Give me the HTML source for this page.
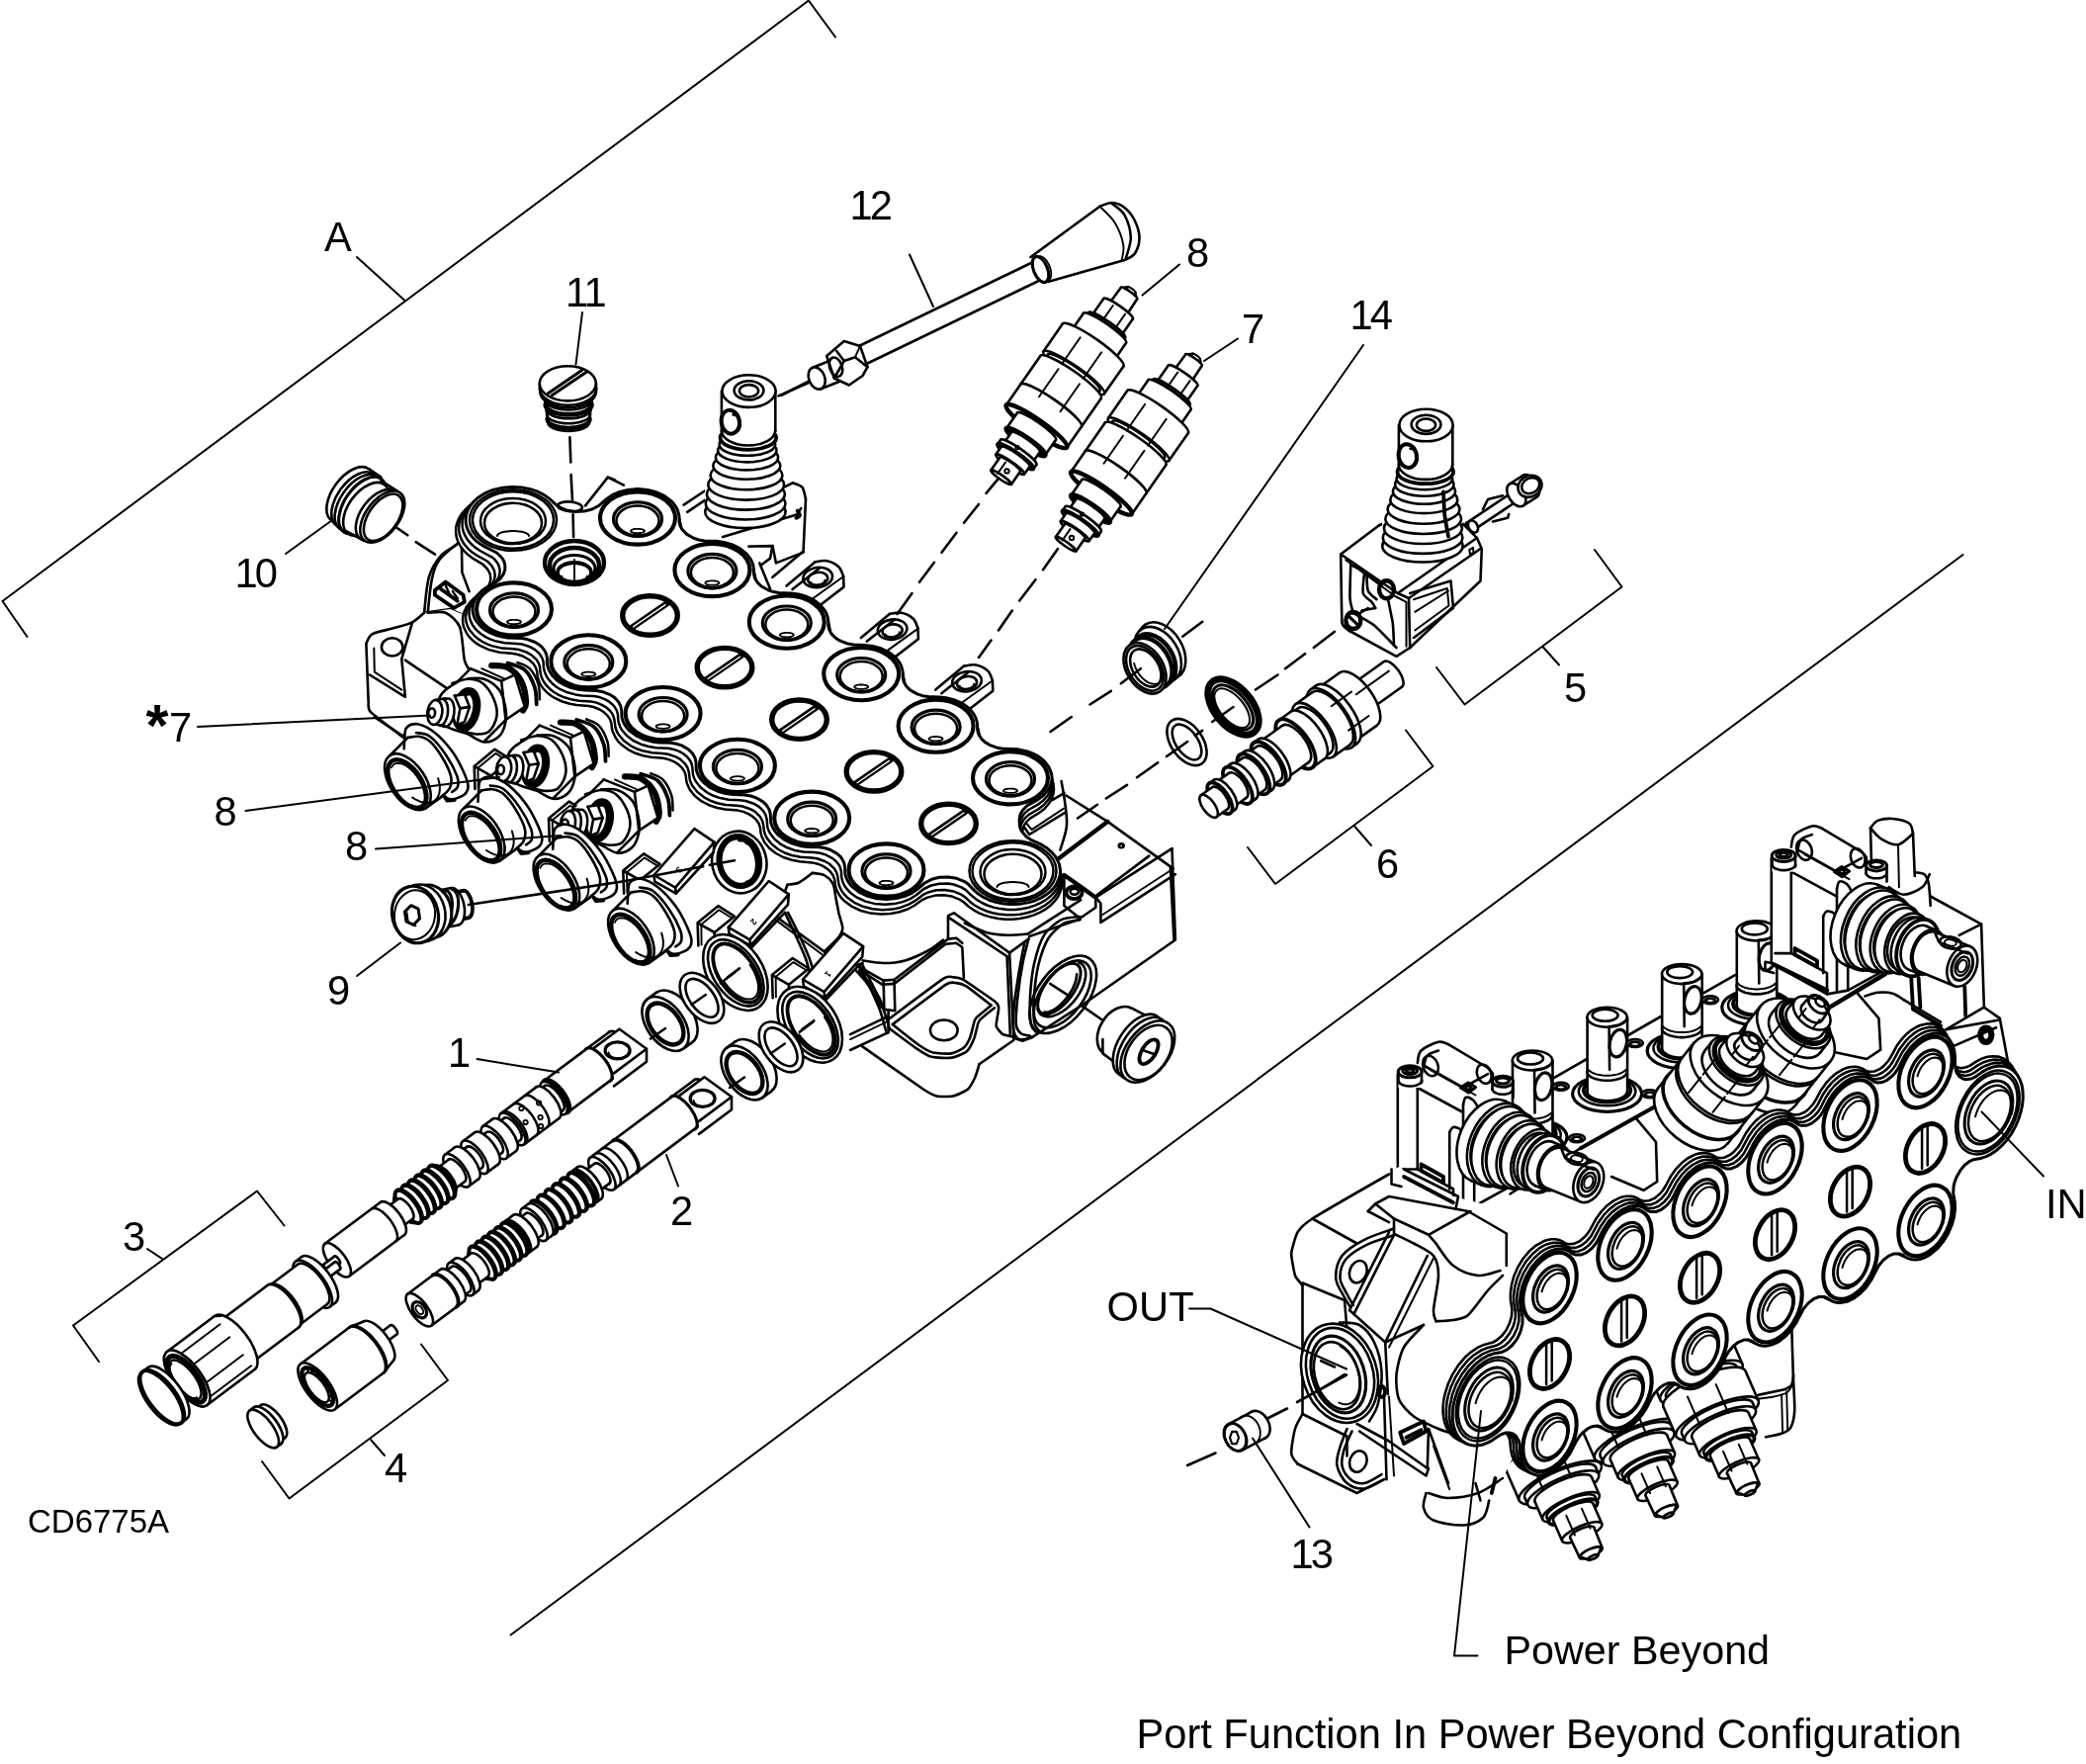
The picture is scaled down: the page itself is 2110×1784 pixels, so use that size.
<!DOCTYPE html><html><head><meta charset="utf-8"><title>CD6775A</title><style>html,body{margin:0;padding:0;background:#fff}svg{display:block}text{font-family:"Liberation Sans",sans-serif;fill:#000;stroke:none}svg{will-change:transform}</style></head><body><svg width="2110" height="1784" viewBox="0 0 2110 1784" fill="none" stroke="#000" stroke-width="2" stroke-linecap="round" stroke-linejoin="round"><rect x="0" y="0" width="2110" height="1784" fill="#fff" stroke="none"/><g stroke-width="2.6">
<path d="M691.6 510.6 L714.3 497.4 L793.4 492.7 L805.4 487.9 L815 499.8 L812.6 557.4 L781.4 583.7 L757.5 547.8Z" fill="#fff" stroke="none"/>
<path d="M691.6 510.6 L714.3 495.5"/>
<path d="M695.2 517.8 L716.7 503.4"/>
<path d="M793.4 492.7 L801.8 488.3"/>
<path d="M801.8 488.3C803.1 488.9 809.7 490.5 811.4 492.7C813.2 494.8 814.5 503 815 504.6"/>
<path d="M815 504.6 L812.6 557.4 L781.4 583.7"/>
<path d="M731.1 543 L806.6 520.2 L810.2 514.2"/>
<path d="M757.5 552.6 L781.4 552.1 L785 569.4 L812.6 558.6"/>
<path d="M781.4 552.1 L779.1 564.6 L769.5 571.8"/>
<path d="M768.3 569.4 L779.1 595.7"/>
<path d="M805.4 523.8C806 523.4 808.8 522.6 809 521.4C809.2 520.2 807 517.4 806.6 516.6" stroke-width="3.8"/>
<path d="M467.4 533.4 L465.1 547.8 L445.9 562.2 L433.9 583.7 L429.1 619.7 L455.5 616.1 L469.8 622.1 L474.6 595.7 L493.8 571.8Z" fill="#fff" stroke="none"/>
<path d="M467.4 533.4C467.1 535.8 468.6 543 465.1 547.8C461.5 552.6 451.1 556.2 445.9 562.2C440.7 568.2 436.7 574.2 433.9 583.7C431.1 593.3 429.9 613.7 429.1 619.7"/>
<path d="M465.1 547.8C461.7 550.8 449.4 559.4 444.7 565.8C440 572.2 438.8 577.1 436.8 586.1C434.8 595.1 433.4 614.1 432.7 619.7"/>
<path d="M429.1 619.7 L455.5 616.1 L468.6 622.1"/>
<path d="M466.7 533.4 L467.4 578.9 L474.6 598.1"/>
<path d="M439.9 596.9 L450.7 588.5 L468.6 601.7 L469.8 608.9 L459.1 614.9 L439.9 601.7 L439.9 596.9" stroke-width="3.8"/>
<path d="M445.9 595.7 L462.7 607.7" stroke-width="3.8"/>
<path d="M450.7 592.1 L455.5 602.9" stroke-width="2.5"/>
<path d="M457.9 598.1 L462.7 605.3" stroke-width="2.5"/>
<path d="M429.1 619.7 L417.1 629.3 L376.4 641.3 L370.4 650.9 L372.8 713.2 L407.5 744.3 L469.8 691.6 L469.8 622.1 L455.5 616.1Z" fill="#fff" stroke="none"/>
<path d="M429.1 619.7C427.5 621 421.3 627.2 417.1 629.3C413 631.4 403.4 633.7 397.9 635.3C392.5 636.9 380 639.2 376.4 641.3C372.7 643.3 371.2 649.6 370.4 650.9"/>
<path d="M370.4 650.9 L372.8 713.2"/>
<path d="M372.8 713.2C373 713.9 371.7 717.1 375.2 720.4C378.6 723.6 404.3 743 407.5 745.5"/>
<path d="M417.1 629.3 L406.3 666.4 L409.9 704.8 L374 682.5"/>
<path d="M378.3 655.6 L378.8 679.6 L406.3 697.6" stroke-width="2"/>
<ellipse cx="396.7" cy="654.4" rx="10.8" ry="9.1"/>
<path d="M409.9 667.6 L453.1 696.9"/>
<path d="M432.7 619.7C435.1 619.7 446.4 617.8 450.7 619.7C455 621.6 462.5 627.7 465.1 634.1C467.6 640.5 468.6 661.9 469.8 667.6C471.1 673.4 474 675.9 474.6 677.2"/>
<path d="M378.8 725.2 L407.5 744.3 L421.9 732.3"/>
<g transform="translate(0 0)"><path d="M795.5 592.4 L824.3 568.4 L844.7 570.8 L853.1 582.8 L853.5 593.6 L830.3 611.5 L809.9 607.9Z" fill="#fff" stroke="none"/>
<path d="M795.5 592.4 L824.3 568.4"/>
<path d="M824.3 568.4C826.3 568.2 832.3 566.4 836.3 567.2C840.3 568 845.5 570.6 848.3 573.2C851.1 575.8 852.3 581.2 853.1 582.8"/>
<path d="M853.1 582.8 L853.5 593.6 L830.3 611.5"/>
<path d="M801.5 596 L829.1 574.4"/>
<path d="M821.9 605.5 L851.9 584" stroke-width="2"/>
<ellipse cx="827.2" cy="584" rx="14.9" ry="10.1" transform="rotate(-8 827.2 584)"/>
<ellipse cx="827.2" cy="585.4" rx="10.1" ry="6.5" transform="rotate(-8 827.2 585.4)"/>
<path d="M834.3 586.6 L834.3 587.2 L834.1 587.9 L833.7 588.5 L833.1 589.1 L832.4 589.7 L831.5 590.2 L830.5 590.6 L829.4 591 L828.3 591.3 L827.1 591.4 L826 591.5 L824.8 591.4 L823.7 591.3 L822.8 591 L821.9 590.7 L821.2 590.3 L820.6 589.7 L820.2 589.2 L820.1 588.6" stroke-width="1.9"/></g>
<g transform="translate(75.4 52.6)"><path d="M795.5 592.4 L824.3 568.4 L844.7 570.8 L853.1 582.8 L853.5 593.6 L830.3 611.5 L809.9 607.9Z" fill="#fff" stroke="none"/>
<path d="M795.5 592.4 L824.3 568.4"/>
<path d="M824.3 568.4C826.3 568.2 832.3 566.4 836.3 567.2C840.3 568 845.5 570.6 848.3 573.2C851.1 575.8 852.3 581.2 853.1 582.8"/>
<path d="M853.1 582.8 L853.5 593.6 L830.3 611.5"/>
<path d="M801.5 596 L829.1 574.4"/>
<path d="M821.9 605.5 L851.9 584" stroke-width="2"/>
<ellipse cx="827.2" cy="584" rx="14.9" ry="10.1" transform="rotate(-8 827.2 584)"/>
<ellipse cx="827.2" cy="585.4" rx="10.1" ry="6.5" transform="rotate(-8 827.2 585.4)"/>
<path d="M834.3 586.6 L834.3 587.2 L834.1 587.9 L833.7 588.5 L833.1 589.1 L832.4 589.7 L831.5 590.2 L830.5 590.6 L829.4 591 L828.3 591.3 L827.1 591.4 L826 591.5 L824.8 591.4 L823.7 591.3 L822.8 591 L821.9 590.7 L821.2 590.3 L820.6 589.7 L820.2 589.2 L820.1 588.6" stroke-width="1.9"/></g>
<g transform="translate(150.8 105.2)"><path d="M795.5 592.4 L824.3 568.4 L844.7 570.8 L853.1 582.8 L853.5 593.6 L830.3 611.5 L809.9 607.9Z" fill="#fff" stroke="none"/>
<path d="M795.5 592.4 L824.3 568.4"/>
<path d="M824.3 568.4C826.3 568.2 832.3 566.4 836.3 567.2C840.3 568 845.5 570.6 848.3 573.2C851.1 575.8 852.3 581.2 853.1 582.8"/>
<path d="M853.1 582.8 L853.5 593.6 L830.3 611.5"/>
<path d="M801.5 596 L829.1 574.4"/>
<path d="M821.9 605.5 L851.9 584" stroke-width="2"/>
<ellipse cx="827.2" cy="584" rx="14.9" ry="10.1" transform="rotate(-8 827.2 584)"/>
<ellipse cx="827.2" cy="585.4" rx="10.1" ry="6.5" transform="rotate(-8 827.2 585.4)"/>
<path d="M834.3 586.6 L834.3 587.2 L834.1 587.9 L833.7 588.5 L833.1 589.1 L832.4 589.7 L831.5 590.2 L830.5 590.6 L829.4 591 L828.3 591.3 L827.1 591.4 L826 591.5 L824.8 591.4 L823.7 591.3 L822.8 591 L821.9 590.7 L821.2 590.3 L820.6 589.7 L820.2 589.2 L820.1 588.6" stroke-width="1.9"/></g>
<path d="M1078.4 804.5 L1120.3 830.9 L1183.8 876.4 L1187.4 949.5 L1109.5 1010.6 L1068.8 919.5 L1061.6 847.6Z" fill="#fff" stroke="none"/>
<path d="M1078.4 804.5 L1120.3 830.9 L1183.8 876.4 L1187.4 949.5"/>
<path d="M1120.3 830.9 L1071.2 868" stroke-width="4.4"/>
<path d="M1162.3 865.6 L1109.5 905.2"/>
<ellipse cx="1134.2" cy="855.3" rx="2.4" ry="1.9"/>
<path d="M1073.6 790.1C1074.2 793.7 1076.3 804.1 1077.2 811.7C1078.1 819.3 1079.7 827.7 1078.9 835.6C1078.1 843.6 1073.5 855.6 1072.4 859.6"/>
<path d="M1076.5 802.1 L1030.4 828.5 L1041.2 844 L1077.9 821.3"/>
<path d="M1034 827.3 L1043.6 839.2 L1076 817.7" stroke-width="2"/>
<ellipse cx="747.8" cy="872" rx="27.5" ry="31.5" fill="#fff" transform="rotate(-12 747.8 872)"/>
<ellipse cx="747.8" cy="871" rx="20.1" ry="25" stroke-width="6.2" transform="rotate(-10 747.8 871)"/>
<path d="M748.1 849 L750.4 848.9 L752.8 849.4 L755.2 850.5 L757.4 852.2 L759.6 854.3 L761.5 856.9 L763.1 859.9 L764.5 863.2 L765.5 866.7 L766.1 870.4 L766.4 874 L766.2 877.6 L765.7 880.9 L764.8 884 L763.6 886.8 L762 889.1 L760.1 890.9 L758.1 892.2 L755.8 892.9" stroke-width="5"/>
<path d="M754.9 852.4 L756.7 852.9 L758.4 853.9 L760.1 855.4 L761.7 857.3 L763.2 859.6 L764.5 862.2 L765.5 865 L766.4 868.1 L766.9 871.2 L767.2 874.3 L767.1 877.4 L766.8 880.3 L766.2 882.9 L765.4 885.3 L764.3 887.2 L763 888.8 L761.5 889.8" stroke-width="3.1"/>
<path d="M760.7 856.2 L762 857.1 L763.2 858.3 L764.4 860 L765.5 861.9 L766.5 864.2 L767.3 866.6 L767.9 869.1 L768.4 871.7 L768.7 874.4 L768.7 876.9 L768.6 879.3 L768.2 881.5 L767.7 883.5 L766.9 885.1 L766 886.4" stroke-width="2.5"/>
<path d="M717.8 874.7 L743 870.2"/>
<path d="M796.5 894.8 L808.4 892.5 L821.8 882.9 L833.7 885.1 L842.6 894 L845.6 908.9 L848.5 923.7 L852.3 938.6 L848.5 947.5 L833.7 962.4 L784.7 926.7Z" fill="#fff" stroke="none"/>
<path d="M796.5 894.8C798.1 894.5 805.1 894.1 808.4 892.5C811.8 890.9 820 884.2 821.8 882.9"/>
<path d="M821.8 882.9C823.4 883.2 830.9 883.6 833.7 885.1C836.5 886.6 841 890.8 842.6 894C844.2 897.2 844.8 904.9 845.6 908.9C846.4 912.8 847.7 919.8 848.5 923.7C849.4 927.7 852.3 935.4 852.3 938.6C852.3 941.8 851 944.3 848.5 947.5C846.1 950.7 835.7 960.4 833.7 962.4"/>
<path d="M796.5 894.8 L784.7 926.7 L833.7 962.4"/>
<path d="M784.7 930.4 L831.5 965.3" stroke-width="2"/>
<path d="M478.6 564.9 L488.2 570.6 L493.1 575.5 L495.2 579.3 L495.9 581.3 L496.3 585.3 L496.1 587.3 L494.9 591.2 L492.7 595 L489.4 598.3 L480.6 604.3 L476 608.4 L471.7 614 L469.1 619.8 L468.3 623.6 L468 626.9 L468.3 630.4 L469.1 634.2 L472.2 640.7 L474.7 644.2 L477.6 647.1 L481.1 650.1 L485.4 652.9 L494.6 657.1 L505.3 659.8 L517.4 660.8 L523.2 661.7 L528.7 663.5 L535.6 667.5 L539.1 670.8 L541.7 674.6 L543.1 678.7 L543.6 683.8 L544.4 687 L545.8 690.5 L547.8 694 L550.2 697.2 L553.6 700.6 L557.2 703.5 L561.6 706.2 L568.8 709.5 L576.4 711.7 L583.3 712.9 L595.7 714 L601.3 715.3 L606.5 717.5 L610.9 720.3 L614.4 723.6 L617 727.4 L618.4 731.5 L618.9 736.6 L619.7 739.8 L622.8 746.3 L625.3 749.8 L628.2 752.7 L635.4 758.1 L642.8 761.8 L650.6 764.3 L658.6 765.7 L671 766.8 L676.6 768.1 L681.8 770.3 L686.2 773.1 L689.7 776.4 L692.3 780.2 L693.7 784.3 L694.2 789.4 L695 792.6 L697.9 798.9 L702.8 804.9 L709.8 810.4 L717.1 814.2 L725.6 817 L733.5 818.5 L746.3 819.6 L751.9 820.9 L757.1 823.1 L761.5 825.9 L765 829.2 L767.6 833 L769 837.1 L769.5 842.2 L770.3 845.4 L773.2 851.7 L778.1 857.7 L784.8 863 L792.4 867 L800.9 869.8 L808.8 871.3 L821.6 872.4 L827.2 873.7 L832.4 875.9 L836.8 878.7 L840.3 882 L842.9 885.8 L844.3 889.9 L844.8 895 L845.6 898.2 L847 901.7 L849 905.2 L851.4 908.4 L854.5 911.6 L861.9 916.9 L870.8 921 L880.7 923.6 L891.1 924.6 L900.9 924.1 L909.9 922.3 L918 919.5 L924.6 916 L933.3 909.8 L938.1 907.6 L946.1 905.6 L954.7 905.3 L963 906.6 L970.5 909.6 L974.7 912.3 L979.7 916.8 L984.4 920.1 L990.3 923.4 L996.4 925.8 L1002.5 927.6 L1009.8 929 L1016.7 929.7 L1024.3 929.7 L1031.2 929 L1038.9 927.5 L1045.8 925.4 L1051.7 922.8 L1057.9 919.3 L1063 915.4 L1067.4 910.7 L1070.5 906.3 L1073.5 899.2 L1074.5 892.1 L1073.7 885.4 L1072.5 881.8 L1070.8 878.3 L1066.2 871.9 L1060.6 866.7 L1054.6 862.7 L1043.8 857.2 L1039.9 854.1 L1038.3 852.4 L1035.8 848.7 L1035 846.7 L1034.2 842.7 L1034.5 838.6 L1035.1 836.6 L1035.9 834.6 L1038.5 830.9 L1042 827.6 L1051.2 822 L1056.7 817.7 L1061.5 812 L1064.5 806 L1065.5 802.6 L1066 798.7 L1065.3 791.9 L1064.2 788.7 L1062.4 785 L1060.2 781.8 L1057.3 778.5 L1053.7 775.3 L1049.5 772.4 L1044.8 769.9 L1039.7 767.8 L1034.3 766.2 L1028.7 765 L1016.5 764 L1010.6 763 L1005.2 761.2 L998.3 757.3 L994.7 753.9 L992.2 750.1 L990.8 746 L990.3 741.2 L989.4 737.7 L987.9 734 L985.9 730.7 L983.1 727.1 L979.8 724 L972.3 718.8 L965.1 715.5 L957.5 713.3 L950.6 712.1 L938.1 711 L932.5 709.7 L927.3 707.5 L922.9 704.7 L919.3 701.4 L916.8 697.6 L915.4 693.5 L914.1 685.4 L911 678.9 L908.5 675.5 L905.6 672.5 L898.4 667.1 L892 663.9 L884.6 661.3 L876.4 659.7 L865.7 658.9 L859.8 657.9 L854.4 656.1 L849.6 653.7 L847.5 652.2 L843.9 648.8 L841.4 645 L840 640.9 L839.5 636.1 L838.6 632.6 L837.1 628.9 L835.3 625.9 L830.5 620.2 L823.9 615.1 L817.3 611.6 L810 609 L801.3 607.2 L790.3 606.3 L784.4 605.4 L779 603.6 L774.2 601.1 L772.1 599.6 L768.5 596.3 L766 592.5 L764.6 588.4 L764.1 583.6 L763.2 580.1 L761.7 576.4 L759.9 573.3 L755.1 567.6 L748.8 562.7 L741.9 559.1 L734.6 556.5 L725.9 554.6 L714.9 553.8 L709 552.8 L703.6 551 L698.8 548.6 L694.8 545.4 L693.1 543.7 L690.6 539.9 L689.2 535.8 L688.7 531 L687.8 527.5 L686.3 523.8 L684.3 520.5 L681.6 517.1 L678.7 514.2 L671.6 509.1 L662.7 505 L652.8 502.4 L642.4 501.4 L631.8 502 L622.8 503.9 L614.5 507 L608 510.6 L599.7 516.6 L594.8 518.9 L589.3 520.5 L580.5 521.4 L574.6 520.9 L566.3 518.8 L561.4 516.5 L552.4 509.7 L546.2 506.2 L539.1 503.2 L530.9 500.9 L521.8 499.5 L512.2 499.3 L502.1 500.3 L492.9 502.5 L486.3 505 L480.6 507.9 L475.1 511.5 L471 515.1 L467.3 519.3 L464.2 524.1 L462.4 528.6 L461.2 533.4 L461.1 538.7 L461.8 543.6 L463.4 548.1 L466.1 553 L469.3 557.1 L473.4 561.1Z" stroke-width="2.5" fill="#fff"/>
<path d="M482.2 561.6 L492 567 L494 568.6 L497.3 572.1 L499.5 576 L500.2 578.1 L500.7 582.2 L499.9 586.4 L498.1 590.4 L496.7 592.3 L493.2 595.7 L484.3 601.3 L479.3 605.6 L474.9 611.1 L472.2 616.8 L471 623.3 L471.2 627 L471.9 630.4 L473.3 634 L475 637.2 L480.2 643.3 L483.6 646.1 L487.7 648.8 L492.2 651.1 L497.2 653.1 L507.8 655.6 L519.6 656.3 L525.2 657.1 L533 659.8 L537.5 662.3 L542.7 667.2 L544.9 670.9 L546.1 674.9 L546.5 679.8 L547.2 683.2 L548.6 686.8 L550.6 690.5 L553.3 693.9 L556.2 696.7 L559.9 699.7 L564.1 702.3 L570.8 705.3 L578.8 707.6 L585.7 708.7 L597.7 709.4 L603.3 710.6 L608.3 712.6 L612.8 715.1 L616.5 718.3 L619.3 721.8 L620.2 723.7 L621.4 727.7 L622.5 735.8 L623.9 739.6 L625.6 742.8 L630.8 748.9 L637.7 754.1 L644.1 757.3 L650.9 759.6 L659.6 761.3 L670.2 761.9 L675.8 762.7 L683.6 765.4 L688.1 767.9 L693.3 772.8 L695.5 776.5 L696.7 780.5 L697.8 788.6 L698.9 791.9 L700.8 795.3 L705.4 801 L712.1 806.3 L718.4 809.7 L725.5 812.2 L734.1 814 L745.5 814.7 L751.1 815.5 L758.9 818.2 L763.4 820.7 L768.6 825.6 L770.8 829.3 L772 833.3 L773.1 841.4 L774.2 844.7 L776.1 848.1 L780.7 853.8 L787.2 859 L793.7 862.5 L800.8 865 L809.4 866.8 L820.8 867.5 L826.4 868.3 L834.2 871 L838.7 873.5 L843.9 878.4 L846.1 882.1 L847.3 886.1 L848.4 894.2 L849.8 898 L851.5 901.2 L854.1 904.7 L857.1 907.7 L864.2 912.8 L873 916.8 L882.5 919.3 L892.6 920.2 L902.7 919.6 L911.3 917.7 L919.2 914.7 L925.4 911.2 L933.7 904.9 L938.6 902.5 L947 900.3 L955.9 899.9 L964.5 901.4 L972.2 904.6 L976.4 907.5 L981.4 912.2 L985.8 915.5 L991.4 918.7 L997.2 921.2 L1003.8 923.2 L1010.3 924.5 L1017.9 925.3 L1025.1 925.3 L1031.8 924.7 L1038.8 923.3 L1045 921.5 L1051.6 918.7 L1057.2 915.5 L1062.4 911.5 L1066.2 907.6 L1069.6 902.8 L1072.5 896 L1073.5 888.9 L1072.5 881.8 L1069.5 875 L1064.8 868.9 L1059.3 864 L1053.3 860.2 L1042.8 855.2 L1038.8 852.3 L1034.5 847.3 L1033.5 845.4 L1032.4 841.5 L1032.2 838.9 L1032.6 834.8 L1033.3 832.8 L1035.5 828.9 L1037 827.1 L1040.7 823.9 L1050 818.5 L1055.8 814 L1060.5 808.6 L1063.6 802.7 L1065 796.2 L1064.9 792.5 L1064.3 789.1 L1063.1 785.5 L1061.4 782.3 L1059.1 779 L1056.5 776.1 L1053 773 L1048.3 769.9 L1043.8 767.6 L1038.8 765.7 L1028.2 763.2 L1016.3 762.4 L1010.7 761.6 L1002.8 759 L998.4 756.4 L993.2 751.5 L991 747.8 L989.8 743.8 L989.4 739.2 L988.7 735.8 L987.3 732.2 L985.3 728.5 L983 725.5 L979.7 722.3 L976 719.3 L971.8 716.7 L964.4 713.5 L957.1 711.4 L950.2 710.3 L938.1 709.6 L932.5 708.4 L927.4 706.4 L923 703.9 L919.3 700.7 L916.5 697.2 L915.6 695.3 L914.4 691.3 L914 686.6 L913.3 683.2 L911.9 679.7 L910.2 676.5 L905 670.4 L898.1 665.2 L891.7 662 L884.9 659.7 L876.2 657.9 L865.5 657.3 L859.9 656.5 L854.5 654.9 L847.6 651.3 L843.9 648.2 L841.1 644.6 L840.2 642.7 L839 638.7 L837.9 630.9 L836.8 627.6 L834.9 624.2 L830.3 618.5 L823.6 613.2 L817.3 609.8 L810.2 607.3 L800.8 605.4 L790.1 604.8 L784.5 604 L779.1 602.4 L772.2 598.8 L767 593.9 L764.8 590.2 L763.6 586.2 L762.5 578.4 L761.4 575.1 L759.5 571.6 L754.9 565.9 L748.4 560.8 L741.9 557.3 L734.8 554.8 L725.4 552.8 L714.7 552.2 L709.1 551.4 L701.2 548.8 L696.8 546.2 L693.1 543.1 L691.6 541.3 L689.4 537.6 L688.2 533.6 L687.8 529 L687.1 525.6 L685.7 522 L684 518.8 L681.4 515.3 L678.4 512.3 L671.3 507.2 L662.8 503.3 L653.4 500.8 L642.9 499.8 L632.8 500.4 L624.2 502.3 L615.7 505.6 L609.6 509.1 L601.6 515.3 L596.9 517.7 L588.9 520 L580.2 520.6 L571.7 519.4 L566.4 517.7 L561.7 515.3 L553.5 508.8 L547.8 505.2 L540.7 502 L532.5 499.5 L523.4 498 L513.6 497.6 L503.5 498.7 L494.8 500.8 L488.3 503.2 L483.2 505.8 L478.2 509 L473.6 512.9 L470.1 517 L467.1 521.6 L465.2 526.2 L464.2 531.2 L464.1 535.9 L465 541 L466.7 545.5 L469.5 550.3 L472.9 554.3 L477.3 558.3Z" stroke-width="2.5" fill="#fff"/>
<path d="M485.6 557 L498.2 563.9 L500.1 565.5 L503 569.1 L504.1 571 L505.4 575 L505.6 579.2 L504.6 583.3 L503.7 585.2 L501.1 588.9 L497.5 592.2 L488.3 597.6 L483.7 601.2 L479.1 606.3 L476 611.9 L475 615.4 L474.5 618.6 L474.6 622.1 L475.3 625.9 L476.5 629.1 L478.2 632.4 L480.3 635.3 L483.3 638.5 L486.8 641.3 L490.7 643.9 L495.1 646.1 L500.5 648.1 L510.8 650.3 L522.4 650.9 L528.3 651.6 L536.4 654.3 L541 656.9 L544.8 660.2 L546.3 662 L548.6 665.8 L549.7 670 L549.9 674.9 L550.5 678.2 L551.8 681.9 L553.7 685.4 L556.2 688.7 L559.2 691.8 L562.8 694.7 L566.9 697.2 L573.9 700.3 L581.9 702.4 L588.6 703.4 L600.7 704 L606.4 705.1 L611.7 707.1 L616.3 709.7 L620.1 713 L621.6 714.8 L623.9 718.6 L625 722.8 L625.2 727.7 L625.8 731 L627.1 734.7 L628.8 738 L633.7 743.8 L640.5 749 L648.2 752.7 L656.2 755 L663.5 756.2 L676 756.8 L681.7 757.9 L687 759.9 L691.6 762.5 L695.4 765.8 L698.2 769.5 L699.2 771.4 L700.3 775.6 L701 783.5 L702 786.7 L703.8 790.3 L708.5 796.2 L715 801.3 L721.6 804.8 L728.4 807.1 L737.1 808.8 L748.3 809.3 L754.2 810 L762.3 812.7 L766.9 815.3 L768.9 816.9 L772.2 820.4 L774.5 824.2 L775.6 828.4 L776.3 836.3 L777.3 839.5 L779.1 843.1 L783.6 848.8 L790 853.9 L796.3 857.3 L803.7 859.9 L812.4 861.6 L823.6 862.1 L829.5 862.8 L835 864.4 L842.2 868.1 L846 871.4 L848.8 875.1 L849.8 877 L850.9 881.2 L851.1 886.1 L851.7 889.4 L852.8 892.8 L854.7 896.4 L857.2 899.7 L859.8 902.5 L863.3 905.3 L866.9 907.7 L875.4 911.6 L884.5 913.9 L894.8 914.8 L904.5 914.1 L913 912.1 L920.5 909.1 L926.7 905.3 L934.5 899 L941.8 895.5 L950.1 893.7 L959 893.6 L964.7 894.5 L972.5 897.4 L976.9 900.1 L983.7 906.6 L987.8 909.8 L993.1 913 L998.5 915.5 L1004.8 917.6 L1011.9 919.1 L1019.1 919.9 L1026.5 919.9 L1032.9 919.3 L1039.7 918 L1046.4 915.9 L1051.9 913.5 L1057.3 910.4 L1062.3 906.6 L1066 902.9 L1069.3 898.3 L1072.1 891.7 L1073 884.9 L1072.7 881.4 L1071.8 877.5 L1068.8 870.9 L1064.5 865.4 L1058.5 860.3 L1052.6 856.8 L1042.5 852.1 L1038.5 849.3 L1034.1 844.2 L1033.1 842.3 L1031.9 838.4 L1031.7 834.2 L1032.1 830 L1032.8 828 L1035.1 824.1 L1036.6 822.3 L1040.4 819 L1049.9 813.7 L1055.3 809.6 L1060.2 804 L1063.1 798.4 L1064 795.1 L1064.5 791.6 L1064.4 788.4 L1063.7 784.9 L1062.5 781.7 L1060.8 778.4 L1056.4 772.9 L1052.5 769.6 L1048.6 767 L1043.9 764.7 L1039.1 762.9 L1028.9 760.5 L1016.5 759.9 L1010.6 759.1 L1005.1 757.5 L997.9 753.8 L994.1 750.6 L992.6 748.8 L990.3 744.9 L989.2 740.8 L989 736.1 L988.4 732.8 L987.1 729.1 L985.2 725.6 L982.7 722.3 L979.7 719.2 L976.1 716.3 L972 713.8 L965 710.7 L957 708.6 L950.3 707.6 L938.1 707 L932.4 705.9 L927.1 703.9 L922.5 701.3 L918.7 698 L915.9 694.3 L914.9 692.4 L913.8 688.2 L913.6 683.5 L913 680.3 L911.9 676.8 L910 673.3 L905.1 667.4 L898.3 662.2 L891.2 658.8 L882.6 656.2 L874.9 655.1 L862.7 654.5 L857 653.3 L851.7 651.4 L847.1 648.7 L843.3 645.5 L840.5 641.8 L839.5 639.8 L838.4 635.7 L838.2 631 L837.6 627.7 L836.5 624.3 L834.9 621.2 L830.2 615.3 L823.7 610.2 L817.1 606.7 L810 604.3 L800.9 602.7 L790.3 602.2 L784.4 601.5 L776.3 598.8 L771.7 596.2 L767.9 592.9 L765.1 589.2 L764.1 587.3 L763 583.1 L762.8 578.4 L762.2 575.2 L761.1 571.7 L759.5 568.6 L754.8 562.7 L748.6 557.8 L742.3 554.5 L734.9 551.9 L726.2 550.2 L714.9 549.7 L709 548.9 L700.9 546.3 L696.3 543.6 L692.5 540.4 L691 538.6 L688.7 534.7 L687.6 530.6 L687.4 525.9 L686.8 522.6 L685.7 519.2 L683.8 515.6 L681.7 512.7 L678.7 509.5 L675.2 506.7 L671.6 504.3 L663.1 500.4 L653.3 498 L643.7 497.2 L633.7 498 L624.9 500.1 L617.4 503.2 L611.5 506.9 L604 513.2 L597 516.7 L588.9 518.6 L580.3 518.9 L571.9 517.5 L566.8 515.6 L562.3 513.1 L554.7 506.6 L549.1 502.9 L542.3 499.6 L534.5 497.1 L525 495.4 L516.1 495 L506.7 495.8 L497.4 498 L491.6 500 L485.9 502.9 L481.2 506 L476.7 509.7 L473.3 513.6 L470.5 518.1 L468.7 522.5 L467.6 527.6 L467.6 532.4 L468.5 537 L470.4 541.7 L472.9 545.9 L476.5 550 L480.6 553.6Z" stroke-width="2.5" fill="#fff"/>
<path d="M490.3 552.9 L502.4 559 L507.6 564 L509.8 567.8 L510.4 569.8 L510.8 571.9 L510.8 576 L509.5 580 L508.5 581.9 L505.7 585.5 L501.9 588.7 L492.7 593.7 L487.7 597.3 L482.9 602.3 L479.8 607.6 L478.6 611.1 L478.1 614.4 L478.1 618 L478.7 621.2 L479.9 624.7 L481.5 627.8 L486.4 633.6 L489.7 636.4 L494 639.1 L502.8 642.8 L512.6 644.9 L527.8 645.6 L533.5 646.6 L541.3 649.5 L545.6 652.2 L547.5 653.8 L550.5 657.4 L552.5 661.2 L553.4 665.3 L553.3 670.1 L553.8 673.2 L554.9 676.8 L556.6 680.2 L559.2 683.8 L562.3 687 L566.2 690 L570.1 692.3 L577.2 695.3 L584.9 697.3 L592 698.1 L603.1 698.4 L608.8 699.4 L616.6 702.3 L620.9 705 L622.8 706.6 L625.8 710.2 L627.8 714 L628.7 718.1 L629 725.8 L630.1 729.3 L631.7 732.7 L634 736 L636.8 739 L643.3 743.9 L650.6 747.5 L659.2 749.9 L666.7 750.9 L678.4 751.2 L684.1 752.2 L689.4 753.9 L696.2 757.8 L699.7 761.1 L701.1 763 L703.1 766.8 L704 770.9 L704.3 778.6 L705.2 781.7 L706.8 785.1 L708.8 788.1 L711.5 791.2 L717.8 796.3 L725.4 800 L733.9 802.6 L741.6 803.6 L753.7 804 L759.4 805 L764.7 806.7 L771.5 810.6 L775 813.9 L777.5 817.7 L778.4 819.6 L779.3 823.7 L779.6 831.4 L780.7 834.9 L782.1 837.9 L784.1 840.9 L786.8 844 L792.9 848.9 L800.7 852.8 L809.2 855.4 L816.9 856.4 L829 856.8 L834.7 857.8 L840 859.5 L846.8 863.4 L850.3 866.7 L851.7 868.6 L853.7 872.4 L854.6 876.5 L854.9 884.2 L856 887.7 L857.6 891.1 L859.9 894.4 L862.7 897.4 L869.2 902.3 L877.8 906.3 L887.1 908.7 L896.7 909.4 L906.5 908.5 L914.6 906.5 L922.2 903.3 L927.7 899.6 L935.3 893 L942.3 889.3 L950.4 887.2 L959.1 886.9 L967.6 888.3 L975.1 891.3 L979.3 894.1 L985.8 900.9 L989.6 904.1 L994.8 907.4 L1000.7 910.2 L1007.1 912.3 L1013.8 913.8 L1020.8 914.5 L1027.8 914.5 L1034 913.9 L1040.8 912.6 L1047 910.7 L1052.9 908.1 L1058.3 904.8 L1062.5 901.6 L1066.2 897.7 L1068.9 893.7 L1071.6 887.4 L1072.3 884.2 L1072.5 880.3 L1071.4 873.8 L1068.3 867.3 L1063.8 861.8 L1058.3 857.2 L1052.3 853.6 L1042.3 849.1 L1038.2 846.3 L1033.7 841.1 L1032.6 839.2 L1031.4 835.2 L1031.1 829.4 L1031.6 825.2 L1032.3 823.1 L1034.6 819.2 L1038 815.7 L1040 814.1 L1049.6 808.9 L1055 804.9 L1059.4 800.1 L1062.5 794.5 L1063.5 791.2 L1064 788.1 L1063.9 784.7 L1063.3 781.6 L1060.7 775.4 L1056.2 769.7 L1052.5 766.6 L1048.8 764.1 L1044.3 761.8 L1039.2 759.9 L1029 757.8 L1014.2 757.2 L1008.5 756.2 L1000.8 753.3 L996.4 750.6 L992.9 747.3 L990.4 743.7 L989.5 741.7 L988.6 737.7 L988.6 732.9 L988.1 729.8 L987 726.2 L985.1 722.4 L982.5 719 L979.6 716 L976.2 713.3 L971.8 710.7 L964.7 707.7 L957 705.7 L949.9 704.9 L938.8 704.6 L933.1 703.7 L927.8 701.9 L921 698.1 L917.5 694.8 L916.1 693 L914.1 689.2 L913.2 685.1 L913.2 680.3 L912.7 677.2 L911.6 673.7 L910.1 670.5 L907.8 667.3 L905 664.2 L898.5 659.3 L891.2 655.8 L882.6 653.4 L875.1 652.4 L863.4 652.1 L857.7 651.1 L850 648.2 L845.6 645.5 L842.1 642.2 L840.7 640.5 L838.7 636.6 L837.8 632.6 L837.8 627.8 L837.3 624.7 L836.2 621.1 L834.7 618 L830 612.1 L823.4 606.9 L816.3 603.5 L807.8 600.9 L800.1 599.9 L788 599.5 L782.3 598.6 L777 596.8 L770.2 593 L766.7 589.7 L764.2 586 L763.3 584.1 L762.4 580 L762 572.4 L761.1 569.3 L759.5 565.8 L755.2 560.1 L748.7 554.9 L740.9 550.9 L732.4 548.4 L724.7 547.3 L712.6 547 L706.9 546 L701.6 544.3 L694.8 540.4 L689.9 535.4 L687.9 531.5 L687 527.5 L687 522.7 L686.5 519.6 L685.4 516 L683.9 512.9 L681.6 509.6 L678.8 506.6 L672.3 501.7 L664 497.8 L655 495.5 L645.2 494.6 L635 495.5 L626.9 497.5 L619.3 500.7 L613.8 504.4 L606.1 511.2 L599 515 L590.6 517.1 L581.7 517.4 L573 515.9 L567.8 513.9 L563.2 511.2 L555.5 504.2 L550.5 500.6 L543.8 497.2 L536.4 494.7 L527.4 492.9 L518 492.4 L508.7 493.2 L499.7 495.2 L494.2 497.2 L488.7 499.9 L484.1 502.9 L479.7 506.8 L476.2 510.8 L473.5 515.3 L471.9 519.6 L471.1 524.5 L471.2 529.2 L472.2 533.5 L474.3 538.2 L477.1 542.4 L481 546.6 L485.2 549.8Z" stroke-width="3" fill="#fff"/>
<ellipse cx="645" cy="524" rx="38" ry="26.6" stroke-width="4.1" fill="#fff"/>
<ellipse cx="645" cy="525" rx="24.5" ry="17.1" stroke-width="3.2"/>
<ellipse cx="645" cy="526.5" rx="21.5" ry="15" stroke-width="2.5"/>
<path d="M664.3 534.4 L662.9 536.3 L661 538.1 L658.7 539.6 L656.1 540.9 L653.1 541.9 L650 542.5 L646.7 542.9 L643.3 542.9 L640 542.5 L636.9 541.9 L633.9 540.9 L631.3 539.6 L629 538.1 L627.1 536.3 L625.7 534.4" stroke-width="2"/>
<path d="M652 537 L651.9 537.4 L651.6 537.7 L651.1 538.1 L650.4 538.4 L649.6 538.7 L648.7 538.9 L647.6 539 L646.5 539.2 L645.3 539.2 L644.1 539.2 L643 539.1 L641.8 539 L640.8 538.8 L639.9 538.5 L639.2 538.2 L638.6 537.9 L638.2 537.6 L638 537.2 L638 536.8 L638.2 536.4 L638.6 536.1 L639.2 535.8 L639.9 535.5 L640.8 535.2 L641.8 535 L643 534.9 L644.1 534.8 L645.3 534.8 L646.5 534.8 L647.6 535 L648.7 535.1 L649.6 535.3 L650.4 535.6 L651.1 535.9 L651.6 536.3 L651.9 536.6 L652 537" stroke-width="1.8"/>
<ellipse cx="720.4" cy="576.5" rx="38" ry="26.6" stroke-width="4.1" fill="#fff"/>
<ellipse cx="720.4" cy="577.5" rx="24.5" ry="17.1" stroke-width="3.2"/>
<ellipse cx="720.4" cy="579" rx="21.5" ry="15" stroke-width="2.5"/>
<path d="M739.7 587 L738.3 588.9 L736.4 590.6 L734.1 592.1 L731.5 593.4 L728.5 594.4 L725.4 595.1 L722.1 595.4 L718.7 595.4 L715.4 595.1 L712.3 594.4 L709.3 593.4 L706.7 592.1 L704.4 590.6 L702.5 588.9 L701.1 587" stroke-width="2"/>
<path d="M727.4 589.5 L727.3 589.9 L727 590.3 L726.5 590.6 L725.8 590.9 L725 591.2 L724.1 591.4 L723 591.6 L721.9 591.7 L720.7 591.7 L719.5 591.7 L718.4 591.7 L717.2 591.5 L716.2 591.3 L715.3 591.1 L714.6 590.8 L714 590.5 L713.6 590.1 L713.4 589.7 L713.4 589.4 L713.6 589 L714 588.6 L714.6 588.3 L715.3 588 L716.2 587.8 L717.2 587.6 L718.4 587.4 L719.5 587.4 L720.7 587.4 L721.9 587.4 L723 587.5 L724.1 587.7 L725 587.9 L725.8 588.2 L726.5 588.5 L727 588.8 L727.3 589.2 L727.4 589.5" stroke-width="1.8"/>
<ellipse cx="795.8" cy="629.1" rx="38" ry="26.6" stroke-width="4.1" fill="#fff"/>
<ellipse cx="795.8" cy="630.1" rx="24.5" ry="17.1" stroke-width="3.2"/>
<ellipse cx="795.8" cy="631.6" rx="21.5" ry="15" stroke-width="2.5"/>
<path d="M815.1 639.5 L813.7 641.4 L811.8 643.2 L809.5 644.7 L806.9 646 L803.9 647 L800.8 647.6 L797.5 648 L794.1 648 L790.8 647.6 L787.7 647 L784.7 646 L782.1 644.7 L779.8 643.2 L777.9 641.4 L776.5 639.5" stroke-width="2"/>
<path d="M802.8 642.1 L802.7 642.5 L802.4 642.8 L801.9 643.2 L801.2 643.5 L800.4 643.8 L799.5 644 L798.4 644.1 L797.3 644.3 L796.1 644.3 L794.9 644.3 L793.8 644.2 L792.6 644.1 L791.6 643.9 L790.7 643.6 L790 643.3 L789.4 643 L789 642.7 L788.8 642.3 L788.8 641.9 L789 641.5 L789.4 641.2 L790 640.9 L790.7 640.6 L791.6 640.3 L792.6 640.1 L793.8 640 L794.9 639.9 L796.1 639.9 L797.3 639.9 L798.4 640.1 L799.5 640.2 L800.4 640.4 L801.2 640.7 L801.9 641 L802.4 641.4 L802.7 641.7 L802.8 642.1" stroke-width="1.8"/>
<ellipse cx="871.2" cy="681.6" rx="38" ry="26.6" stroke-width="4.1" fill="#fff"/>
<ellipse cx="871.2" cy="682.6" rx="24.5" ry="17.1" stroke-width="3.2"/>
<ellipse cx="871.2" cy="684.1" rx="21.5" ry="15" stroke-width="2.5"/>
<path d="M890.5 692.1 L889.1 694 L887.2 695.7 L884.9 697.2 L882.3 698.5 L879.3 699.5 L876.2 700.2 L872.9 700.5 L869.5 700.5 L866.2 700.2 L863.1 699.5 L860.1 698.5 L857.5 697.2 L855.2 695.7 L853.3 694 L851.9 692.1" stroke-width="2"/>
<path d="M878.2 694.6 L878.1 695 L877.8 695.4 L877.3 695.7 L876.6 696 L875.8 696.3 L874.9 696.5 L873.8 696.7 L872.7 696.8 L871.5 696.8 L870.3 696.8 L869.2 696.8 L868 696.6 L867 696.4 L866.1 696.2 L865.4 695.9 L864.8 695.6 L864.4 695.2 L864.2 694.8 L864.2 694.5 L864.4 694.1 L864.8 693.7 L865.4 693.4 L866.1 693.1 L867 692.9 L868 692.7 L869.2 692.5 L870.3 692.5 L871.5 692.5 L872.7 692.5 L873.8 692.6 L874.9 692.8 L875.8 693 L876.6 693.3 L877.3 693.6 L877.8 693.9 L878.1 694.3 L878.2 694.6" stroke-width="1.8"/>
<ellipse cx="946.6" cy="734.2" rx="38" ry="26.6" stroke-width="4.1" fill="#fff"/>
<ellipse cx="946.6" cy="735.2" rx="24.5" ry="17.1" stroke-width="3.2"/>
<ellipse cx="946.6" cy="736.7" rx="21.5" ry="15" stroke-width="2.5"/>
<path d="M965.9 744.6 L964.5 746.5 L962.6 748.3 L960.3 749.8 L957.7 751.1 L954.7 752.1 L951.6 752.7 L948.3 753.1 L944.9 753.1 L941.6 752.7 L938.5 752.1 L935.5 751.1 L932.9 749.8 L930.6 748.3 L928.7 746.5 L927.3 744.6" stroke-width="2"/>
<path d="M953.6 747.2 L953.5 747.6 L953.2 747.9 L952.7 748.3 L952 748.6 L951.2 748.9 L950.3 749.1 L949.2 749.2 L948.1 749.4 L946.9 749.4 L945.7 749.4 L944.6 749.3 L943.4 749.2 L942.4 749 L941.5 748.7 L940.8 748.4 L940.2 748.1 L939.8 747.8 L939.6 747.4 L939.6 747 L939.8 746.6 L940.2 746.3 L940.8 746 L941.5 745.7 L942.4 745.4 L943.4 745.2 L944.6 745.1 L945.7 745 L946.9 745 L948.1 745 L949.2 745.2 L950.3 745.3 L951.2 745.5 L952 745.8 L952.7 746.1 L953.2 746.5 L953.5 746.8 L953.6 747.2" stroke-width="1.8"/>
<ellipse cx="1022" cy="786.8" rx="38" ry="26.6" stroke-width="4.1" fill="#fff"/>
<ellipse cx="1022" cy="787.8" rx="24.5" ry="17.1" stroke-width="3.2"/>
<ellipse cx="1022" cy="789.2" rx="21.5" ry="15" stroke-width="2.5"/>
<path d="M1041.3 797.2 L1039.9 799.1 L1038 800.8 L1035.7 802.3 L1033.1 803.6 L1030.1 804.6 L1027 805.3 L1023.7 805.6 L1020.3 805.6 L1017 805.3 L1013.9 804.6 L1010.9 803.6 L1008.3 802.3 L1006 800.8 L1004.1 799.1 L1002.7 797.2" stroke-width="2"/>
<path d="M1029 799.8 L1028.9 800.1 L1028.6 800.5 L1028.1 800.8 L1027.4 801.1 L1026.6 801.4 L1025.7 801.6 L1024.6 801.8 L1023.5 801.9 L1022.3 801.9 L1021.1 801.9 L1020 801.9 L1018.8 801.7 L1017.8 801.5 L1016.9 801.3 L1016.2 801 L1015.6 800.7 L1015.2 800.3 L1015 799.9 L1015 799.6 L1015.2 799.2 L1015.6 798.8 L1016.2 798.5 L1016.9 798.2 L1017.8 798 L1018.8 797.8 L1020 797.6 L1021.1 797.6 L1022.3 797.6 L1023.5 797.6 L1024.6 797.7 L1025.7 797.9 L1026.6 798.1 L1027.4 798.4 L1028.1 798.7 L1028.6 799 L1028.9 799.4 L1029 799.8" stroke-width="1.8"/>
<ellipse cx="520" cy="616" rx="38" ry="26.6" stroke-width="4.1" fill="#fff"/>
<ellipse cx="520" cy="617" rx="24.5" ry="17.1" stroke-width="3.2"/>
<ellipse cx="520" cy="618.5" rx="21.5" ry="15" stroke-width="2.5"/>
<path d="M539.3 626.4 L537.9 628.3 L536 630.1 L533.7 631.6 L531.1 632.9 L528.1 633.9 L525 634.5 L521.7 634.9 L518.3 634.9 L515 634.5 L511.9 633.9 L508.9 632.9 L506.3 631.6 L504 630.1 L502.1 628.3 L500.7 626.4" stroke-width="2"/>
<path d="M527 629 L526.9 629.4 L526.6 629.7 L526.1 630.1 L525.4 630.4 L524.6 630.7 L523.7 630.9 L522.6 631 L521.5 631.2 L520.3 631.2 L519.1 631.2 L518 631.1 L516.8 631 L515.8 630.8 L514.9 630.5 L514.2 630.2 L513.6 629.9 L513.2 629.6 L513 629.2 L513 628.8 L513.2 628.4 L513.6 628.1 L514.2 627.8 L514.9 627.5 L515.8 627.2 L516.8 627 L518 626.9 L519.1 626.8 L520.3 626.8 L521.5 626.8 L522.6 627 L523.7 627.1 L524.6 627.3 L525.4 627.6 L526.1 627.9 L526.6 628.3 L526.9 628.6 L527 629" stroke-width="1.8"/>
<ellipse cx="595.3" cy="668.8" rx="38" ry="26.6" stroke-width="4.1" fill="#fff"/>
<ellipse cx="595.3" cy="669.8" rx="24.5" ry="17.1" stroke-width="3.2"/>
<ellipse cx="595.3" cy="671.3" rx="21.5" ry="15" stroke-width="2.5"/>
<path d="M614.6 679.2 L613.2 681.1 L611.3 682.9 L609 684.4 L606.4 685.7 L603.4 686.7 L600.3 687.3 L597 687.7 L593.6 687.7 L590.3 687.3 L587.2 686.7 L584.2 685.7 L581.6 684.4 L579.3 682.9 L577.4 681.1 L576 679.2" stroke-width="2"/>
<path d="M602.3 681.8 L602.2 682.2 L601.9 682.5 L601.4 682.9 L600.7 683.2 L599.9 683.5 L599 683.7 L597.9 683.8 L596.8 684 L595.6 684 L594.4 684 L593.3 683.9 L592.1 683.8 L591.1 683.6 L590.2 683.3 L589.5 683 L588.9 682.7 L588.5 682.4 L588.3 682 L588.3 681.6 L588.5 681.2 L588.9 680.9 L589.5 680.6 L590.2 680.3 L591.1 680 L592.1 679.8 L593.3 679.7 L594.4 679.6 L595.6 679.6 L596.8 679.6 L597.9 679.8 L599 679.9 L599.9 680.1 L600.7 680.4 L601.4 680.7 L601.9 681.1 L602.2 681.4 L602.3 681.8" stroke-width="1.8"/>
<ellipse cx="670.6" cy="721.6" rx="38" ry="26.6" stroke-width="4.1" fill="#fff"/>
<ellipse cx="670.6" cy="722.6" rx="24.5" ry="17.1" stroke-width="3.2"/>
<ellipse cx="670.6" cy="724.1" rx="21.5" ry="15" stroke-width="2.5"/>
<path d="M689.9 732 L688.5 733.9 L686.6 735.7 L684.3 737.2 L681.7 738.5 L678.7 739.5 L675.6 740.1 L672.3 740.5 L668.9 740.5 L665.6 740.1 L662.5 739.5 L659.5 738.5 L656.9 737.2 L654.6 735.7 L652.7 733.9 L651.3 732" stroke-width="2"/>
<path d="M677.6 734.6 L677.5 735 L677.2 735.3 L676.7 735.7 L676 736 L675.2 736.3 L674.3 736.5 L673.2 736.6 L672.1 736.8 L670.9 736.8 L669.7 736.8 L668.6 736.7 L667.4 736.6 L666.4 736.4 L665.5 736.1 L664.8 735.8 L664.2 735.5 L663.8 735.2 L663.6 734.8 L663.6 734.4 L663.8 734 L664.2 733.7 L664.8 733.4 L665.5 733.1 L666.4 732.8 L667.4 732.6 L668.6 732.5 L669.7 732.4 L670.9 732.4 L672.1 732.4 L673.2 732.6 L674.3 732.7 L675.2 732.9 L676 733.2 L676.7 733.5 L677.2 733.9 L677.5 734.2 L677.6 734.6" stroke-width="1.8"/>
<ellipse cx="745.9" cy="774.4" rx="38" ry="26.6" stroke-width="4.1" fill="#fff"/>
<ellipse cx="745.9" cy="775.4" rx="24.5" ry="17.1" stroke-width="3.2"/>
<ellipse cx="745.9" cy="776.9" rx="21.5" ry="15" stroke-width="2.5"/>
<path d="M765.2 784.8 L763.8 786.7 L761.9 788.5 L759.6 790 L757 791.3 L754 792.3 L750.9 792.9 L747.6 793.3 L744.2 793.3 L740.9 792.9 L737.8 792.3 L734.8 791.3 L732.2 790 L729.9 788.5 L728 786.7 L726.6 784.8" stroke-width="2"/>
<path d="M752.9 787.4 L752.8 787.8 L752.5 788.1 L752 788.5 L751.3 788.8 L750.5 789.1 L749.6 789.3 L748.5 789.4 L747.4 789.6 L746.2 789.6 L745 789.6 L743.9 789.5 L742.7 789.4 L741.7 789.2 L740.8 788.9 L740.1 788.6 L739.5 788.3 L739.1 788 L738.9 787.6 L738.9 787.2 L739.1 786.8 L739.5 786.5 L740.1 786.2 L740.8 785.9 L741.7 785.6 L742.7 785.4 L743.9 785.3 L745 785.2 L746.2 785.2 L747.4 785.2 L748.5 785.4 L749.6 785.5 L750.5 785.7 L751.3 786 L752 786.3 L752.5 786.7 L752.8 787 L752.9 787.4" stroke-width="1.8"/>
<ellipse cx="821.2" cy="827.2" rx="38" ry="26.6" stroke-width="4.1" fill="#fff"/>
<ellipse cx="821.2" cy="828.2" rx="24.5" ry="17.1" stroke-width="3.2"/>
<ellipse cx="821.2" cy="829.7" rx="21.5" ry="15" stroke-width="2.5"/>
<path d="M840.5 837.6 L839.1 839.5 L837.2 841.3 L834.9 842.8 L832.3 844.1 L829.3 845.1 L826.2 845.7 L822.9 846.1 L819.5 846.1 L816.2 845.7 L813.1 845.1 L810.1 844.1 L807.5 842.8 L805.2 841.3 L803.3 839.5 L801.9 837.6" stroke-width="2"/>
<path d="M828.2 840.2 L828.1 840.6 L827.8 840.9 L827.3 841.3 L826.6 841.6 L825.8 841.9 L824.9 842.1 L823.8 842.2 L822.7 842.4 L821.5 842.4 L820.3 842.4 L819.2 842.3 L818 842.2 L817 842 L816.1 841.7 L815.4 841.4 L814.8 841.1 L814.4 840.8 L814.2 840.4 L814.2 840 L814.4 839.6 L814.8 839.3 L815.4 839 L816.1 838.7 L817 838.4 L818 838.2 L819.2 838.1 L820.3 838 L821.5 838 L822.7 838 L823.8 838.2 L824.9 838.3 L825.8 838.5 L826.6 838.8 L827.3 839.1 L827.8 839.5 L828.1 839.8 L828.2 840.2" stroke-width="1.8"/>
<ellipse cx="896.5" cy="880" rx="38" ry="26.6" stroke-width="4.1" fill="#fff"/>
<ellipse cx="896.5" cy="881" rx="24.5" ry="17.1" stroke-width="3.2"/>
<ellipse cx="896.5" cy="882.5" rx="21.5" ry="15" stroke-width="2.5"/>
<path d="M915.8 890.4 L914.4 892.3 L912.5 894.1 L910.2 895.6 L907.6 896.9 L904.6 897.9 L901.5 898.5 L898.2 898.9 L894.8 898.9 L891.5 898.5 L888.4 897.9 L885.4 896.9 L882.8 895.6 L880.5 894.1 L878.6 892.3 L877.2 890.4" stroke-width="2"/>
<path d="M903.5 893 L903.4 893.4 L903.1 893.7 L902.6 894.1 L901.9 894.4 L901.1 894.7 L900.2 894.9 L899.1 895 L898 895.2 L896.8 895.2 L895.6 895.2 L894.5 895.1 L893.3 895 L892.3 894.8 L891.4 894.5 L890.7 894.2 L890.1 893.9 L889.7 893.6 L889.5 893.2 L889.5 892.8 L889.7 892.4 L890.1 892.1 L890.7 891.8 L891.4 891.5 L892.3 891.2 L893.3 891 L894.5 890.9 L895.6 890.8 L896.8 890.8 L898 890.8 L899.1 891 L900.2 891.1 L901.1 891.3 L901.9 891.6 L902.6 891.9 L903.1 892.3 L903.4 892.6 L903.5 893" stroke-width="1.8"/>
<ellipse cx="657.5" cy="622.5" rx="27.8" ry="19.7" stroke-width="5.4" fill="#fff"/>
<path d="M639 634.7 L674 610.7" stroke-width="6.2"/>
<path d="M640.5 633.9 L673 611.6" stroke="#fff" stroke-width="1.3"/>
<ellipse cx="733" cy="675.1" rx="27.8" ry="19.7" stroke-width="5.4" fill="#fff"/>
<path d="M714.5 687.3 L749.5 663.3" stroke-width="6.2"/>
<path d="M716 686.5 L748.5 664.2" stroke="#fff" stroke-width="1.3"/>
<ellipse cx="808.5" cy="727.7" rx="27.8" ry="19.7" stroke-width="5.4" fill="#fff"/>
<path d="M790 739.9 L825 715.9" stroke-width="6.2"/>
<path d="M791.5 739.1 L824 716.8" stroke="#fff" stroke-width="1.3"/>
<ellipse cx="884" cy="780.3" rx="27.8" ry="19.7" stroke-width="5.4" fill="#fff"/>
<path d="M865.5 792.5 L900.5 768.5" stroke-width="6.2"/>
<path d="M867 791.7 L899.5 769.4" stroke="#fff" stroke-width="1.3"/>
<ellipse cx="959.5" cy="832.9" rx="27.8" ry="19.7" stroke-width="5.4" fill="#fff"/>
<path d="M941 845.1 L976 821.1" stroke-width="6.2"/>
<path d="M942.5 844.3 L975 822" stroke="#fff" stroke-width="1.3"/>
<ellipse cx="519" cy="526" rx="44" ry="30.8" stroke-width="2.5" fill="#fff"/>
<ellipse cx="519" cy="526" rx="41" ry="28.7" stroke-width="2.5"/>
<ellipse cx="519" cy="527" rx="33" ry="23.1" stroke-width="2.5"/>
<ellipse cx="519" cy="529" rx="29" ry="20.3" stroke-width="2.5"/>
<path d="M545.1 538.2 L543.6 540.6 L541.4 542.9 L538.7 545 L535.4 546.7 L531.7 548.2 L527.7 549.2 L523.4 549.9 L519 550.1 L514.6 549.9 L510.3 549.2 L506.3 548.2 L502.6 546.7 L499.3 545 L496.6 542.9 L494.4 540.6 L492.9 538.2" stroke-width="2"/>
<path d="M503 542 L503.2 541.2 L503.9 540.4 L504.9 539.6 L506.4 538.9 L508.2 538.3 L510.2 537.8 L512.6 537.4 L515.1 537.2 L517.7 537 L520.3 537 L522.9 537.2 L525.4 537.4 L527.8 537.8 L529.8 538.3 L531.6 538.9 L533.1 539.6 L534.1 540.4 L534.8 541.2 L535 542" stroke-width="2"/>
<ellipse cx="1024.5" cy="881" rx="44" ry="30.8" stroke-width="2.5" fill="#fff"/>
<ellipse cx="1024.5" cy="881" rx="41" ry="28.7" stroke-width="2.5"/>
<ellipse cx="1024.5" cy="882" rx="33" ry="23.1" stroke-width="2.5"/>
<ellipse cx="1024.5" cy="884" rx="29" ry="20.3" stroke-width="2.5"/>
<path d="M1050.6 893.2 L1049.1 895.6 L1046.9 897.9 L1044.2 900 L1040.9 901.7 L1037.2 903.2 L1033.2 904.2 L1028.9 904.9 L1024.5 905.1 L1020.1 904.9 L1015.8 904.2 L1011.8 903.2 L1008.1 901.7 L1004.8 900 L1002.1 897.9 L999.9 895.6 L998.4 893.2" stroke-width="2"/>
<path d="M1008.5 897 L1008.7 896.2 L1009.4 895.4 L1010.4 894.6 L1011.9 893.9 L1013.7 893.3 L1015.7 892.8 L1018.1 892.4 L1020.6 892.2 L1023.2 892 L1025.8 892 L1028.4 892.2 L1030.9 892.4 L1033.3 892.8 L1035.3 893.3 L1037.1 893.9 L1038.6 894.6 L1039.6 895.4 L1040.3 896.2 L1040.5 897" stroke-width="2"/>
<ellipse cx="581" cy="569" rx="30" ry="22" stroke-width="4.4" fill="#fff"/>
<ellipse cx="581" cy="571.5" rx="25" ry="17.5" stroke-width="4.5"/>
<ellipse cx="581" cy="575" rx="21" ry="13.5" stroke-width="3.2"/>
<ellipse cx="581" cy="579" rx="17" ry="10" stroke-width="3.8"/>
<path d="M594 583 L593.8 584.1 L593.3 585.1 L592.4 586.1 L591.3 587 L589.8 587.8 L588.1 588.4 L586.2 589 L584.2 589.3 L582.1 589.5 L579.9 589.5 L577.8 589.3 L575.8 589 L573.9 588.4 L572.2 587.8 L570.7 587 L569.6 586.1 L568.7 585.1 L568.2 584.1 L568 583" stroke-width="2.5"/>
<path d="M581 566 L581 591" stroke-width="1.9"/>
<ellipse cx="576.5" cy="512.3" rx="12.5" ry="4.8" transform="rotate(5 576.5 512.3)"/>
<path d="M592.1 511.4 L614.9 482.6 L630.9 490.7"/>
<path d="M614.9 482.6 L622.1 485.5"/>
<path d="M787.4 400.4 L817.4 387.2"/>
<path d="M726.3 442.3 L784.3 442.3 L793.4 480.7 L794.6 516.6 L755.1 533.4 L713.1 516.6 L713.1 480.7Z" fill="#fff" stroke="none"/>
<ellipse cx="753.9" cy="517.8" rx="40.7" ry="16.3" fill="#fff"/>
<ellipse cx="754.1" cy="509.4" rx="40.3" ry="16.1" fill="#fff"/>
<ellipse cx="754.4" cy="499.8" rx="39.5" ry="15.8" fill="#fff"/>
<ellipse cx="754.7" cy="490.3" rx="38.4" ry="15.3" fill="#fff"/>
<ellipse cx="755" cy="480.7" rx="36.4" ry="14.6" fill="#fff"/>
<ellipse cx="755.3" cy="471.1" rx="34" ry="13.6" fill="#fff"/>
<ellipse cx="755.5" cy="462.7" rx="31.6" ry="12.7" fill="#fff"/>
<ellipse cx="755.8" cy="455.5" rx="29.7" ry="11.9" fill="#fff"/>
<ellipse cx="755.9" cy="449.5" rx="28.3" ry="11.3" fill="#fff"/>
<ellipse cx="756.8" cy="442.8" rx="28.3" ry="12" stroke-width="3.8" fill="#fff"/>
<path d="M729.9 395.6 L784.3 395.6 L784.3 436.3 L729.9 436.3Z" fill="#fff" stroke="none"/>
<ellipse cx="757" cy="435.6" rx="27.1" ry="14.9" fill="#fff"/>
<path d="M730.2 395.6 L784.1 395.6 L784.1 435.6 L730.2 435.6Z" fill="#fff" stroke="none"/>
<path d="M729.9 395.6 L729.9 436.3"/>
<path d="M784.3 395.6 L784.3 436.3"/>
<ellipse cx="757.5" cy="395.6" rx="27.1" ry="16.3" fill="#fff"/>
<ellipse cx="757.5" cy="394.9" rx="14.9" ry="9.6"/>
<ellipse cx="757.5" cy="395.3" rx="9.6" ry="6.2"/>
<ellipse cx="738.8" cy="426.7" rx="9.1" ry="12" stroke-width="4" transform="rotate(-10 738.8 426.7)"/>
<path d="M741.6 419.4 L742.5 419.4 L743.4 419.6 L744.3 420 L745.1 420.7 L745.9 421.5 L746.6 422.5 L747.3 423.7 L747.8 425 L748.1 426.3 L748.4 427.7 L748.5 429.1 L748.5 430.5 L748.3 431.8 L747.9 433 L747.5 434.1 L746.9 435 L746.2 435.7 L745.4 436.2 L744.6 436.4"/>
<g transform="translate(-301.2 -211.2)"><path d="M780.9 986.1 L801.7 969 L818.1 979.5 L798 995.8 L798 1005.5 L781.7 1009.2Z" fill="#fff" stroke="none"/>
<path d="M781.7 1009.2 L780.9 986.1 L801.7 969 L818.1 979.5 L798 995.8 L780.9 986.1"/>
<path d="M783.9 988.4 L802.5 973.1 L814.4 980.5" stroke-width="1.9"/>
<path d="M798 995.8 L798 1005.5"/>
<path d="M784.7 989.9 L784.9 1008.4" stroke-width="1.9"/></g>
<g transform="translate(-225.9 -158.4)"><path d="M780.9 986.1 L801.7 969 L818.1 979.5 L798 995.8 L798 1005.5 L781.7 1009.2Z" fill="#fff" stroke="none"/>
<path d="M781.7 1009.2 L780.9 986.1 L801.7 969 L818.1 979.5 L798 995.8 L780.9 986.1"/>
<path d="M783.9 988.4 L802.5 973.1 L814.4 980.5" stroke-width="1.9"/>
<path d="M798 995.8 L798 1005.5"/>
<path d="M784.7 989.9 L784.9 1008.4" stroke-width="1.9"/></g>
<g transform="translate(-150.6 -105.6)"><path d="M780.9 986.1 L801.7 969 L818.1 979.5 L798 995.8 L798 1005.5 L781.7 1009.2Z" fill="#fff" stroke="none"/>
<path d="M781.7 1009.2 L780.9 986.1 L801.7 969 L818.1 979.5 L798 995.8 L780.9 986.1"/>
<path d="M783.9 988.4 L802.5 973.1 L814.4 980.5" stroke-width="1.9"/>
<path d="M798 995.8 L798 1005.5"/>
<path d="M784.7 989.9 L784.9 1008.4" stroke-width="1.9"/>
<path d="M812.1 990.6 L853 943.8 L873.1 957.2 L872.3 967.6 L834.4 1009.2 L812.9 997.3Z" fill="#fff" stroke="none"/>
<path d="M812.1 990.6 L853 943.8 L873.1 957.2 L872.3 967.6 L834.4 1009.2 L812.9 997.3Z"/>
<path d="M812.1 990.6 L833.7 1003.2 L873.1 957.2"/>
<path d="M833.7 1003.2 L834.4 1009.2"/>
<text x="835.2" y="983.2" font-size="9" font-weight="bold" text-anchor="middle" transform="rotate(130 835.2 983.2)">3</text></g>
<g transform="translate(-75.3 -52.8)"><path d="M780.9 986.1 L801.7 969 L818.1 979.5 L798 995.8 L798 1005.5 L781.7 1009.2Z" fill="#fff" stroke="none"/>
<path d="M781.7 1009.2 L780.9 986.1 L801.7 969 L818.1 979.5 L798 995.8 L780.9 986.1"/>
<path d="M783.9 988.4 L802.5 973.1 L814.4 980.5" stroke-width="1.9"/>
<path d="M798 995.8 L798 1005.5"/>
<path d="M784.7 989.9 L784.9 1008.4" stroke-width="1.9"/>
<path d="M812.1 990.6 L853 943.8 L873.1 957.2 L872.3 967.6 L834.4 1009.2 L812.9 997.3Z" fill="#fff" stroke="none"/>
<path d="M812.1 990.6 L853 943.8 L873.1 957.2 L872.3 967.6 L834.4 1009.2 L812.9 997.3Z"/>
<path d="M812.1 990.6 L833.7 1003.2 L873.1 957.2"/>
<path d="M833.7 1003.2 L834.4 1009.2"/>
<text x="835.2" y="983.2" font-size="9" font-weight="bold" text-anchor="middle" transform="rotate(130 835.2 983.2)">2</text>
<path d="M821.8 1009.9 L835.2 1011.4 L869.3 975.7"/>
<path d="M869.3 975.7C870.7 978.7 877 991.9 879.7 998C882.5 1004.2 888 1015.9 890.1 1021.8C892.3 1027.7 895.3 1039.8 896.1 1042.6"/>
<path d="M872.3 975.7C873.8 978.7 880.6 991.9 883.5 998C886.3 1004.2 891.7 1016.1 893.9 1021.8C896.1 1027.5 899.1 1038.5 900 1041.1"/>
<ellipse cx="819.2" cy="1036.3" rx="42.3" ry="27.5" fill="#fff" transform="rotate(56.4 819.2 1036.3)"/>
<ellipse cx="819.6" cy="1036.7" rx="37.9" ry="22.3" transform="rotate(55.4 819.6 1036.7)"/>
<ellipse cx="820.7" cy="1037" rx="33.7" ry="18.1" stroke-width="3.8" transform="rotate(55.8 820.7 1037)"/>
<path d="M833.9 1028.5 L836.5 1032.6 L838.7 1036.9 L840.4 1041.2 L841.7 1045.4 L842.3 1049.4 L842.4 1053 L841.8 1056.3 L840.8 1059 L839.1 1061.1 L837 1062.6 L834.5 1063.4 L831.6 1063.4 L828.4 1062.8 L825 1061.5 L821.4 1059.5 L817.9 1056.9 L814.5 1053.8 L811.2 1050.2 L808.3 1046.3" stroke-width="2"/>
<path d="M811.4 1041.1 L823.3 1032.2"/></g>
<g transform="translate(-0 -0)"><path d="M780.9 986.1 L801.7 969 L818.1 979.5 L798 995.8 L798 1005.5 L781.7 1009.2Z" fill="#fff" stroke="none"/>
<path d="M781.7 1009.2 L780.9 986.1 L801.7 969 L818.1 979.5 L798 995.8 L780.9 986.1"/>
<path d="M783.9 988.4 L802.5 973.1 L814.4 980.5" stroke-width="1.9"/>
<path d="M798 995.8 L798 1005.5"/>
<path d="M784.7 989.9 L784.9 1008.4" stroke-width="1.9"/>
<path d="M812.1 990.6 L853 943.8 L873.1 957.2 L872.3 967.6 L834.4 1009.2 L812.9 997.3Z" fill="#fff" stroke="none"/>
<path d="M812.1 990.6 L853 943.8 L873.1 957.2 L872.3 967.6 L834.4 1009.2 L812.9 997.3Z"/>
<path d="M812.1 990.6 L833.7 1003.2 L873.1 957.2"/>
<path d="M833.7 1003.2 L834.4 1009.2"/>
<text x="835.2" y="983.2" font-size="9" font-weight="bold" text-anchor="middle" transform="rotate(130 835.2 983.2)">1</text>
<path d="M821.8 1009.9 L835.2 1011.4 L869.3 975.7"/>
<path d="M869.3 975.7C870.7 978.7 877 991.9 879.7 998C882.5 1004.2 888 1015.9 890.1 1021.8C892.3 1027.7 895.3 1039.8 896.1 1042.6"/>
<path d="M872.3 975.7C873.8 978.7 880.6 991.9 883.5 998C886.3 1004.2 891.7 1016.1 893.9 1021.8C896.1 1027.5 899.1 1038.5 900 1041.1"/>
<ellipse cx="819.2" cy="1036.3" rx="42.3" ry="27.5" fill="#fff" transform="rotate(56.4 819.2 1036.3)"/>
<ellipse cx="819.6" cy="1036.7" rx="37.9" ry="22.3" transform="rotate(55.4 819.6 1036.7)"/>
<ellipse cx="820.7" cy="1037" rx="33.7" ry="18.1" stroke-width="3.8" transform="rotate(55.8 820.7 1037)"/>
<path d="M833.9 1028.5 L836.5 1032.6 L838.7 1036.9 L840.4 1041.2 L841.7 1045.4 L842.3 1049.4 L842.4 1053 L841.8 1056.3 L840.8 1059 L839.1 1061.1 L837 1062.6 L834.5 1063.4 L831.6 1063.4 L828.4 1062.8 L825 1061.5 L821.4 1059.5 L817.9 1056.9 L814.5 1053.8 L811.2 1050.2 L808.3 1046.3" stroke-width="2"/>
<path d="M811.4 1041.1 L823.3 1032.2"/></g>
<path d="M898.6 1031C903.2 1027.6 948.5 993.5 954 989.9C959.4 986.3 962.3 988.2 964 988.2C965.7 988.3 970.6 988.7 974.1 990.7C977.6 992.8 1003 1010.2 1006 1012.6C1009 1014.9 1010 1017.2 1010.2 1019.3C1010.3 1021.4 1007.3 1035.5 1007.7 1037.7C1008 1040 1012.9 1045.2 1014.4 1046.1C1015.8 1047 1024.4 1048.4 1025.3 1048.6"/>
<path d="M902.8 1036C907.3 1032.7 951.1 999.3 956.5 995.8C961.9 992.3 965.6 994 967.4 994.1C969.1 994.2 974.5 995.6 977.4 997.4C980.4 999.3 1000.5 1015.1 1002.6 1016.7"/>
<path d="M1002.6 1016.7C1000.9 1018.2 989.6 1027.2 987.5 1029.3C985.5 1031.5 985.7 1032.9 985 1035.2C984.3 1037.6 982.3 1046.6 981.1 1049.5C980 1052.3 977.1 1057.7 974.9 1059.5C972.7 1061.4 966 1064.8 962.3 1065.4C958.7 1066 947.7 1065.5 943.9 1064.6C940.1 1063.6 934.4 1060.3 929.6 1057C924.8 1053.7 905.9 1038.5 902.8 1036"/>
<path d="M1006 1019.3C1004.2 1020.7 992.9 1029.6 990.9 1031.8C988.8 1034.1 989 1036.3 988.4 1038.6C987.7 1040.8 986.2 1048.3 985 1051.1C983.8 1054 980.8 1060.7 978.3 1062.9C975.7 1065 967.4 1068.9 963.2 1069.6C959 1070.3 946.4 1069.8 942.2 1068.8C938 1067.7 932.2 1063.8 927.1 1060.4C922 1056.9 901.9 1041.8 898.6 1039.4"/>
<ellipse cx="954.8" cy="1041.9" rx="13.8" ry="10.4"/>
<path d="M871.7 1057.9C878 1062.2 926.3 1096.4 933.8 1101.5C941.4 1106.5 944.2 1107.8 947.2 1108.5C950.3 1109.2 960.8 1109.2 964 1108.5C967.2 1107.8 976.9 1103.4 979.1 1101.5C981.3 1099.6 985 1092.2 986.2 1089.7C987.3 1087.2 990.1 1077.7 990.5 1076.3"/>
<path d="M990.5 1076.3 L1025.3 1052"/>
<path d="M898.6 1022.6 L898.6 1044.1"/>
<path d="M860 1062 L898.6 1044.1"/>
<path d="M860 1046.1 L898.6 1027.7"/>
<path d="M860 1051.1 L897.8 1033" stroke-width="1.9"/>
<path d="M866.7 976.5 L893.6 991.6 L904.5 990.7 L959 949.6"/>
<path d="M866.7 976.5 L872.6 974"/>
<path d="M869.2 980.7 L892.7 995.8 L904.5 994.9"/>
<path d="M893.6 991.6 L894.4 1020.9 L905.3 1022.3 L904.5 990.7"/>
<path d="M904.5 994.9 L956.5 954.7 L967.4 953.8 L973.3 958 L974.9 989.1"/>
<path d="M959 949.6 L967.4 948.8 L973.3 953.8"/>
<path d="M872.6 971.4C875.4 971.8 887.9 974 893.6 974C899.3 974 909.1 973.2 915.4 971.4C921.6 969.7 935.4 963.3 940.5 960.5C945.7 957.7 952.2 951.8 954 950.5"/>
<path d="M865 980.7C866.6 982.5 874.1 990.5 876.8 994.1C879.5 997.7 883.4 1004.2 885.2 1007.5C887 1010.9 889.5 1017.7 890.2 1019.3"/>
<path d="M869.2 982.3C870.8 984.1 878.3 992.2 881 995.8C883.7 999.4 887.7 1006.1 889.4 1009.2C891 1012.3 893 1017.9 893.6 1019.3"/>
<path d="M959 948.8 L959 926.1 L964.9 923.3 L1021.1 963.6 L1040.4 949.6"/>
<path d="M960.7 928.7 L1018.6 967.2 L1021.9 1047.8"/>
<path d="M1021.1 963.6 L1025.3 1049.8"/>
<path d="M975.8 933.7C978.7 934.9 991.8 941.3 997.6 942.9C1003.4 944.5 1013.8 945.5 1019.4 945.8C1025 946 1036.8 944.8 1039.5 944.6"/>
<path d="M1039.5 944.6 L1093.2 910.2"/>
<path d="M1041.2 947.1 L1092.4 929.5"/>
<path d="M1092.4 927C1089.8 927.4 1077.9 927.9 1073.1 930.3C1068.3 932.8 1059.9 939.6 1056.3 945.4C1052.7 951.3 1048.1 965.7 1046.2 974C1044.3 982.2 1042.5 999.2 1042 1007.5C1041.6 1015.8 1042.1 1031.2 1042.9 1036C1043.7 1040.9 1047.2 1042.6 1047.9 1043.6"/>
<path d="M1092.4 930.3C1090.3 930.8 1080.7 931.2 1076.4 933.7C1072.2 936.2 1064 943.2 1060.5 948.8C1057 954.4 1052.4 967.8 1050.4 975.6C1048.5 983.5 1046.5 999.7 1045.9 1007.5C1045.3 1015.3 1045.5 1029.7 1046.2 1034.4C1047 1039.1 1050.6 1041.6 1051.3 1042.8"/>
<path d="M1040.4 949.6C1039.6 952.9 1036 966.2 1034.5 974C1033 981.7 1030.4 999.2 1029.5 1007.5C1028.6 1015.8 1027.3 1031 1027.8 1036C1028.2 1041.1 1030.9 1043.7 1032.8 1045.3C1034.7 1046.8 1040.8 1047.4 1042 1047.8"/>
<path d="M1036.2 953.8C1035.5 957.4 1032.5 972.6 1031.1 980.7C1029.8 988.7 1026.9 1006.2 1026.1 1014.2C1025.3 1022.3 1024.6 1036.2 1025.3 1041.1C1025.9 1046 1028.7 1050 1031.1 1051.1C1033.6 1052.3 1042 1049.7 1043.7 1049.5"/>
<path d="M1025.3 1049.8 L1034.5 1052.8 L1044.6 1048.6"/>
<ellipse cx="1075.2" cy="1005.8" rx="45.2" ry="25.2" transform="rotate(-52.9 1075.2 1005.8)"/>
<ellipse cx="1074.8" cy="1005.4" rx="39.3" ry="21" transform="rotate(-53.3 1074.8 1005.4)"/>
<ellipse cx="1071.4" cy="1000" rx="30.5" ry="14.3" stroke-width="3" transform="rotate(-52.8 1071.4 1000)"/>
<path d="M1091.4 973.3 L1094 974.7 L1096 976.9 L1097.4 979.7 L1098.1 983 L1098.2 986.9 L1097.5 991.1 L1096.3 995.6 L1094.3 1000.2 L1091.8 1004.9 L1088.8 1009.4 L1085.4 1013.6 L1081.6 1017.5 L1077.7 1020.9 L1073.6 1023.7 L1069.5 1025.9 L1065.5 1027.4 L1061.7 1028.2 L1058.3 1028.1 L1055.2 1027.3 L1052.7 1025.8 L1050.8 1023.5 L1049.5 1020.7"/>
<path d="M1089.1 985.4 L1088.9 988.3 L1088.2 991.6 L1087.1 995.1 L1085.5 998.8 L1083.5 1002.5 L1081.1 1006.2 L1078.5 1009.7 L1075.7 1013 L1072.8 1016 L1069.7 1018.6 L1066.7 1020.7 L1063.8 1022.3 L1061.1 1023.3 L1058.7 1023.7 L1056.5 1023.5"/>
<path d="M1062.2 994.9 L1083.2 1008.4"/>
<path d="M1094.9 1017.6 L1114.2 1031"/>
<ellipse cx="1131" cy="1042.8" rx="26.8" ry="18.5" fill="#fff" transform="rotate(-57.8 1131 1042.8)"/>
<path d="M1116.7 1065.4 L1145.2 1020.1 L1170.4 1031.8 L1135.2 1079.7Z" fill="#fff" stroke="none"/>
<path d="M1115.4 1051.1 L1115.4 1065.4 L1130.1 1076.3"/>
<path d="M1145.2 1019.8 L1160.3 1027.7"/>
<ellipse cx="1151.1" cy="1057" rx="35.1" ry="19.8" fill="#fff" transform="rotate(-56.7 1151.1 1057)"/>
<ellipse cx="1155.7" cy="1060.4" rx="35.4" ry="20.5" fill="#fff" transform="rotate(-56.1 1155.7 1060.4)"/>
<ellipse cx="1160.8" cy="1063.5" rx="35.5" ry="21.5" fill="#fff" transform="rotate(-52.9 1160.8 1063.5)"/>
<ellipse cx="1161.6" cy="1064.6" rx="31" ry="19.8" transform="rotate(-54.4 1161.6 1064.6)"/>
<ellipse cx="1162" cy="1063.7" rx="14" ry="7" stroke-width="3.8" transform="rotate(-57.3 1162 1063.7)"/>
<path d="M1155.6 1062 L1168.7 1066.6"/>
<path d="M1076.4 885 L1108.3 907.7 L1185.5 858.2"/>
<path d="M1076.4 885 L1076.4 916.1 L1092.4 928.7 L1108.3 917.8 L1108.3 907.7"/>
<path d="M1108.3 907.7 L1113.4 913.6 L1113.4 932.9 L1188.9 884.2"/>
<path d="M1115 925.3 L1187.2 878.3" stroke-width="1.9"/>
<path d="M1185.5 858.2 L1188.9 950.5 L1094.9 1016.2"/>
<path d="M1044.6 1048.6 L1094.9 1016.2"/>
<ellipse cx="1086.5" cy="902.7" rx="8.1" ry="6.4" stroke-width="3.8"/>
<ellipse cx="1086.8" cy="901.8" rx="4.2" ry="3"/>
<path d="M1076.4 885 L1093.2 896.8 L1108.3 907.7" stroke-width="4.4"/>
<path d="M790 400 L821.2 383.8"/>
<ellipse cx="850" cy="373" rx="11.5" ry="8" fill="#fff" transform="rotate(-111.8 850 373)"/>
<path d="M845.7 362.3 L822 371.8 L830.5 393.2 L854.3 383.7Z" fill="#fff" stroke="none"/>
<path d="M845.7 362.3 L822 371.8"/>
<path d="M854.3 383.7 L830.5 393.2"/>
<ellipse cx="826.2" cy="382.5" rx="11.5" ry="8" fill="#fff" transform="rotate(-111.8 826.2 382.5)"/>
<path d="M868.8 350 L1045 265 L1053.8 282.5 L877.5 367.5Z" fill="#fff" stroke="none"/>
<path d="M868.8 350 L1045 265"/>
<path d="M877.5 367.5 L1053.8 282.5"/>
<path d="M836.2 360 L853.8 345 L870 350 L877.5 371.2 L872.5 380 L858.8 389.5 L843.8 382.5Z" fill="#fff" stroke="none"/>
<path d="M836.2 360 L853.8 345 L870 350 L877.5 371.2 L872.5 380 L858.8 389.5 L843.8 382.5 L836.2 360"/>
<path d="M843.8 382.5 L853.8 365 L846.2 355"/>
<path d="M853.8 365 L865 361.2 L877.5 371.2"/>
<path d="M865 361.2 L870 350" stroke-width="1.9"/>
<ellipse cx="845.5" cy="371.2" rx="6.2" ry="10" transform="rotate(-20 845.5 371.2)"/>
<path d="M1042.5 260 L1112.5 208.8 L1125 205 L1145 217.5 L1152.5 240 L1147.5 257.5 L1137.5 263 L1060 285Z" fill="#fff" stroke="none"/>
<path d="M1042.5 260 L1112.5 208.8"/>
<path d="M1060 285 L1137.5 263"/>
<path d="M1112.5 208.8C1114.6 208.1 1120.8 204.8 1125 205C1129.2 205.2 1133.8 207.1 1137.5 210C1141.2 212.9 1145 217.5 1147.5 222.5C1150 227.5 1152.4 234.4 1152.5 240C1152.6 245.6 1150.5 252.4 1148 256.2C1145.5 260.1 1139.2 261.9 1137.5 263"/>
<path d="M1125 206C1127.1 207.9 1134.4 211.8 1137.5 217.5C1140.6 223.2 1143.5 232.7 1143.8 240C1144 247.3 1139.6 257.7 1138.8 261.2"/>
<path d="M1112.5 208.8C1115 211.5 1123.5 218.5 1127.5 225C1131.5 231.5 1135.1 241 1136.2 247.5C1137.4 254 1134.8 261 1134.5 263.8" stroke-width="1.9"/>
<ellipse cx="1052.5" cy="272.5" rx="7" ry="13.8" stroke-width="3.1" fill="#fff" transform="rotate(-22 1052.5 272.5)"/>
<path d="M1049.7 260.1 L1050.6 259.5 L1051.6 259.2 L1052.8 259.3 L1054 259.7 L1055.3 260.5 L1056.6 261.5 L1057.9 262.8 L1059 264.4 L1060.1 266.2 L1061.1 268.1 L1061.9 270.1 L1062.5 272.1 L1063 274.1 L1063.2 276.1 L1063.2 277.9 L1063 279.6 L1062.6 281 L1062 282.2 L1061.3 283 L1060.3 283.6 L1059.2 283.8" stroke-width="1.9"/>
<ellipse cx="1144.5" cy="293" rx="4.5" ry="0.8" fill="#fff" transform="rotate(-145.2 1144.5 293)"/>
<path d="M1140.8 290.4 L1134 291.4 L1149.6 302.3 L1148.2 295.6Z" fill="#fff" stroke="none"/>
<path d="M1140.8 290.4 L1134 291.4"/>
<path d="M1148.2 295.6 L1149.6 302.3"/>
<ellipse cx="1141.8" cy="296.8" rx="9.5" ry="1.7" fill="#fff" transform="rotate(-145.2 1141.8 296.8)"/>
<ellipse cx="1142.1" cy="296.5" rx="10" ry="1.8" fill="#fff" transform="rotate(-145.2 1142.1 296.5)"/>
<path d="M1133.9 290.8 L1122.5 306.2 L1139.8 318.2 L1150.3 302.2Z" fill="#fff" stroke="none"/>
<path d="M1133.9 290.8 L1122.5 306.2"/>
<path d="M1150.3 302.2 L1139.8 318.2"/>
<ellipse cx="1131.1" cy="312.2" rx="10.5" ry="1.9" fill="#fff" transform="rotate(-145.2 1131.1 312.2)"/>
<ellipse cx="1131.1" cy="312.2" rx="18" ry="3.2" fill="#fff" transform="rotate(-145.2 1131.1 312.2)"/>
<path d="M1116.3 302 L1104.8 318.6 L1134.4 339.1 L1145.9 322.5Z" fill="#fff" stroke="none"/>
<path d="M1116.3 302 L1104.8 318.6"/>
<path d="M1145.9 322.5 L1134.4 339.1"/>
<ellipse cx="1119.6" cy="328.8" rx="18" ry="3.2" fill="#fff" transform="rotate(-145.2 1119.6 328.8)"/>
<ellipse cx="1119.6" cy="328.8" rx="22.5" ry="4" fill="#fff" transform="rotate(-145.2 1119.6 328.8)"/>
<path d="M1101.1 316 L1099 319 L1136 344.7 L1138.1 341.7Z" fill="#fff" stroke="none"/>
<path d="M1101.1 316 L1099 319"/>
<path d="M1138.1 341.7 L1136 344.7"/>
<ellipse cx="1117.5" cy="331.8" rx="22.5" ry="4" stroke-width="5" fill="#fff" transform="rotate(-145.2 1117.5 331.8)"/>
<ellipse cx="1117.5" cy="331.8" rx="26.2" ry="4.7" fill="#fff" transform="rotate(-145.2 1117.5 331.8)"/>
<path d="M1096 316.8 L1084 334 L1127.2 363.9 L1139.1 346.8Z" fill="#fff" stroke="none"/>
<path d="M1096 316.8 L1084 334"/>
<path d="M1139.1 346.8 L1127.2 363.9"/>
<ellipse cx="1105.6" cy="349" rx="26.2" ry="4.7" fill="#fff" transform="rotate(-145.2 1105.6 349)"/>
<ellipse cx="1105.6" cy="349" rx="37.5" ry="6.8" fill="#fff" transform="rotate(-145.2 1105.6 349)"/>
<path d="M1074.8 327.6 L1055.4 355.5 L1116.9 398.3 L1136.4 370.4Z" fill="#fff" stroke="none"/>
<path d="M1074.8 327.6 L1055.4 355.5"/>
<path d="M1136.4 370.4 L1116.9 398.3"/>
<ellipse cx="1086.2" cy="376.9" rx="37.5" ry="6.8" fill="#fff" transform="rotate(-145.2 1086.2 376.9)"/>
<ellipse cx="1086.2" cy="376.9" rx="32" ry="5.8" fill="#fff" transform="rotate(-145.2 1086.2 376.9)"/>
<path d="M1059.9 358.7 L1056.8 363 L1109.4 399.6 L1112.4 395.2Z" fill="#fff" stroke="none"/>
<path d="M1059.9 358.7 L1056.8 363"/>
<path d="M1112.4 395.2 L1109.4 399.6"/>
<ellipse cx="1083.1" cy="381.3" rx="32" ry="5.8" fill="#fff" transform="rotate(-145.2 1083.1 381.3)"/>
<ellipse cx="1083.1" cy="381.3" rx="37.5" ry="6.8" fill="#fff" transform="rotate(-145.2 1083.1 381.3)"/>
<path d="M1052.3 359.9 L1032.3 388.8 L1093.9 431.6 L1113.9 402.7Z" fill="#fff" stroke="none"/>
<path d="M1052.3 359.9 L1032.3 388.8"/>
<path d="M1113.9 402.7 L1093.9 431.6"/>
<ellipse cx="1063.1" cy="410.2" rx="37.5" ry="6.8" fill="#fff" transform="rotate(-145.2 1063.1 410.2)"/>
<ellipse cx="1063.1" cy="410.2" rx="37.5" ry="6.8" fill="#fff" transform="rotate(-145.2 1063.1 410.2)"/>
<path d="M1032.3 388.8 L1017.7 409.7 L1079.3 452.5 L1093.9 431.6Z" fill="#fff" stroke="none"/>
<path d="M1032.3 388.8 L1017.7 409.7"/>
<path d="M1093.9 431.6 L1079.3 452.5"/>
<ellipse cx="1048.5" cy="431.1" rx="37.5" ry="6.8" stroke-width="4.4" fill="#fff" transform="rotate(-145.2 1048.5 431.1)"/>
<ellipse cx="1048.5" cy="431.1" rx="23.8" ry="4.3" fill="#fff" transform="rotate(-145.2 1048.5 431.1)"/>
<path d="M1029 417.6 L1018 433.3 L1057 460.4 L1068 444.7Z" fill="#fff" stroke="none"/>
<path d="M1029 417.6 L1018 433.3"/>
<path d="M1068 444.7 L1057 460.4"/>
<ellipse cx="1037.5" cy="446.9" rx="23.8" ry="4.3" stroke-width="5" fill="#fff" transform="rotate(-145.2 1037.5 446.9)"/>
<ellipse cx="1037.5" cy="446.9" rx="17.5" ry="3.1" fill="#fff" transform="rotate(-145.2 1037.5 446.9)"/>
<path d="M1023.2 436.9 L1015.9 447.4 L1044.6 467.4 L1051.9 456.9Z" fill="#fff" stroke="none"/>
<path d="M1023.2 436.9 L1015.9 447.4"/>
<path d="M1051.9 456.9 L1044.6 467.4"/>
<ellipse cx="1030.2" cy="457.4" rx="17.5" ry="3.1" fill="#fff" transform="rotate(-145.2 1030.2 457.4)"/>
<ellipse cx="1030.2" cy="457.4" rx="22" ry="4" fill="#fff" transform="rotate(-145.2 1030.2 457.4)"/>
<path d="M1012.2 444.8 L1009.1 449.2 L1045.3 474.3 L1048.3 469.9Z" fill="#fff" stroke="none"/>
<path d="M1012.2 444.8 L1009.1 449.2"/>
<path d="M1048.3 469.9 L1045.3 474.3"/>
<ellipse cx="1027.2" cy="461.7" rx="22" ry="4" stroke-width="3.8" fill="#fff" transform="rotate(-145.2 1027.2 461.7)"/>
<ellipse cx="1027.2" cy="461.7" rx="17.5" ry="3.1" fill="#fff" transform="rotate(-145.2 1027.2 461.7)"/>
<path d="M1012.8 451.8 L1007.4 459.6 L1036.1 479.6 L1041.6 471.7Z" fill="#fff" stroke="none"/>
<path d="M1012.8 451.8 L1007.4 459.6"/>
<path d="M1041.6 471.7 L1036.1 479.6"/>
<ellipse cx="1021.7" cy="469.6" rx="17.5" ry="3.1" fill="#fff" transform="rotate(-145.2 1021.7 469.6)"/>
<ellipse cx="1021.7" cy="469.6" rx="12.5" ry="2.2" fill="#fff" transform="rotate(-145.2 1021.7 469.6)"/>
<path d="M1011.5 462.5 L1002.4 475.6 L1022.9 489.9 L1032 476.7Z" fill="#fff" stroke="none"/>
<path d="M1011.5 462.5 L1002.4 475.6"/>
<path d="M1032 476.7 L1022.9 489.9"/>
<ellipse cx="1012.6" cy="482.7" rx="12.5" ry="2.2" fill="#fff" transform="rotate(-145.2 1012.6 482.7)"/>
<path d="M1092.7 341.3 L1074.1 368" stroke-width="2"/>
<path d="M1114.2 356.2 L1095.6 383" stroke-width="2"/>
<path d="M1070.5 373.3 L1051 401.3" stroke-width="2"/>
<path d="M1092 388.2 L1072.5 416.2" stroke-width="2"/>
<path d="M1125.8 309 L1114.7 324.9" stroke-width="2"/>
<path d="M1138.1 317.6 L1127 333.5" stroke-width="2"/>
<path d="M1017 467.6 L1009.1 479" stroke-width="2"/>
<ellipse cx="1018.5" cy="476.4" rx="2.2" ry="2.2" stroke-width="2"/>
<ellipse cx="1029" cy="452.6" rx="1.8" ry="1.8" stroke-width="1.8"/>
<ellipse cx="1210" cy="360.5" rx="4.5" ry="0.8" fill="#fff" transform="rotate(-145.2 1210 360.5)"/>
<path d="M1206.3 357.9 L1199.5 358.9 L1215.1 369.8 L1213.7 363.1Z" fill="#fff" stroke="none"/>
<path d="M1206.3 357.9 L1199.5 358.9"/>
<path d="M1213.7 363.1 L1215.1 369.8"/>
<ellipse cx="1207.3" cy="364.3" rx="9.5" ry="1.7" fill="#fff" transform="rotate(-145.2 1207.3 364.3)"/>
<ellipse cx="1207.6" cy="364" rx="10" ry="1.8" fill="#fff" transform="rotate(-145.2 1207.6 364)"/>
<path d="M1199.4 358.3 L1188 373.7 L1205.3 385.7 L1215.8 369.7Z" fill="#fff" stroke="none"/>
<path d="M1199.4 358.3 L1188 373.7"/>
<path d="M1215.8 369.7 L1205.3 385.7"/>
<ellipse cx="1196.6" cy="379.7" rx="10.5" ry="1.9" fill="#fff" transform="rotate(-145.2 1196.6 379.7)"/>
<ellipse cx="1196.6" cy="379.7" rx="18" ry="3.2" fill="#fff" transform="rotate(-145.2 1196.6 379.7)"/>
<path d="M1181.8 369.5 L1170.3 386.1 L1199.9 406.6 L1211.4 390Z" fill="#fff" stroke="none"/>
<path d="M1181.8 369.5 L1170.3 386.1"/>
<path d="M1211.4 390 L1199.9 406.6"/>
<ellipse cx="1185.1" cy="396.3" rx="18" ry="3.2" fill="#fff" transform="rotate(-145.2 1185.1 396.3)"/>
<ellipse cx="1185.1" cy="396.3" rx="22.5" ry="4" fill="#fff" transform="rotate(-145.2 1185.1 396.3)"/>
<path d="M1166.6 383.5 L1164.5 386.5 L1201.5 412.2 L1203.6 409.2Z" fill="#fff" stroke="none"/>
<path d="M1166.6 383.5 L1164.5 386.5"/>
<path d="M1203.6 409.2 L1201.5 412.2"/>
<ellipse cx="1183" cy="399.3" rx="22.5" ry="4" stroke-width="5" fill="#fff" transform="rotate(-145.2 1183 399.3)"/>
<ellipse cx="1183" cy="399.3" rx="26.2" ry="4.7" fill="#fff" transform="rotate(-145.2 1183 399.3)"/>
<path d="M1161.5 384.3 L1149.5 401.5 L1192.7 431.4 L1204.6 414.3Z" fill="#fff" stroke="none"/>
<path d="M1161.5 384.3 L1149.5 401.5"/>
<path d="M1204.6 414.3 L1192.7 431.4"/>
<ellipse cx="1171.1" cy="416.5" rx="26.2" ry="4.7" fill="#fff" transform="rotate(-145.2 1171.1 416.5)"/>
<ellipse cx="1171.1" cy="416.5" rx="37.5" ry="6.8" fill="#fff" transform="rotate(-145.2 1171.1 416.5)"/>
<path d="M1140.3 395.1 L1120.9 423 L1182.4 465.8 L1201.9 437.9Z" fill="#fff" stroke="none"/>
<path d="M1140.3 395.1 L1120.9 423"/>
<path d="M1201.9 437.9 L1182.4 465.8"/>
<ellipse cx="1151.7" cy="444.4" rx="37.5" ry="6.8" fill="#fff" transform="rotate(-145.2 1151.7 444.4)"/>
<ellipse cx="1151.7" cy="444.4" rx="32" ry="5.8" fill="#fff" transform="rotate(-145.2 1151.7 444.4)"/>
<path d="M1125.4 426.2 L1122.3 430.5 L1174.9 467.1 L1177.9 462.7Z" fill="#fff" stroke="none"/>
<path d="M1125.4 426.2 L1122.3 430.5"/>
<path d="M1177.9 462.7 L1174.9 467.1"/>
<ellipse cx="1148.6" cy="448.8" rx="32" ry="5.8" fill="#fff" transform="rotate(-145.2 1148.6 448.8)"/>
<ellipse cx="1148.6" cy="448.8" rx="37.5" ry="6.8" fill="#fff" transform="rotate(-145.2 1148.6 448.8)"/>
<path d="M1117.8 427.4 L1097.8 456.3 L1159.4 499.1 L1179.4 470.2Z" fill="#fff" stroke="none"/>
<path d="M1117.8 427.4 L1097.8 456.3"/>
<path d="M1179.4 470.2 L1159.4 499.1"/>
<ellipse cx="1128.6" cy="477.7" rx="37.5" ry="6.8" fill="#fff" transform="rotate(-145.2 1128.6 477.7)"/>
<ellipse cx="1128.6" cy="477.7" rx="37.5" ry="6.8" fill="#fff" transform="rotate(-145.2 1128.6 477.7)"/>
<path d="M1097.8 456.3 L1083.2 477.2 L1144.8 520 L1159.4 499.1Z" fill="#fff" stroke="none"/>
<path d="M1097.8 456.3 L1083.2 477.2"/>
<path d="M1159.4 499.1 L1144.8 520"/>
<ellipse cx="1114" cy="498.6" rx="37.5" ry="6.8" stroke-width="4.4" fill="#fff" transform="rotate(-145.2 1114 498.6)"/>
<ellipse cx="1114" cy="498.6" rx="23.8" ry="4.3" fill="#fff" transform="rotate(-145.2 1114 498.6)"/>
<path d="M1094.5 485.1 L1083.5 500.8 L1122.5 527.9 L1133.5 512.2Z" fill="#fff" stroke="none"/>
<path d="M1094.5 485.1 L1083.5 500.8"/>
<path d="M1133.5 512.2 L1122.5 527.9"/>
<ellipse cx="1103" cy="514.4" rx="23.8" ry="4.3" stroke-width="5" fill="#fff" transform="rotate(-145.2 1103 514.4)"/>
<ellipse cx="1103" cy="514.4" rx="17.5" ry="3.1" fill="#fff" transform="rotate(-145.2 1103 514.4)"/>
<path d="M1088.7 504.4 L1081.4 514.9 L1110.1 534.9 L1117.4 524.4Z" fill="#fff" stroke="none"/>
<path d="M1088.7 504.4 L1081.4 514.9"/>
<path d="M1117.4 524.4 L1110.1 534.9"/>
<ellipse cx="1095.7" cy="524.9" rx="17.5" ry="3.1" fill="#fff" transform="rotate(-145.2 1095.7 524.9)"/>
<ellipse cx="1095.7" cy="524.9" rx="22" ry="4" fill="#fff" transform="rotate(-145.2 1095.7 524.9)"/>
<path d="M1077.7 512.3 L1074.6 516.7 L1110.8 541.8 L1113.8 537.4Z" fill="#fff" stroke="none"/>
<path d="M1077.7 512.3 L1074.6 516.7"/>
<path d="M1113.8 537.4 L1110.8 541.8"/>
<ellipse cx="1092.7" cy="529.2" rx="22" ry="4" stroke-width="3.8" fill="#fff" transform="rotate(-145.2 1092.7 529.2)"/>
<ellipse cx="1092.7" cy="529.2" rx="17.5" ry="3.1" fill="#fff" transform="rotate(-145.2 1092.7 529.2)"/>
<path d="M1078.3 519.3 L1072.9 527.1 L1101.6 547.1 L1107.1 539.2Z" fill="#fff" stroke="none"/>
<path d="M1078.3 519.3 L1072.9 527.1"/>
<path d="M1107.1 539.2 L1101.6 547.1"/>
<ellipse cx="1087.2" cy="537.1" rx="17.5" ry="3.1" fill="#fff" transform="rotate(-145.2 1087.2 537.1)"/>
<ellipse cx="1087.2" cy="537.1" rx="12.5" ry="2.2" fill="#fff" transform="rotate(-145.2 1087.2 537.1)"/>
<path d="M1077 530 L1067.9 543.1 L1088.4 557.4 L1097.5 544.2Z" fill="#fff" stroke="none"/>
<path d="M1077 530 L1067.9 543.1"/>
<path d="M1097.5 544.2 L1088.4 557.4"/>
<ellipse cx="1078.1" cy="550.2" rx="12.5" ry="2.2" fill="#fff" transform="rotate(-145.2 1078.1 550.2)"/>
<path d="M1158.2 408.8 L1139.6 435.5" stroke-width="2"/>
<path d="M1179.7 423.7 L1161.1 450.5" stroke-width="2"/>
<path d="M1136 440.8 L1116.5 468.8" stroke-width="2"/>
<path d="M1157.5 455.7 L1138 483.7" stroke-width="2"/>
<path d="M1191.3 376.5 L1180.2 392.4" stroke-width="2"/>
<path d="M1203.6 385.1 L1192.5 401" stroke-width="2"/>
<path d="M1082.5 535.1 L1074.6 546.5" stroke-width="2"/>
<ellipse cx="1084" cy="543.9" rx="2.2" ry="2.2" stroke-width="2"/>
<ellipse cx="1094.5" cy="520.1" rx="1.8" ry="1.8" stroke-width="1.8"/>
<path d="M1010 483.8 L997.5 498.8"/>
<path d="M990 510 L975 528.8"/>
<path d="M967.5 538.8 L952.5 558.8"/>
<path d="M945 568.8 L930 588.8"/>
<path d="M922.5 600 L907.5 621"/>
<path d="M1070 555 L1055 576.2"/>
<path d="M1047.5 586.2 L1031.2 607.5"/>
<path d="M1023.8 617.5 L1010 637.5"/>
<path d="M1002.5 647.5 L990 665"/>
<path d="M550.8 403.8 L597.8 403.8 L595.2 430.6 L555 430.6Z" fill="#fff" stroke="none"/>
<ellipse cx="575.1" cy="427.2" rx="21" ry="8.8" stroke-width="2.5" fill="#fff"/>
<ellipse cx="575.1" cy="423.9" rx="21.5" ry="9" stroke-width="4.4" fill="#fff"/>
<ellipse cx="575.1" cy="418.9" rx="22.1" ry="9.3" stroke-width="2.5" fill="#fff"/>
<ellipse cx="575.1" cy="413.8" rx="22.7" ry="9.5" stroke-width="2.5" fill="#fff"/>
<ellipse cx="575.1" cy="409.6" rx="23.2" ry="9.7" stroke-width="5" fill="#fff"/>
<ellipse cx="575.1" cy="404.6" rx="23.5" ry="9.9" stroke-width="2.5" fill="#fff"/>
<path d="M551.1 404.6 L554.6 427.2"/>
<path d="M598.3 404.6 L595.7 427.2"/>
<ellipse cx="574.6" cy="395.4" rx="28.5" ry="16.8" fill="#fff"/>
<ellipse cx="574.6" cy="392.9" rx="28.5" ry="16.8" fill="#fff"/>
<path d="M545.9 387.8 L603 387.8 L603 393.4 L545.9 393.4Z" fill="#fff" stroke="none"/>
<path d="M545.9 387.8 L545.9 393.7"/>
<path d="M603 387.8 L603 393.7"/>
<ellipse cx="574.3" cy="387.8" rx="28.5" ry="17.6" fill="#fff"/>
<path d="M554.1 397.9 L588.5 374.4" stroke-width="3"/>
<path d="M558 400.1 L593.6 376.1" stroke-width="3"/>
<path d="M576.4 442.3 L577.3 467.5"/>
<path d="M577.6 480.1 L579 506.1"/>
<path d="M579.6 520.4 L580.1 543"/>
<path d="M390.5 526.2 L412.3 541.3"/>
<path d="M420.7 548.1 L440 560.6"/>
<ellipse cx="354" cy="500.2" rx="32.1" ry="17.6" fill="#fff" transform="rotate(-54 354 500.2)"/>
<path d="M335.2 526.2 L372.9 474.2 L387.2 486 L346.1 537.1Z" fill="#fff" stroke="none"/>
<path d="M335.2 526.2 L346.1 536.6"/>
<path d="M372.9 474.2 L385.5 482.6"/>
<ellipse cx="358.7" cy="505.3" rx="31.9" ry="17.6" fill="#fff" transform="rotate(-54.6 358.7 505.3)"/>
<ellipse cx="362" cy="508.2" rx="32.2" ry="17.6" fill="#fff" transform="rotate(-55.1 362 508.2)"/>
<ellipse cx="366.6" cy="511.1" rx="32.8" ry="18.1" stroke-width="3.1" fill="#fff" transform="rotate(-54.9 366.6 511.1)"/>
<path d="M350.3 535.5 L384.7 487.7 L404 499.4 L368.7 546.4Z" fill="#fff" stroke="none"/>
<path d="M348.6 536.3 L367.9 546.7"/>
<path d="M385.2 486 L402.3 496.9"/>
<ellipse cx="370.4" cy="514.9" rx="30.9" ry="17.6" transform="rotate(-53.3 370.4 514.9)"/>
<ellipse cx="383" cy="521" rx="30.3" ry="17.6" fill="#fff" transform="rotate(-52.5 383 521)"/>
<ellipse cx="386.8" cy="522.6" rx="30.1" ry="16.8" fill="#fff" transform="rotate(-53.2 386.8 522.6)"/>
<ellipse cx="387.6" cy="523.3" rx="27.1" ry="14.8" transform="rotate(-55.1 387.6 523.3)"/>
<g transform="translate(0 0)"><path d="M497.2 673.1C499.9 673.4 508.4 672.4 513.4 675C518.4 677.6 524 682.9 527.1 688.7C530.2 694.5 531.8 704.9 532.1 709.9C532.4 714.9 529.5 717.1 529 718.6" stroke-width="6.2"/>
<path d="M513.4 670.6C516.3 671.7 526.3 673.4 530.8 677.5C535.4 681.5 538.8 689.1 540.8 694.9C542.8 700.7 542.4 709.5 542.7 712.4" stroke-width="3.8"/>
<path d="M523.4 670C525.4 671 532.3 672.5 535.8 676.2C539.4 680 542.9 687.2 544.6 692.4C546.2 697.6 545.6 704.9 545.8 707.4" stroke-width="2.5"/>
<path d="M451 697.4 L462.3 689.9 L476 676.2 L507.2 688.7 L520.9 682.4 L530.8 714.9 L511.5 728 L489.7 750 L473.5 742.3 L449.8 733.6 L443.6 716.1Z" fill="#fff" stroke="none"/>
<path d="M476 676.2 L507.2 688.7 L511.5 728 L489.7 750"/>
<path d="M507.2 688.7 L520.9 682.4"/>
<path d="M511.5 728 L530.8 714.9"/>
<path d="M520.9 682.4 L530.8 714.9"/>
<path d="M462.3 689.9 L476 676.2"/>
<path d="M487.2 676.2 L510.9 686.8" stroke-width="1.9"/>
<path d="M473.5 686.2C476.2 686.3 484.5 684.9 489.7 686.8C494.9 688.7 501.1 692.9 504.7 697.4C508.2 701.9 509.8 708.2 510.9 713.6C512 719 512.6 724.6 511.5 729.8C510.5 735 508.3 741.4 504.7 744.8C501 748.2 494.9 750.8 489.7 750.4C484.5 750 476.2 743.6 473.5 742.3"/>
<path d="M457.3 691.2C460 690.4 468.3 686.8 473.5 686.8C478.7 686.8 484.1 687.7 488.5 691.2C492.8 694.6 497.3 701.8 499.7 707.4C502 713 503.3 719.4 502.4 724.8C501.6 730.2 498.1 736.8 494.7 739.8C491.3 742.8 486.4 742.5 482.2 742.5C478.1 742.5 471.8 740.3 469.8 739.8"/>
<path d="M462.3 689.9C460.4 691.2 454 694.9 451 697.4C448.1 699.9 446.1 701.8 444.8 704.9C443.6 708 442.7 711.3 443.6 716.1C444.4 720.9 444.8 729.2 449.8 733.6C454.8 737.9 469.5 740.8 473.5 742.3"/>
<ellipse cx="471.6" cy="717.6" rx="10.2" ry="18.7" stroke-width="8.1" fill="#fff" transform="rotate(12 471.6 717.6)"/>
<path d="M459.8 703.6 L469.8 702.1 L475 714.9 L469.8 730.1 L462.3 732.9 L457.3 718.6Z" fill="#fff" stroke="none"/>
<path d="M459.8 703.6 L469.8 702.1 L475 714.9 L469.8 730.1 L462.3 732.9"/>
<path d="M475 714.9 L465.4 716.4"/>
<path d="M459.8 703.6 L465.4 716.4 L462.3 732.9"/>
<ellipse cx="451.7" cy="720.7" rx="7.7" ry="14.3" fill="#fff" transform="rotate(8 451.7 720.7)"/>
<path d="M439.8 708 L450.4 706.4 L451.7 734.8 L441.3 732.7Z" fill="#fff" stroke="none"/>
<path d="M439.8 708 L450.4 706.4"/>
<path d="M441.3 732.7 L451.7 734.8"/>
<path d="M449.1 707.8 L450.1 708.5 L451 709.5 L451.7 710.8 L452.3 712.4 L452.8 714.3 L453 716.3 L453.1 718.4 L453 720.6 L452.7 722.8 L452.2 724.9 L451.5 726.9 L450.7 728.8 L449.8 730.4 L448.8 731.8 L447.7 732.9 L446.5 733.6 L445.4 734"/>
<ellipse cx="439.8" cy="720.5" rx="7.5" ry="12.5" fill="#fff" transform="rotate(8 439.8 720.5)"/>
<ellipse cx="436.7" cy="721.1" rx="3.4" ry="4.7" transform="rotate(5 436.7 721.1)"/></g>
<g transform="translate(0 0)"><path d="M411.1 736.1 L422.4 732.3 L439.8 741 L457.3 759.8 L468.5 779.7 L473.5 794.7 L469.8 803.4 L457.3 808.4 L449.8 805.9 L430.5 817.4 L394.3 764.1 L408.7 757.3 L409.3 747.3Z" fill="#fff" stroke="none"/>
<path d="M408.7 757.3C408.8 755.6 408.9 750.8 409.3 747.3C409.7 743.7 409 738.6 411.1 736.1C413.3 733.6 417.6 731.5 422.4 732.3C427.1 733.2 434 736.5 439.8 741C445.6 745.6 452.5 753.3 457.3 759.8C462.1 766.2 465.8 773.9 468.5 779.7C471.2 785.5 473.3 790.7 473.5 794.7C473.7 798.6 472.5 801.1 469.8 803.4C467 805.7 460.6 808 457.3 808.4C454 808.8 451 806.3 449.8 805.9"/>
<path d="M421.1 741C423.4 741.7 429.9 741 434.8 744.8C439.8 748.5 446.5 756.8 451 763.5C455.6 770.1 460.3 779.3 462.3 784.7C464.2 790.1 463.7 793.2 462.9 795.9C462.1 798.6 458.2 800.1 457.3 800.9"/>
<path d="M412.4 746C414.3 745.8 419.9 744.2 423.6 744.8C427.4 745.4 430.9 746.2 434.8 749.8C438.8 753.3 443.8 760.2 447.3 766C450.8 771.8 454.8 779.5 456 784.7C457.3 789.9 456.5 793.6 454.8 797.2C453.1 800.7 447.5 804.4 446.1 805.9"/>
<path d="M394.3 764.1 L412.4 746"/>
<path d="M430.5 817.4 L446.7 805.9"/>
<path d="M449.8 805.9 L452.3 809.6 L459.8 809" stroke-width="3.8"/>
<ellipse cx="412.4" cy="790.7" rx="32.2" ry="17.8" fill="#fff" transform="rotate(55.8 412.4 790.7)"/>
<ellipse cx="411.8" cy="792.8" rx="27.7" ry="14.7" stroke-width="4.5" transform="rotate(56.4 411.8 792.8)"/>
<path d="M395.9 776.4 L397 774.4 L398.5 772.9 L400.4 772 L402.7 771.8 L405.2 772.1 L407.9 773 L410.7 774.5 L413.6 776.6 L416.5 779.1 L419.2 782 L421.7 785.3 L424 788.8 L426 792.4 L427.6 796.1 L428.7 799.7 L429.4 803.2 L429.6 806.4 L429.4 809.2 L428.6 811.6 L427.4 813.5 L425.8 814.8 L423.8 815.5 L421.5 815.7 L418.9 815.2 L416.2 814.1" stroke-width="1.8"/>
<path d="M443.1 787.1 L444.3 791.5 L444.9 795.7 L444.8 799.6 L444.1 803.2 L442.8 806.2 L441 808.6 L438.6 810.5 L435.7 811.6 L432.4 812 L428.9 811.7 L425.1 810.7 L421.2 809 L417.2 806.6" stroke-width="2"/></g>
<g transform="translate(69.8 57.4)"><path d="M497.2 673.1C499.9 673.4 508.4 672.4 513.4 675C518.4 677.6 524 682.9 527.1 688.7C530.2 694.5 531.8 704.9 532.1 709.9C532.4 714.9 529.5 717.1 529 718.6" stroke-width="6.2"/>
<path d="M513.4 670.6C516.3 671.7 526.3 673.4 530.8 677.5C535.4 681.5 538.8 689.1 540.8 694.9C542.8 700.7 542.4 709.5 542.7 712.4" stroke-width="3.8"/>
<path d="M523.4 670C525.4 671 532.3 672.5 535.8 676.2C539.4 680 542.9 687.2 544.6 692.4C546.2 697.6 545.6 704.9 545.8 707.4" stroke-width="2.5"/>
<path d="M451 697.4 L462.3 689.9 L476 676.2 L507.2 688.7 L520.9 682.4 L530.8 714.9 L511.5 728 L489.7 750 L473.5 742.3 L449.8 733.6 L443.6 716.1Z" fill="#fff" stroke="none"/>
<path d="M476 676.2 L507.2 688.7 L511.5 728 L489.7 750"/>
<path d="M507.2 688.7 L520.9 682.4"/>
<path d="M511.5 728 L530.8 714.9"/>
<path d="M520.9 682.4 L530.8 714.9"/>
<path d="M462.3 689.9 L476 676.2"/>
<path d="M487.2 676.2 L510.9 686.8" stroke-width="1.9"/>
<path d="M473.5 686.2C476.2 686.3 484.5 684.9 489.7 686.8C494.9 688.7 501.1 692.9 504.7 697.4C508.2 701.9 509.8 708.2 510.9 713.6C512 719 512.6 724.6 511.5 729.8C510.5 735 508.3 741.4 504.7 744.8C501 748.2 494.9 750.8 489.7 750.4C484.5 750 476.2 743.6 473.5 742.3"/>
<path d="M457.3 691.2C460 690.4 468.3 686.8 473.5 686.8C478.7 686.8 484.1 687.7 488.5 691.2C492.8 694.6 497.3 701.8 499.7 707.4C502 713 503.3 719.4 502.4 724.8C501.6 730.2 498.1 736.8 494.7 739.8C491.3 742.8 486.4 742.5 482.2 742.5C478.1 742.5 471.8 740.3 469.8 739.8"/>
<path d="M462.3 689.9C460.4 691.2 454 694.9 451 697.4C448.1 699.9 446.1 701.8 444.8 704.9C443.6 708 442.7 711.3 443.6 716.1C444.4 720.9 444.8 729.2 449.8 733.6C454.8 737.9 469.5 740.8 473.5 742.3"/>
<ellipse cx="471.6" cy="717.6" rx="10.2" ry="18.7" stroke-width="8.1" fill="#fff" transform="rotate(12 471.6 717.6)"/>
<path d="M459.8 703.6 L469.8 702.1 L475 714.9 L469.8 730.1 L462.3 732.9 L457.3 718.6Z" fill="#fff" stroke="none"/>
<path d="M459.8 703.6 L469.8 702.1 L475 714.9 L469.8 730.1 L462.3 732.9"/>
<path d="M475 714.9 L465.4 716.4"/>
<path d="M459.8 703.6 L465.4 716.4 L462.3 732.9"/>
<ellipse cx="451.7" cy="720.7" rx="7.7" ry="14.3" fill="#fff" transform="rotate(8 451.7 720.7)"/>
<path d="M439.8 708 L450.4 706.4 L451.7 734.8 L441.3 732.7Z" fill="#fff" stroke="none"/>
<path d="M439.8 708 L450.4 706.4"/>
<path d="M441.3 732.7 L451.7 734.8"/>
<path d="M449.1 707.8 L450.1 708.5 L451 709.5 L451.7 710.8 L452.3 712.4 L452.8 714.3 L453 716.3 L453.1 718.4 L453 720.6 L452.7 722.8 L452.2 724.9 L451.5 726.9 L450.7 728.8 L449.8 730.4 L448.8 731.8 L447.7 732.9 L446.5 733.6 L445.4 734"/>
<ellipse cx="439.8" cy="720.5" rx="7.5" ry="12.5" fill="#fff" transform="rotate(8 439.8 720.5)"/>
<ellipse cx="436.7" cy="721.1" rx="3.4" ry="4.7" transform="rotate(5 436.7 721.1)"/></g>
<g transform="translate(74.8 53.4)"><path d="M411.1 736.1 L422.4 732.3 L439.8 741 L457.3 759.8 L468.5 779.7 L473.5 794.7 L469.8 803.4 L457.3 808.4 L449.8 805.9 L430.5 817.4 L394.3 764.1 L408.7 757.3 L409.3 747.3Z" fill="#fff" stroke="none"/>
<path d="M408.7 757.3C408.8 755.6 408.9 750.8 409.3 747.3C409.7 743.7 409 738.6 411.1 736.1C413.3 733.6 417.6 731.5 422.4 732.3C427.1 733.2 434 736.5 439.8 741C445.6 745.6 452.5 753.3 457.3 759.8C462.1 766.2 465.8 773.9 468.5 779.7C471.2 785.5 473.3 790.7 473.5 794.7C473.7 798.6 472.5 801.1 469.8 803.4C467 805.7 460.6 808 457.3 808.4C454 808.8 451 806.3 449.8 805.9"/>
<path d="M421.1 741C423.4 741.7 429.9 741 434.8 744.8C439.8 748.5 446.5 756.8 451 763.5C455.6 770.1 460.3 779.3 462.3 784.7C464.2 790.1 463.7 793.2 462.9 795.9C462.1 798.6 458.2 800.1 457.3 800.9"/>
<path d="M412.4 746C414.3 745.8 419.9 744.2 423.6 744.8C427.4 745.4 430.9 746.2 434.8 749.8C438.8 753.3 443.8 760.2 447.3 766C450.8 771.8 454.8 779.5 456 784.7C457.3 789.9 456.5 793.6 454.8 797.2C453.1 800.7 447.5 804.4 446.1 805.9"/>
<path d="M394.3 764.1 L412.4 746"/>
<path d="M430.5 817.4 L446.7 805.9"/>
<path d="M449.8 805.9 L452.3 809.6 L459.8 809" stroke-width="3.8"/>
<ellipse cx="412.4" cy="790.7" rx="32.2" ry="17.8" fill="#fff" transform="rotate(55.8 412.4 790.7)"/>
<ellipse cx="411.8" cy="792.8" rx="27.7" ry="14.7" stroke-width="4.5" transform="rotate(56.4 411.8 792.8)"/>
<path d="M395.9 776.4 L397 774.4 L398.5 772.9 L400.4 772 L402.7 771.8 L405.2 772.1 L407.9 773 L410.7 774.5 L413.6 776.6 L416.5 779.1 L419.2 782 L421.7 785.3 L424 788.8 L426 792.4 L427.6 796.1 L428.7 799.7 L429.4 803.2 L429.6 806.4 L429.4 809.2 L428.6 811.6 L427.4 813.5 L425.8 814.8 L423.8 815.5 L421.5 815.7 L418.9 815.2 L416.2 814.1" stroke-width="1.8"/>
<path d="M443.1 787.1 L444.3 791.5 L444.9 795.7 L444.8 799.6 L444.1 803.2 L442.8 806.2 L441 808.6 L438.6 810.5 L435.7 811.6 L432.4 812 L428.9 811.7 L425.1 810.7 L421.2 809 L417.2 806.6" stroke-width="2"/></g>
<g transform="translate(134.7 112.2)"><path d="M497.2 673.1C499.9 673.4 508.4 672.4 513.4 675C518.4 677.6 524 682.9 527.1 688.7C530.2 694.5 531.8 704.9 532.1 709.9C532.4 714.9 529.5 717.1 529 718.6" stroke-width="6.2"/>
<path d="M513.4 670.6C516.3 671.7 526.3 673.4 530.8 677.5C535.4 681.5 538.8 689.1 540.8 694.9C542.8 700.7 542.4 709.5 542.7 712.4" stroke-width="3.8"/>
<path d="M523.4 670C525.4 671 532.3 672.5 535.8 676.2C539.4 680 542.9 687.2 544.6 692.4C546.2 697.6 545.6 704.9 545.8 707.4" stroke-width="2.5"/>
<path d="M451 697.4 L462.3 689.9 L476 676.2 L507.2 688.7 L520.9 682.4 L530.8 714.9 L511.5 728 L489.7 750 L473.5 742.3 L449.8 733.6 L443.6 716.1Z" fill="#fff" stroke="none"/>
<path d="M476 676.2 L507.2 688.7 L511.5 728 L489.7 750"/>
<path d="M507.2 688.7 L520.9 682.4"/>
<path d="M511.5 728 L530.8 714.9"/>
<path d="M520.9 682.4 L530.8 714.9"/>
<path d="M462.3 689.9 L476 676.2"/>
<path d="M487.2 676.2 L510.9 686.8" stroke-width="1.9"/>
<path d="M473.5 686.2C476.2 686.3 484.5 684.9 489.7 686.8C494.9 688.7 501.1 692.9 504.7 697.4C508.2 701.9 509.8 708.2 510.9 713.6C512 719 512.6 724.6 511.5 729.8C510.5 735 508.3 741.4 504.7 744.8C501 748.2 494.9 750.8 489.7 750.4C484.5 750 476.2 743.6 473.5 742.3"/>
<path d="M457.3 691.2C460 690.4 468.3 686.8 473.5 686.8C478.7 686.8 484.1 687.7 488.5 691.2C492.8 694.6 497.3 701.8 499.7 707.4C502 713 503.3 719.4 502.4 724.8C501.6 730.2 498.1 736.8 494.7 739.8C491.3 742.8 486.4 742.5 482.2 742.5C478.1 742.5 471.8 740.3 469.8 739.8"/>
<path d="M462.3 689.9C460.4 691.2 454 694.9 451 697.4C448.1 699.9 446.1 701.8 444.8 704.9C443.6 708 442.7 711.3 443.6 716.1C444.4 720.9 444.8 729.2 449.8 733.6C454.8 737.9 469.5 740.8 473.5 742.3"/>
<ellipse cx="471.6" cy="717.6" rx="10.2" ry="18.7" stroke-width="8.1" fill="#fff" transform="rotate(12 471.6 717.6)"/>
<path d="M459.8 703.6 L469.8 702.1 L475 714.9 L469.8 730.1 L462.3 732.9 L457.3 718.6Z" fill="#fff" stroke="none"/>
<path d="M459.8 703.6 L469.8 702.1 L475 714.9 L469.8 730.1 L462.3 732.9"/>
<path d="M475 714.9 L465.4 716.4"/>
<path d="M459.8 703.6 L465.4 716.4 L462.3 732.9"/>
<ellipse cx="451.7" cy="720.7" rx="7.7" ry="14.3" fill="#fff" transform="rotate(8 451.7 720.7)"/>
<path d="M439.8 708 L450.4 706.4 L451.7 734.8 L441.3 732.7Z" fill="#fff" stroke="none"/>
<path d="M439.8 708 L450.4 706.4"/>
<path d="M441.3 732.7 L451.7 734.8"/>
<path d="M449.1 707.8 L450.1 708.5 L451 709.5 L451.7 710.8 L452.3 712.4 L452.8 714.3 L453 716.3 L453.1 718.4 L453 720.6 L452.7 722.8 L452.2 724.9 L451.5 726.9 L450.7 728.8 L449.8 730.4 L448.8 731.8 L447.7 732.9 L446.5 733.6 L445.4 734"/>
<ellipse cx="439.8" cy="720.5" rx="7.5" ry="12.5" fill="#fff" transform="rotate(8 439.8 720.5)"/>
<ellipse cx="436.7" cy="721.1" rx="3.4" ry="4.7" transform="rotate(5 436.7 721.1)"/></g>
<g transform="translate(150.5 101.5)"><path d="M411.1 736.1 L422.4 732.3 L439.8 741 L457.3 759.8 L468.5 779.7 L473.5 794.7 L469.8 803.4 L457.3 808.4 L449.8 805.9 L430.5 817.4 L394.3 764.1 L408.7 757.3 L409.3 747.3Z" fill="#fff" stroke="none"/>
<path d="M408.7 757.3C408.8 755.6 408.9 750.8 409.3 747.3C409.7 743.7 409 738.6 411.1 736.1C413.3 733.6 417.6 731.5 422.4 732.3C427.1 733.2 434 736.5 439.8 741C445.6 745.6 452.5 753.3 457.3 759.8C462.1 766.2 465.8 773.9 468.5 779.7C471.2 785.5 473.3 790.7 473.5 794.7C473.7 798.6 472.5 801.1 469.8 803.4C467 805.7 460.6 808 457.3 808.4C454 808.8 451 806.3 449.8 805.9"/>
<path d="M421.1 741C423.4 741.7 429.9 741 434.8 744.8C439.8 748.5 446.5 756.8 451 763.5C455.6 770.1 460.3 779.3 462.3 784.7C464.2 790.1 463.7 793.2 462.9 795.9C462.1 798.6 458.2 800.1 457.3 800.9"/>
<path d="M412.4 746C414.3 745.8 419.9 744.2 423.6 744.8C427.4 745.4 430.9 746.2 434.8 749.8C438.8 753.3 443.8 760.2 447.3 766C450.8 771.8 454.8 779.5 456 784.7C457.3 789.9 456.5 793.6 454.8 797.2C453.1 800.7 447.5 804.4 446.1 805.9"/>
<path d="M394.3 764.1 L412.4 746"/>
<path d="M430.5 817.4 L446.7 805.9"/>
<path d="M449.8 805.9 L452.3 809.6 L459.8 809" stroke-width="3.8"/>
<ellipse cx="412.4" cy="790.7" rx="32.2" ry="17.8" fill="#fff" transform="rotate(55.8 412.4 790.7)"/>
<ellipse cx="411.8" cy="792.8" rx="27.7" ry="14.7" stroke-width="4.5" transform="rotate(56.4 411.8 792.8)"/>
<path d="M395.9 776.4 L397 774.4 L398.5 772.9 L400.4 772 L402.7 771.8 L405.2 772.1 L407.9 773 L410.7 774.5 L413.6 776.6 L416.5 779.1 L419.2 782 L421.7 785.3 L424 788.8 L426 792.4 L427.6 796.1 L428.7 799.7 L429.4 803.2 L429.6 806.4 L429.4 809.2 L428.6 811.6 L427.4 813.5 L425.8 814.8 L423.8 815.5 L421.5 815.7 L418.9 815.2 L416.2 814.1" stroke-width="1.8"/>
<path d="M443.1 787.1 L444.3 791.5 L444.9 795.7 L444.8 799.6 L444.1 803.2 L442.8 806.2 L441 808.6 L438.6 810.5 L435.7 811.6 L432.4 812 L428.9 811.7 L425.1 810.7 L421.2 809 L417.2 806.6" stroke-width="2"/></g>
<g transform="translate(226 156.5)"><path d="M411.1 736.1 L422.4 732.3 L439.8 741 L457.3 759.8 L468.5 779.7 L473.5 794.7 L469.8 803.4 L457.3 808.4 L449.8 805.9 L430.5 817.4 L394.3 764.1 L408.7 757.3 L409.3 747.3Z" fill="#fff" stroke="none"/>
<path d="M408.7 757.3C408.8 755.6 408.9 750.8 409.3 747.3C409.7 743.7 409 738.6 411.1 736.1C413.3 733.6 417.6 731.5 422.4 732.3C427.1 733.2 434 736.5 439.8 741C445.6 745.6 452.5 753.3 457.3 759.8C462.1 766.2 465.8 773.9 468.5 779.7C471.2 785.5 473.3 790.7 473.5 794.7C473.7 798.6 472.5 801.1 469.8 803.4C467 805.7 460.6 808 457.3 808.4C454 808.8 451 806.3 449.8 805.9"/>
<path d="M421.1 741C423.4 741.7 429.9 741 434.8 744.8C439.8 748.5 446.5 756.8 451 763.5C455.6 770.1 460.3 779.3 462.3 784.7C464.2 790.1 463.7 793.2 462.9 795.9C462.1 798.6 458.2 800.1 457.3 800.9"/>
<path d="M412.4 746C414.3 745.8 419.9 744.2 423.6 744.8C427.4 745.4 430.9 746.2 434.8 749.8C438.8 753.3 443.8 760.2 447.3 766C450.8 771.8 454.8 779.5 456 784.7C457.3 789.9 456.5 793.6 454.8 797.2C453.1 800.7 447.5 804.4 446.1 805.9"/>
<path d="M394.3 764.1 L412.4 746"/>
<path d="M430.5 817.4 L446.7 805.9"/>
<path d="M449.8 805.9 L452.3 809.6 L459.8 809" stroke-width="3.8"/>
<ellipse cx="412.4" cy="790.7" rx="32.2" ry="17.8" fill="#fff" transform="rotate(55.8 412.4 790.7)"/>
<ellipse cx="411.8" cy="792.8" rx="27.7" ry="14.7" stroke-width="4.5" transform="rotate(56.4 411.8 792.8)"/>
<path d="M395.9 776.4 L397 774.4 L398.5 772.9 L400.4 772 L402.7 771.8 L405.2 772.1 L407.9 773 L410.7 774.5 L413.6 776.6 L416.5 779.1 L419.2 782 L421.7 785.3 L424 788.8 L426 792.4 L427.6 796.1 L428.7 799.7 L429.4 803.2 L429.6 806.4 L429.4 809.2 L428.6 811.6 L427.4 813.5 L425.8 814.8 L423.8 815.5 L421.5 815.7 L418.9 815.2 L416.2 814.1" stroke-width="1.8"/>
<path d="M443.1 787.1 L444.3 791.5 L444.9 795.7 L444.8 799.6 L444.1 803.2 L442.8 806.2 L441 808.6 L438.6 810.5 L435.7 811.6 L432.4 812 L428.9 811.7 L425.1 810.7 L421.2 809 L417.2 806.6" stroke-width="2"/></g>
<ellipse cx="628.2" cy="1059.7" rx="20" ry="8.4" fill="#fff" transform="rotate(-126.7 628.2 1059.7)"/>
<path d="M616.3 1043.7 L593.2 1060.9 L617.2 1092.9 L640.2 1075.7Z" fill="#fff" stroke="none"/>
<path d="M616.3 1043.7 L593.2 1060.9"/>
<path d="M640.2 1075.7 L617.2 1092.9"/>
<ellipse cx="605.2" cy="1076.9" rx="20" ry="8.4" fill="#fff" transform="rotate(-126.7 605.2 1076.9)"/>
<path d="M593.4 1065.4 L626.5 1040.7 L654 1060.8 L654 1073.8 L621 1098.4 L621 1085.4Z" fill="#fff" stroke="none"/>
<path d="M593.4 1065.4 L626.5 1040.7 L654 1060.8 L654 1073.8 L621 1098.4"/>
<path d="M654 1060.8 L621 1085.4"/>
<ellipse cx="624.6" cy="1062.4" rx="12.5" ry="8.5" stroke-width="3.2" fill="#fff"/>
<path d="M635.6 1064.4 L635.5 1065.4 L635.1 1066.4 L634.4 1067.3 L633.5 1068.1 L632.4 1068.8 L631.1 1069.4 L629.6 1069.9 L628.1 1070.2 L626.5 1070.4 L624.8 1070.4 L623.2 1070.2 L621.6 1069.9 L620.2 1069.4 L618.9 1068.8 L617.7 1068.1 L616.8 1067.3 L616.2 1066.4 L615.8 1065.4 L615.6 1064.4" stroke-width="1.9"/>
<path d="M593 1061 L594.3 1060.4 L595.9 1060.3 L597.7 1060.6 L599.7 1061.3 L601.9 1062.5 L604.1 1064.1 L606.4 1066 L608.6 1068.3 L610.7 1070.7 L612.7 1073.4 L614.5 1076.1 L616 1078.9 L617.2 1081.6 L618.1 1084.2 L618.6 1086.6 L618.7 1088.8 L618.5 1090.6 L617.9 1092 L617 1093.1" stroke-width="3.8"/>
<ellipse cx="605.2" cy="1076.9" rx="20" ry="8.4" fill="#fff" transform="rotate(-126.7 605.2 1076.9)"/>
<path d="M593.2 1060.9 L548.2 1094.5 L572.1 1126.6 L617.2 1092.9Z" fill="#fff" stroke="none"/>
<path d="M593.2 1060.9 L548.2 1094.5"/>
<path d="M617.2 1092.9 L572.1 1126.6"/>
<ellipse cx="560.1" cy="1110.5" rx="20" ry="8.4" fill="#fff" transform="rotate(-126.7 560.1 1110.5)"/>
<path d="M550.4 1092.9 L551.7 1092.3 L553.2 1092.1 L555 1092.4 L557 1093.2 L559.2 1094.4 L561.4 1095.9 L563.7 1097.9 L565.9 1100.1 L568.1 1102.6 L570 1105.2 L571.8 1108 L573.3 1110.7 L574.5 1113.5 L575.4 1116.1 L575.9 1118.5 L576.1 1120.6 L575.9 1122.4 L575.3 1123.9 L574.3 1124.9" stroke-width="4.4"/>
<ellipse cx="560.1" cy="1110.5" rx="15.5" ry="6.5" fill="#fff" transform="rotate(-126.7 560.1 1110.5)"/>
<path d="M550.9 1098.1 L544.9 1102.6 L563.4 1127.5 L569.4 1123Z" fill="#fff" stroke="none"/>
<path d="M550.9 1098.1 L544.9 1102.6"/>
<path d="M569.4 1123 L563.4 1127.5"/>
<ellipse cx="554.1" cy="1115" rx="15.5" ry="6.5" fill="#fff" transform="rotate(-126.7 554.1 1115)"/>
<ellipse cx="554.1" cy="1115" rx="19.5" ry="8.2" fill="#fff" transform="rotate(-126.7 554.1 1115)"/>
<path d="M542.5 1099.4 L506.4 1126.3 L529.8 1157.6 L565.8 1130.7Z" fill="#fff" stroke="none"/>
<path d="M542.5 1099.4 L506.4 1126.3"/>
<path d="M565.8 1130.7 L529.8 1157.6"/>
<ellipse cx="518.1" cy="1141.9" rx="19.5" ry="8.2" fill="#fff" transform="rotate(-126.7 518.1 1141.9)"/>
<ellipse cx="545.1" cy="1115.5" rx="2.2" ry="2.2" stroke-width="1.8"/>
<ellipse cx="546.6" cy="1130" rx="2.2" ry="2.2" stroke-width="1.8"/>
<ellipse cx="527.4" cy="1121" rx="2.2" ry="2.2" stroke-width="1.8"/>
<ellipse cx="531.6" cy="1135" rx="2.2" ry="2.2" stroke-width="1.8"/>
<ellipse cx="529.1" cy="1146.2" rx="2.2" ry="2.2" stroke-width="1.8"/>
<ellipse cx="517.4" cy="1134.7" rx="2.2" ry="2.2" stroke-width="1.8"/>
<ellipse cx="547.1" cy="1139" rx="2.2" ry="2.2" stroke-width="1.8"/>
<path d="M530.5 1108.4 L531.7 1107.8 L533.2 1107.6 L535 1107.9 L537 1108.7 L539.1 1109.8 L541.2 1111.4 L543.5 1113.2 L545.6 1115.4 L547.7 1117.8 L549.6 1120.4 L551.4 1123.1 L552.8 1125.8 L554 1128.4 L554.9 1131 L555.4 1133.3 L555.5 1135.4 L555.3 1137.2 L554.7 1138.6 L553.8 1139.6" stroke-width="2.5"/>
<path d="M519.4 1116.6 L520.7 1116 L522.2 1115.9 L524 1116.2 L525.9 1116.9 L528 1118 L530.2 1119.6 L532.4 1121.5 L534.6 1123.6 L536.7 1126.1 L538.6 1128.6 L540.3 1131.3 L541.8 1134 L543 1136.7 L543.8 1139.2 L544.4 1141.5 L544.5 1143.6 L544.3 1145.4 L543.7 1146.8 L542.8 1147.9" stroke-width="2.5"/>
<path d="M508.4 1124.8 L509.7 1124.2 L511.2 1124.1 L513 1124.4 L514.9 1125.1 L517 1126.3 L519.2 1127.8 L521.4 1129.7 L523.6 1131.9 L525.7 1134.3 L527.6 1136.9 L529.3 1139.5 L530.8 1142.2 L532 1144.9 L532.8 1147.4 L533.3 1149.8 L533.5 1151.9 L533.3 1153.6 L532.7 1155.1 L531.8 1156.1" stroke-width="2.5"/>
<ellipse cx="518.1" cy="1141.9" rx="13.8" ry="5.8" fill="#fff" transform="rotate(-126.7 518.1 1141.9)"/>
<path d="M509.9 1130.9 L501.9 1136.9 L518.3 1158.9 L526.3 1153Z" fill="#fff" stroke="none"/>
<path d="M509.9 1130.9 L501.9 1136.9"/>
<path d="M526.3 1153 L518.3 1158.9"/>
<ellipse cx="510.1" cy="1147.9" rx="13.8" ry="5.8" fill="#fff" transform="rotate(-126.7 510.1 1147.9)"/>
<ellipse cx="510.1" cy="1147.9" rx="20" ry="8.4" fill="#fff" transform="rotate(-126.7 510.1 1147.9)"/>
<path d="M498.1 1131.9 L488.1 1139.4 L512 1171.4 L522.1 1164Z" fill="#fff" stroke="none"/>
<path d="M498.1 1131.9 L488.1 1139.4"/>
<path d="M522.1 1164 L512 1171.4"/>
<ellipse cx="500.1" cy="1155.4" rx="20" ry="8.4" fill="#fff" transform="rotate(-126.7 500.1 1155.4)"/>
<ellipse cx="500.1" cy="1155.4" rx="13" ry="5.5" fill="#fff" transform="rotate(-126.7 500.1 1155.4)"/>
<path d="M492.3 1145 L484.3 1151 L499.8 1171.8 L507.9 1165.8Z" fill="#fff" stroke="none"/>
<path d="M492.3 1145 L484.3 1151"/>
<path d="M507.9 1165.8 L499.8 1171.8"/>
<ellipse cx="492.1" cy="1161.4" rx="13" ry="5.5" fill="#fff" transform="rotate(-126.7 492.1 1161.4)"/>
<ellipse cx="492.1" cy="1161.4" rx="20" ry="8.4" fill="#fff" transform="rotate(-126.7 492.1 1161.4)"/>
<path d="M480.1 1145.4 L468.1 1154.3 L492 1186.4 L504 1177.4Z" fill="#fff" stroke="none"/>
<path d="M480.1 1145.4 L468.1 1154.3"/>
<path d="M504 1177.4 L492 1186.4"/>
<ellipse cx="480" cy="1170.3" rx="20" ry="8.4" fill="#fff" transform="rotate(-126.7 480 1170.3)"/>
<ellipse cx="480" cy="1170.3" rx="13" ry="5.5" fill="#fff" transform="rotate(-126.7 480 1170.3)"/>
<path d="M472.3 1159.9 L464.3 1165.9 L479.8 1186.7 L487.8 1180.8Z" fill="#fff" stroke="none"/>
<path d="M472.3 1159.9 L464.3 1165.9"/>
<path d="M487.8 1180.8 L479.8 1186.7"/>
<ellipse cx="472" cy="1176.3" rx="13" ry="5.5" fill="#fff" transform="rotate(-126.7 472 1176.3)"/>
<ellipse cx="472" cy="1176.3" rx="20" ry="8.4" fill="#fff" transform="rotate(-126.7 472 1176.3)"/>
<path d="M460.1 1160.3 L450.1 1167.8 L474 1199.8 L484 1192.4Z" fill="#fff" stroke="none"/>
<path d="M460.1 1160.3 L450.1 1167.8"/>
<path d="M484 1192.4 L474 1199.8"/>
<ellipse cx="462" cy="1183.8" rx="20" ry="8.4" fill="#fff" transform="rotate(-126.7 462 1183.8)"/>
<ellipse cx="462" cy="1183.8" rx="13.8" ry="5.8" fill="#fff" transform="rotate(-126.7 462 1183.8)"/>
<path d="M453.8 1172.8 L441.8 1181.8 L458.2 1203.8 L470.3 1194.8Z" fill="#fff" stroke="none"/>
<path d="M453.8 1172.8 L441.8 1181.8"/>
<path d="M470.3 1194.8 L458.2 1203.8"/>
<ellipse cx="450" cy="1192.8" rx="13.8" ry="5.8" fill="#fff" transform="rotate(-126.7 450 1192.8)"/>
<ellipse cx="450" cy="1192.8" rx="17" ry="7.1" fill="#fff" transform="rotate(-126.7 450 1192.8)"/>
<path d="M439.8 1179.2 L399.8 1209.1 L420.1 1236.3 L460.2 1206.4Z" fill="#fff" stroke="none"/>
<path d="M439.8 1179.2 L399.8 1209.1"/>
<path d="M460.2 1206.4 L420.1 1236.3"/>
<ellipse cx="410" cy="1222.7" rx="17" ry="7.1" fill="#fff" transform="rotate(-126.7 410 1222.7)"/>
<ellipse cx="446.7" cy="1195.3" rx="20" ry="8.4" stroke-width="4" fill="#fff" transform="rotate(53.3 446.7 1195.3)"/>
<path d="M432.6 1180.9 L433.7 1180.1 L435.1 1179.7 L436.8 1179.8 L438.7 1180.3 L440.8 1181.3 L443 1182.6 L445.3 1184.4 L447.5 1186.5 L449.7 1188.9 L451.8 1191.4 L453.7 1194.2 L455.3 1196.9 L456.7 1199.7 L457.7 1202.4 L458.4 1204.9 L458.8 1207.2 L458.7 1209.2 L458.3 1210.8 L457.5 1212 L456.4 1212.9" stroke-width="2"/>
<ellipse cx="440" cy="1200.2" rx="20" ry="8.4" stroke-width="4" fill="#fff" transform="rotate(53.3 440 1200.2)"/>
<path d="M425.9 1185.9 L427 1185.1 L428.4 1184.7 L430.1 1184.7 L432 1185.3 L434.1 1186.2 L436.3 1187.6 L438.6 1189.4 L440.9 1191.5 L443.1 1193.8 L445.1 1196.4 L447 1199.1 L448.7 1201.9 L450 1204.7 L451.1 1207.4 L451.8 1209.9 L452.1 1212.1 L452.1 1214.1 L451.6 1215.8 L450.9 1217 L449.7 1217.8" stroke-width="2"/>
<ellipse cx="433.3" cy="1205.2" rx="20" ry="8.4" stroke-width="4" fill="#fff" transform="rotate(53.3 433.3 1205.2)"/>
<path d="M419.2 1190.9 L420.3 1190.1 L421.7 1189.7 L423.4 1189.7 L425.4 1190.3 L427.4 1191.2 L429.7 1192.6 L431.9 1194.4 L434.2 1196.5 L436.4 1198.8 L438.5 1201.4 L440.3 1204.1 L442 1206.9 L443.3 1209.7 L444.4 1212.3 L445.1 1214.9 L445.4 1217.1 L445.4 1219.1 L445 1220.8 L444.2 1222 L443.1 1222.8" stroke-width="2"/>
<ellipse cx="426.6" cy="1210.2" rx="20" ry="8.4" stroke-width="4" fill="#fff" transform="rotate(53.3 426.6 1210.2)"/>
<path d="M412.5 1195.9 L413.6 1195 L415.1 1194.6 L416.8 1194.7 L418.7 1195.2 L420.8 1196.2 L423 1197.6 L425.3 1199.3 L427.5 1201.4 L429.7 1203.8 L431.8 1206.4 L433.7 1209.1 L435.3 1211.9 L436.7 1214.6 L437.7 1217.3 L438.4 1219.8 L438.7 1222.1 L438.7 1224.1 L438.3 1225.7 L437.5 1227 L436.4 1227.8" stroke-width="2"/>
<ellipse cx="420" cy="1215.2" rx="20" ry="8.4" stroke-width="4" fill="#fff" transform="rotate(53.3 420 1215.2)"/>
<path d="M405.9 1200.9 L407 1200 L408.4 1199.6 L410.1 1199.7 L412 1200.2 L414.1 1201.2 L416.3 1202.6 L418.6 1204.3 L420.8 1206.4 L423 1208.8 L425.1 1211.4 L427 1214.1 L428.6 1216.9 L430 1219.6 L431 1222.3 L431.7 1224.8 L432.1 1227.1 L432 1229.1 L431.6 1230.7 L430.8 1232 L429.7 1232.8" stroke-width="2"/>
<ellipse cx="413.3" cy="1220.2" rx="20" ry="8.4" stroke-width="4" fill="#fff" transform="rotate(53.3 413.3 1220.2)"/>
<path d="M399.2 1205.9 L400.3 1205 L401.7 1204.6 L403.4 1204.7 L405.3 1205.2 L407.4 1206.2 L409.6 1207.6 L411.9 1209.3 L414.2 1211.4 L416.4 1213.8 L418.4 1216.4 L420.3 1219.1 L422 1221.8 L423.3 1224.6 L424.4 1227.3 L425.1 1229.8 L425.4 1232.1 L425.4 1234.1 L424.9 1235.7 L424.2 1237 L423 1237.8" stroke-width="2"/>
<ellipse cx="410" cy="1222.7" rx="12.5" ry="5.2" fill="#fff" transform="rotate(-126.7 410 1222.7)"/>
<path d="M402.5 1212.7 L389.5 1222.4 L404.4 1242.4 L417.4 1232.7Z" fill="#fff" stroke="none"/>
<path d="M402.5 1212.7 L389.5 1222.4"/>
<path d="M417.4 1232.7 L404.4 1242.4"/>
<ellipse cx="396.9" cy="1232.4" rx="12.5" ry="5.2" fill="#fff" transform="rotate(-126.7 396.9 1232.4)"/>
<ellipse cx="396.9" cy="1232.4" rx="20.5" ry="8.6" fill="#fff" transform="rotate(-126.7 396.9 1232.4)"/>
<path d="M384.7 1216 L328.6 1257.8 L353.1 1290.7 L409.2 1248.8Z" fill="#fff" stroke="none"/>
<path d="M384.7 1216 L328.6 1257.8"/>
<path d="M409.2 1248.8 L353.1 1290.7"/>
<ellipse cx="340.9" cy="1274.3" rx="20.5" ry="8.6" fill="#fff" transform="rotate(-126.7 340.9 1274.3)"/>
<path d="M375.7 1222.7 L377 1222.1 L378.6 1221.9 L380.4 1222.2 L382.5 1223 L384.7 1224.2 L387 1225.8 L389.3 1227.8 L391.6 1230.1 L393.8 1232.6 L395.8 1235.3 L397.6 1238.2 L399.2 1241 L400.4 1243.8 L401.3 1246.5 L401.9 1248.9 L402 1251.1 L401.8 1253 L401.2 1254.5 L400.2 1255.5" stroke-width="2.5"/>
<ellipse cx="340.9" cy="1274.3" rx="4.5" ry="1.9" fill="#fff" transform="rotate(-126.7 340.9 1274.3)"/>
<path d="M338.2 1270.6 L325.2 1280.4 L330.6 1287.6 L343.6 1277.9Z" fill="#fff" stroke="none"/>
<path d="M338.2 1270.6 L325.2 1280.4"/>
<path d="M343.6 1277.9 L330.6 1287.6"/>
<ellipse cx="327.9" cy="1284" rx="4.5" ry="1.9" fill="#fff" transform="rotate(-126.7 327.9 1284)"/>
<g transform="translate(-80 -49.5)"><ellipse cx="762" cy="1078.5" rx="31" ry="18.6" fill="#fff" transform="rotate(-125.8 762 1078.5)"/>
<path d="M743.8 1053.4 L734.8 1059.9 L771.2 1110.1 L780.2 1103.6Z" fill="#fff" stroke="none"/>
<path d="M743.8 1053.4 L734.8 1059.9"/>
<path d="M780.2 1103.6 L771.2 1110.1"/>
<ellipse cx="753" cy="1085" rx="31" ry="18.6" fill="#fff" transform="rotate(-125.8 753 1085)"/>
<ellipse cx="753" cy="1085" rx="23.8" ry="14.5" stroke-width="4.4" transform="rotate(53.3 753 1085)"/>
<path d="M741.8 1066.1 L743.7 1065.1 L745.9 1064.6 L748.4 1064.5 L751 1065.1 L753.8 1066.1 L756.5 1067.6 L759.3 1069.5 L761.9 1071.9 L764.3 1074.5 L766.5 1077.5 L768.3 1080.5 L769.8 1083.7 L770.9 1086.9 L771.6 1090 L771.8 1092.9 L771.5 1095.6 L770.8 1097.9 L769.7 1099.9 L768.2 1101.4" stroke-width="1.9"/>
<ellipse cx="790" cy="1058.8" rx="29" ry="17.5" fill="#fff" transform="rotate(53.3 790 1058.8)"/>
<ellipse cx="790" cy="1058.8" rx="22.5" ry="12" transform="rotate(53.3 790 1058.8)"/>
<path d="M738 1100 L753 1089.5"/>
<path d="M779.5 1065.5 L793.8 1055.5"/>
<path d="M808.8 1043.8 L823 1033"/></g>
<ellipse cx="714.2" cy="1108.2" rx="20" ry="8.4" fill="#fff" transform="rotate(-126.7 714.2 1108.2)"/>
<path d="M702.3 1092.2 L679.2 1109.4 L703.2 1141.4 L726.2 1124.2Z" fill="#fff" stroke="none"/>
<path d="M702.3 1092.2 L679.2 1109.4"/>
<path d="M726.2 1124.2 L703.2 1141.4"/>
<ellipse cx="691.2" cy="1125.4" rx="20" ry="8.4" fill="#fff" transform="rotate(-126.7 691.2 1125.4)"/>
<path d="M679.4 1113.9 L712.5 1089.2 L740 1109.3 L740 1122.3 L707 1146.9 L707 1133.9Z" fill="#fff" stroke="none"/>
<path d="M679.4 1113.9 L712.5 1089.2 L740 1109.3 L740 1122.3 L707 1146.9"/>
<path d="M740 1109.3 L707 1133.9"/>
<ellipse cx="710.6" cy="1110.9" rx="12.5" ry="8.5" stroke-width="3.2" fill="#fff"/>
<path d="M721.6 1112.9 L721.5 1113.9 L721.1 1114.9 L720.4 1115.8 L719.5 1116.6 L718.4 1117.3 L717.1 1117.9 L715.6 1118.4 L714.1 1118.7 L712.5 1118.9 L710.8 1118.9 L709.2 1118.7 L707.6 1118.4 L706.2 1117.9 L704.9 1117.3 L703.7 1116.6 L702.8 1115.8 L702.2 1114.9 L701.8 1113.9 L701.6 1112.9" stroke-width="1.9"/>
<path d="M679 1109.5 L680.3 1108.9 L681.9 1108.8 L683.7 1109.1 L685.7 1109.8 L687.9 1111 L690.1 1112.6 L692.4 1114.5 L694.6 1116.8 L696.7 1119.2 L698.7 1121.9 L700.5 1124.6 L702 1127.4 L703.2 1130.1 L704.1 1132.7 L704.6 1135.1 L704.7 1137.3 L704.5 1139.1 L703.9 1140.5 L703 1141.6" stroke-width="3.8"/>
<ellipse cx="691.2" cy="1125.4" rx="20" ry="8.4" fill="#fff" transform="rotate(-126.7 691.2 1125.4)"/>
<path d="M679.2 1109.4 L596.9 1170.8 L620.9 1202.9 L703.2 1141.4Z" fill="#fff" stroke="none"/>
<path d="M679.2 1109.4 L596.9 1170.8"/>
<path d="M703.2 1141.4 L620.9 1202.9"/>
<ellipse cx="608.9" cy="1186.9" rx="20" ry="8.4" fill="#fff" transform="rotate(-126.7 608.9 1186.9)"/>
<path d="M620.2 1153.5 L621.4 1152.9 L623 1152.7 L624.8 1153 L626.8 1153.8 L629 1155 L631.2 1156.5 L633.5 1158.5 L635.7 1160.7 L637.9 1163.2 L639.8 1165.8 L641.6 1168.6 L643.1 1171.4 L644.3 1174.1 L645.2 1176.7 L645.7 1179.1 L645.9 1181.2 L645.6 1183 L645 1184.5 L644.1 1185.5" stroke-width="3.8"/>
<path d="M609.2 1161.7 L610.4 1161.1 L612 1160.9 L613.8 1161.3 L615.8 1162 L618 1163.2 L620.2 1164.8 L622.5 1166.7 L624.7 1168.9 L626.8 1171.4 L628.8 1174.1 L630.6 1176.8 L632.1 1179.6 L633.3 1182.3 L634.2 1184.9 L634.7 1187.3 L634.8 1189.4 L634.6 1191.3 L634 1192.7 L633.1 1193.8" stroke-width="2.5"/>
<path d="M602.1 1166.9 L603.4 1166.3 L605 1166.2 L606.8 1166.5 L608.8 1167.2 L611 1168.4 L613.2 1170 L615.5 1171.9 L617.7 1174.2 L619.8 1176.6 L621.8 1179.3 L623.6 1182 L625.1 1184.8 L626.3 1187.5 L627.2 1190.1 L627.7 1192.5 L627.8 1194.7 L627.6 1196.5 L627 1198 L626.1 1199" stroke-width="2.5"/>
<ellipse cx="608.9" cy="1186.9" rx="12.5" ry="5.2" fill="#fff" transform="rotate(-126.7 608.9 1186.9)"/>
<path d="M601.4 1176.8 L588.6 1186.4 L603.6 1206.4 L616.4 1196.9Z" fill="#fff" stroke="none"/>
<path d="M601.4 1176.8 L588.6 1186.4"/>
<path d="M616.4 1196.9 L603.6 1206.4"/>
<ellipse cx="596.1" cy="1196.4" rx="12.5" ry="5.2" fill="#fff" transform="rotate(-126.7 596.1 1196.4)"/>
<ellipse cx="596.1" cy="1196.4" rx="20" ry="8.4" fill="#fff" transform="rotate(-126.7 596.1 1196.4)"/>
<path d="M584.1 1180.4 L579.7 1183.7 L603.6 1215.7 L608.1 1212.5Z" fill="#fff" stroke="none"/>
<path d="M584.1 1180.4 L579.7 1183.7"/>
<path d="M608.1 1212.5 L603.6 1215.7"/>
<ellipse cx="591.7" cy="1199.7" rx="20" ry="8.4" fill="#fff" transform="rotate(-126.7 591.7 1199.7)"/>
<ellipse cx="591.7" cy="1199.7" rx="17" ry="7.1" fill="#fff" transform="rotate(-126.7 591.7 1199.7)"/>
<path d="M581.5 1186.1 L535.9 1220.2 L556.2 1247.4 L601.9 1213.3Z" fill="#fff" stroke="none"/>
<path d="M581.5 1186.1 L535.9 1220.2"/>
<path d="M601.9 1213.3 L556.2 1247.4"/>
<ellipse cx="546" cy="1233.8" rx="17" ry="7.1" fill="#fff" transform="rotate(-126.7 546 1233.8)"/>
<ellipse cx="587.9" cy="1202.6" rx="20" ry="8.4" stroke-width="4" fill="#fff" transform="rotate(53.3 587.9 1202.6)"/>
<path d="M573.8 1188.2 L574.9 1187.4 L576.3 1187 L578 1187 L579.9 1187.6 L582 1188.5 L584.2 1189.9 L586.5 1191.7 L588.7 1193.8 L590.9 1196.1 L593 1198.7 L594.9 1201.4 L596.5 1204.2 L597.9 1207 L598.9 1209.7 L599.6 1212.2 L600 1214.5 L599.9 1216.4 L599.5 1218.1 L598.7 1219.3 L597.6 1220.2" stroke-width="2"/>
<ellipse cx="580.3" cy="1208.2" rx="20" ry="8.4" stroke-width="4" fill="#fff" transform="rotate(53.3 580.3 1208.2)"/>
<path d="M566.2 1193.9 L567.3 1193.1 L568.7 1192.7 L570.4 1192.7 L572.3 1193.3 L574.4 1194.2 L576.6 1195.6 L578.9 1197.4 L581.1 1199.5 L583.3 1201.8 L585.4 1204.4 L587.3 1207.1 L588.9 1209.9 L590.3 1212.7 L591.3 1215.3 L592 1217.9 L592.4 1220.1 L592.3 1222.1 L591.9 1223.8 L591.1 1225 L590 1225.8" stroke-width="2"/>
<ellipse cx="572.7" cy="1213.9" rx="20" ry="8.4" stroke-width="4" fill="#fff" transform="rotate(53.3 572.7 1213.9)"/>
<path d="M558.6 1199.6 L559.7 1198.7 L561.1 1198.3 L562.8 1198.4 L564.7 1198.9 L566.8 1199.9 L569 1201.3 L571.3 1203 L573.5 1205.1 L575.7 1207.5 L577.8 1210.1 L579.7 1212.8 L581.3 1215.6 L582.7 1218.3 L583.7 1221 L584.4 1223.5 L584.8 1225.8 L584.7 1227.8 L584.3 1229.4 L583.5 1230.7 L582.4 1231.5" stroke-width="2"/>
<ellipse cx="565" cy="1219.6" rx="20" ry="8.4" stroke-width="4" fill="#fff" transform="rotate(53.3 565 1219.6)"/>
<path d="M550.9 1205.3 L552 1204.4 L553.5 1204 L555.2 1204.1 L557.1 1204.6 L559.2 1205.6 L561.4 1207 L563.7 1208.7 L565.9 1210.8 L568.1 1213.2 L570.2 1215.8 L572.1 1218.5 L573.7 1221.3 L575.1 1224 L576.1 1226.7 L576.8 1229.2 L577.1 1231.5 L577.1 1233.5 L576.7 1235.1 L575.9 1236.4 L574.8 1237.2" stroke-width="2"/>
<ellipse cx="557.4" cy="1225.3" rx="20" ry="8.4" stroke-width="4" fill="#fff" transform="rotate(53.3 557.4 1225.3)"/>
<path d="M543.3 1210.9 L544.4 1210.1 L545.9 1209.7 L547.5 1209.8 L549.5 1210.3 L551.6 1211.3 L553.8 1212.6 L556 1214.4 L558.3 1216.5 L560.5 1218.9 L562.6 1221.4 L564.5 1224.2 L566.1 1226.9 L567.5 1229.7 L568.5 1232.4 L569.2 1234.9 L569.5 1237.2 L569.5 1239.2 L569.1 1240.8 L568.3 1242.1 L567.2 1242.9" stroke-width="2"/>
<ellipse cx="549.8" cy="1231" rx="20" ry="8.4" stroke-width="4" fill="#fff" transform="rotate(53.3 549.8 1231)"/>
<path d="M535.7 1216.6 L536.8 1215.8 L538.2 1215.4 L539.9 1215.5 L541.9 1216 L544 1216.9 L546.2 1218.3 L548.4 1220.1 L550.7 1222.2 L552.9 1224.6 L555 1227.1 L556.8 1229.8 L558.5 1232.6 L559.9 1235.4 L560.9 1238.1 L561.6 1240.6 L561.9 1242.9 L561.9 1244.8 L561.5 1246.5 L560.7 1247.7 L559.6 1248.6" stroke-width="2"/>
<ellipse cx="546" cy="1233.8" rx="20" ry="8.4" fill="#fff" transform="rotate(-126.7 546 1233.8)"/>
<path d="M534.1 1217.8 L528.1 1222.3 L552 1254.3 L558 1249.8Z" fill="#fff" stroke="none"/>
<path d="M534.1 1217.8 L528.1 1222.3"/>
<path d="M558 1249.8 L552 1254.3"/>
<ellipse cx="540" cy="1238.3" rx="20" ry="8.4" fill="#fff" transform="rotate(-126.7 540 1238.3)"/>
<ellipse cx="540" cy="1238.3" rx="13.8" ry="5.8" fill="#fff" transform="rotate(-126.7 540 1238.3)"/>
<path d="M531.8 1227.3 L522.8 1234 L539.2 1256 L548.2 1249.3Z" fill="#fff" stroke="none"/>
<path d="M531.8 1227.3 L522.8 1234"/>
<path d="M548.2 1249.3 L539.2 1256"/>
<ellipse cx="531" cy="1245" rx="13.8" ry="5.8" fill="#fff" transform="rotate(-126.7 531 1245)"/>
<ellipse cx="531" cy="1245" rx="20" ry="8.4" fill="#fff" transform="rotate(-126.7 531 1245)"/>
<path d="M519 1229 L511.4 1234.7 L535.4 1266.7 L543 1261Z" fill="#fff" stroke="none"/>
<path d="M519 1229 L511.4 1234.7"/>
<path d="M543 1261 L535.4 1266.7"/>
<ellipse cx="523.4" cy="1250.7" rx="20" ry="8.4" fill="#fff" transform="rotate(-126.7 523.4 1250.7)"/>
<ellipse cx="523.4" cy="1250.7" rx="17" ry="7.1" fill="#fff" transform="rotate(-126.7 523.4 1250.7)"/>
<path d="M513.2 1237.1 L474.8 1265.8 L495.1 1293 L533.6 1264.3Z" fill="#fff" stroke="none"/>
<path d="M513.2 1237.1 L474.8 1265.8"/>
<path d="M533.6 1264.3 L495.1 1293"/>
<ellipse cx="484.9" cy="1279.4" rx="17" ry="7.1" fill="#fff" transform="rotate(-126.7 484.9 1279.4)"/>
<ellipse cx="520.2" cy="1253.1" rx="20" ry="8.4" stroke-width="4" fill="#fff" transform="rotate(53.3 520.2 1253.1)"/>
<path d="M506.1 1238.8 L507.2 1237.9 L508.6 1237.5 L510.3 1237.6 L512.2 1238.1 L514.3 1239.1 L516.5 1240.5 L518.8 1242.2 L521.1 1244.3 L523.3 1246.7 L525.3 1249.3 L527.2 1252 L528.9 1254.7 L530.2 1257.5 L531.3 1260.2 L532 1262.7 L532.3 1265 L532.2 1267 L531.8 1268.6 L531 1269.9 L529.9 1270.7" stroke-width="2"/>
<ellipse cx="513.8" cy="1257.9" rx="20" ry="8.4" stroke-width="4" fill="#fff" transform="rotate(53.3 513.8 1257.9)"/>
<path d="M499.7 1243.5 L500.8 1242.7 L502.2 1242.3 L503.9 1242.4 L505.8 1242.9 L507.9 1243.9 L510.1 1245.2 L512.4 1247 L514.7 1249.1 L516.8 1251.5 L518.9 1254 L520.8 1256.8 L522.4 1259.5 L523.8 1262.3 L524.9 1265 L525.6 1267.5 L525.9 1269.8 L525.8 1271.8 L525.4 1273.4 L524.6 1274.6 L523.5 1275.5" stroke-width="2"/>
<ellipse cx="507.4" cy="1262.7" rx="20" ry="8.4" stroke-width="4" fill="#fff" transform="rotate(53.3 507.4 1262.7)"/>
<path d="M493.3 1248.3 L494.4 1247.5 L495.8 1247.1 L497.5 1247.1 L499.4 1247.7 L501.5 1248.6 L503.7 1250 L506 1251.8 L508.2 1253.9 L510.4 1256.2 L512.5 1258.8 L514.4 1261.5 L516 1264.3 L517.4 1267.1 L518.4 1269.8 L519.1 1272.3 L519.5 1274.6 L519.4 1276.5 L519 1278.2 L518.2 1279.4 L517.1 1280.3" stroke-width="2"/>
<ellipse cx="501" cy="1267.4" rx="20" ry="8.4" stroke-width="4" fill="#fff" transform="rotate(53.3 501 1267.4)"/>
<path d="M486.9 1253.1 L488 1252.3 L489.4 1251.9 L491.1 1251.9 L493 1252.5 L495.1 1253.4 L497.3 1254.8 L499.6 1256.6 L501.8 1258.7 L504 1261 L506.1 1263.6 L508 1266.3 L509.6 1269.1 L511 1271.9 L512 1274.5 L512.7 1277.1 L513.1 1279.3 L513 1281.3 L512.6 1283 L511.8 1284.2 L510.7 1285" stroke-width="2"/>
<ellipse cx="494.6" cy="1272.2" rx="20" ry="8.4" stroke-width="4" fill="#fff" transform="rotate(53.3 494.6 1272.2)"/>
<path d="M480.5 1257.9 L481.6 1257 L483 1256.7 L484.7 1256.7 L486.6 1257.2 L488.7 1258.2 L490.9 1259.6 L493.2 1261.4 L495.4 1263.4 L497.6 1265.8 L499.7 1268.4 L501.6 1271.1 L503.2 1273.9 L504.6 1276.6 L505.6 1279.3 L506.3 1281.8 L506.7 1284.1 L506.6 1286.1 L506.2 1287.8 L505.4 1289 L504.3 1289.8" stroke-width="2"/>
<ellipse cx="488.2" cy="1277" rx="20" ry="8.4" stroke-width="4" fill="#fff" transform="rotate(53.3 488.2 1277)"/>
<path d="M474 1262.7 L475.2 1261.8 L476.6 1261.4 L478.3 1261.5 L480.2 1262 L482.3 1263 L484.5 1264.4 L486.8 1266.1 L489 1268.2 L491.2 1270.6 L493.3 1273.2 L495.2 1275.9 L496.8 1278.7 L498.2 1281.4 L499.2 1284.1 L499.9 1286.6 L500.3 1288.9 L500.2 1290.9 L499.8 1292.5 L499 1293.8 L497.9 1294.6" stroke-width="2"/>
<ellipse cx="484.9" cy="1279.4" rx="14.5" ry="6.1" fill="#fff" transform="rotate(-126.7 484.9 1279.4)"/>
<path d="M476.3 1267.8 L463.3 1277.5 L480.6 1300.7 L493.6 1291Z" fill="#fff" stroke="none"/>
<path d="M476.3 1267.8 L463.3 1277.5"/>
<path d="M493.6 1291 L480.6 1300.7"/>
<ellipse cx="471.9" cy="1289.1" rx="14.5" ry="6.1" fill="#fff" transform="rotate(-126.7 471.9 1289.1)"/>
<ellipse cx="471.9" cy="1289.1" rx="20" ry="8.4" fill="#fff" transform="rotate(-126.7 471.9 1289.1)"/>
<path d="M460 1273.1 L454 1277.6 L477.9 1309.6 L483.9 1305.1Z" fill="#fff" stroke="none"/>
<path d="M460 1273.1 L454 1277.6"/>
<path d="M483.9 1305.1 L477.9 1309.6"/>
<ellipse cx="465.9" cy="1293.6" rx="20" ry="8.4" fill="#fff" transform="rotate(-126.7 465.9 1293.6)"/>
<ellipse cx="465.9" cy="1293.6" rx="15.5" ry="6.5" fill="#fff" transform="rotate(-126.7 465.9 1293.6)"/>
<path d="M456.7 1281.2 L448 1287.6 L466.6 1312.4 L475.2 1306Z" fill="#fff" stroke="none"/>
<path d="M456.7 1281.2 L448 1287.6"/>
<path d="M475.2 1306 L466.6 1312.4"/>
<ellipse cx="457.3" cy="1300" rx="15.5" ry="6.5" fill="#fff" transform="rotate(-126.7 457.3 1300)"/>
<ellipse cx="457.3" cy="1300" rx="20" ry="8.4" fill="#fff" transform="rotate(-126.7 457.3 1300)"/>
<path d="M445.3 1284 L412.3 1308.7 L436.2 1340.7 L469.3 1316.1Z" fill="#fff" stroke="none"/>
<path d="M445.3 1284 L412.3 1308.7"/>
<path d="M469.3 1316.1 L436.2 1340.7"/>
<ellipse cx="424.3" cy="1324.7" rx="20" ry="8.4" fill="#fff" transform="rotate(-126.7 424.3 1324.7)"/>
<path d="M437.9 1289.5 L439.2 1288.9 L440.8 1288.8 L442.6 1289.1 L444.6 1289.8 L446.8 1291 L449 1292.6 L451.3 1294.5 L453.5 1296.8 L455.6 1299.2 L457.6 1301.9 L459.4 1304.6 L460.9 1307.4 L462.1 1310.1 L463 1312.7 L463.5 1315.1 L463.6 1317.3 L463.4 1319.1 L462.8 1320.5 L461.9 1321.6" stroke-width="3.8"/>
<ellipse cx="424.3" cy="1324.7" rx="9" ry="6" stroke-width="3.2" transform="rotate(53.3 424.3 1324.7)"/>
<ellipse cx="424.3" cy="1324.7" rx="5" ry="3" stroke-width="1.9" transform="rotate(53.3 424.3 1324.7)"/>
<g transform="translate(0 0)"><ellipse cx="762" cy="1078.5" rx="31" ry="18.6" fill="#fff" transform="rotate(-125.8 762 1078.5)"/>
<path d="M743.8 1053.4 L734.8 1059.9 L771.2 1110.1 L780.2 1103.6Z" fill="#fff" stroke="none"/>
<path d="M743.8 1053.4 L734.8 1059.9"/>
<path d="M780.2 1103.6 L771.2 1110.1"/>
<ellipse cx="753" cy="1085" rx="31" ry="18.6" fill="#fff" transform="rotate(-125.8 753 1085)"/>
<ellipse cx="753" cy="1085" rx="23.8" ry="14.5" stroke-width="4.4" transform="rotate(53.3 753 1085)"/>
<path d="M741.8 1066.1 L743.7 1065.1 L745.9 1064.6 L748.4 1064.5 L751 1065.1 L753.8 1066.1 L756.5 1067.6 L759.3 1069.5 L761.9 1071.9 L764.3 1074.5 L766.5 1077.5 L768.3 1080.5 L769.8 1083.7 L770.9 1086.9 L771.6 1090 L771.8 1092.9 L771.5 1095.6 L770.8 1097.9 L769.7 1099.9 L768.2 1101.4" stroke-width="1.9"/>
<ellipse cx="790" cy="1058.8" rx="29" ry="17.5" fill="#fff" transform="rotate(53.3 790 1058.8)"/>
<ellipse cx="790" cy="1058.8" rx="22.5" ry="12" transform="rotate(53.3 790 1058.8)"/>
<path d="M738 1100 L753 1089.5"/>
<path d="M779.5 1065.5 L793.8 1055.5"/>
<path d="M808.8 1043.8 L823 1033"/></g>
<ellipse cx="341.2" cy="1280" rx="4.5" ry="1.9" fill="#fff" transform="rotate(-126.9 341.2 1280)"/>
<path d="M338.6 1276.4 L322.6 1288.4 L327.9 1295.6 L343.9 1283.6Z" fill="#fff" stroke="none"/>
<path d="M338.6 1276.4 L322.6 1288.4"/>
<path d="M343.9 1283.6 L327.9 1295.6"/>
<ellipse cx="325.2" cy="1292" rx="4.5" ry="1.9" fill="#fff" transform="rotate(-126.9 325.2 1292)"/>
<ellipse cx="322.2" cy="1294.2" rx="28.8" ry="12.1" fill="#fff" transform="rotate(-126.9 322.2 1294.2)"/>
<path d="M305 1271.2 L299 1275.8 L333.5 1321.8 L339.5 1317.2Z" fill="#fff" stroke="none"/>
<path d="M305 1271.2 L299 1275.8"/>
<path d="M339.5 1317.2 L333.5 1321.8"/>
<ellipse cx="316.2" cy="1298.8" rx="28.8" ry="12.1" fill="#fff" transform="rotate(-126.9 316.2 1298.8)"/>
<ellipse cx="316.2" cy="1298.8" rx="25" ry="10.5" fill="#fff" transform="rotate(-126.9 316.2 1298.8)"/>
<path d="M301.2 1278.8 L271.2 1301.2 L301.2 1341.2 L331.2 1318.8Z" fill="#fff" stroke="none"/>
<path d="M301.2 1278.8 L271.2 1301.2"/>
<path d="M331.2 1318.8 L301.2 1341.2"/>
<ellipse cx="286.2" cy="1321.2" rx="25" ry="10.5" fill="#fff" transform="rotate(-126.9 286.2 1321.2)"/>
<path d="M272.6 1300.2 L274.2 1299.4 L276.2 1299.2 L278.5 1299.6 L281 1300.5 L283.7 1302 L286.5 1304 L289.3 1306.4 L292.1 1309.2 L294.8 1312.3 L297.3 1315.6 L299.5 1319 L301.4 1322.5 L302.9 1325.9 L304 1329.1 L304.6 1332.1 L304.8 1334.8 L304.6 1337.1 L303.8 1338.9 L302.6 1340.2" stroke-width="4.4"/>
<ellipse cx="286.2" cy="1321.2" rx="26.5" ry="11.1" fill="#fff" transform="rotate(-126.9 286.2 1321.2)"/>
<path d="M270.4 1300 L213.3 1342.8 L245.2 1385.2 L302.1 1342.5Z" fill="#fff" stroke="none"/>
<path d="M270.4 1300 L213.3 1342.8"/>
<path d="M302.1 1342.5 L245.2 1385.2"/>
<ellipse cx="229.2" cy="1364" rx="26.5" ry="11.1" fill="#fff" transform="rotate(-126.9 229.2 1364)"/>
<ellipse cx="237.2" cy="1358" rx="33.8" ry="14.2" fill="#fff" transform="rotate(-126.9 237.2 1358)"/>
<path d="M217 1331 L169 1367 L209.5 1421 L257.5 1385Z" fill="#fff" stroke="none"/>
<path d="M217 1331 L169 1367"/>
<path d="M257.5 1385 L209.5 1421"/>
<ellipse cx="189.2" cy="1394" rx="33.8" ry="14.2" fill="#fff" transform="rotate(-126.9 189.2 1394)"/>
<path d="M222.6 1339.3 L175.4 1374.7" stroke-width="2"/>
<path d="M232.3 1352.3 L185.2 1387.7" stroke-width="2"/>
<path d="M245.8 1370.3 L198.7 1405.7" stroke-width="2"/>
<path d="M254.1 1381.3 L206.9 1416.7" stroke-width="2"/>
<ellipse cx="189.2" cy="1394" rx="33.8" ry="14.2" stroke-width="2.5" fill="#fff" transform="rotate(53.1 189.2 1394)"/>
<ellipse cx="188.2" cy="1394.8" rx="28" ry="11.8" stroke-width="5" transform="rotate(53.1 188.2 1394.8)"/>
<ellipse cx="187.2" cy="1395.5" rx="23.8" ry="10" stroke-width="2.5" transform="rotate(53.1 187.2 1395.5)"/>
<path d="M199 1413.2 L197.7 1413.9 L196 1414.1 L194.1 1413.7 L191.9 1413 L189.6 1411.7 L187.2 1410 L184.8 1408 L182.5 1405.6 L180.2 1403 L178.1 1400.2 L176.2 1397.3 L174.6 1394.3 L173.3 1391.4 L172.4 1388.7 L171.8 1386.1 L171.6 1383.8 L171.9 1381.9 L172.5 1380.4 L173.5 1379.2" stroke-width="2"/>
<path d="M216.6 1331.3 L223.2 1331" stroke-width="2"/>
<ellipse cx="169.2" cy="1409" rx="32.5" ry="13.7" fill="#fff" transform="rotate(-126.9 169.2 1409)"/>
<path d="M149.8 1383 L143 1388.1 L181.9 1440.1 L188.7 1435Z" fill="#fff" stroke="none"/>
<path d="M149.8 1383 L143 1388.1"/>
<path d="M188.7 1435 L181.9 1440.1"/>
<ellipse cx="162.4" cy="1414.1" rx="32.5" ry="13.7" stroke-width="2.5" fill="#fff" transform="rotate(-126.9 162.4 1414.1)"/>
<ellipse cx="164" cy="1412.9" rx="32.5" ry="13.7" stroke-width="3.8" transform="rotate(53.1 164 1412.9)"/>
<ellipse cx="398.2" cy="1344.8" rx="5.5" ry="2.3" fill="#fff" transform="rotate(-126.9 398.2 1344.8)"/>
<path d="M394.9 1340.3 L381.9 1350.1 L388.6 1358.9 L401.6 1349.2Z" fill="#fff" stroke="none"/>
<path d="M394.9 1340.3 L381.9 1350.1"/>
<path d="M401.6 1349.2 L388.6 1358.9"/>
<ellipse cx="385.2" cy="1354.5" rx="5.5" ry="2.3" fill="#fff" transform="rotate(-126.9 385.2 1354.5)"/>
<ellipse cx="382.2" cy="1356.8" rx="25" ry="10.5" fill="#fff" transform="rotate(-126.9 382.2 1356.8)"/>
<path d="M367.2 1336.8 L354 1342 L388.5 1388 L397.2 1376.8Z" fill="#fff" stroke="none"/>
<path d="M367.2 1336.8 L354 1342"/>
<path d="M397.2 1376.8 L388.5 1388"/>
<ellipse cx="371.2" cy="1365" rx="28.8" ry="12.1" fill="#fff" transform="rotate(-126.9 371.2 1365)"/>
<ellipse cx="371.2" cy="1365" rx="28.8" ry="12.1" fill="#fff" transform="rotate(-126.9 371.2 1365)"/>
<path d="M354 1342 L304 1379.5 L338.5 1425.5 L388.5 1388Z" fill="#fff" stroke="none"/>
<path d="M354 1342 L304 1379.5"/>
<path d="M388.5 1388 L338.5 1425.5"/>
<ellipse cx="321.2" cy="1402.5" rx="28.8" ry="12.1" fill="#fff" transform="rotate(-126.9 321.2 1402.5)"/>
<path d="M353 1342.8 L354.8 1341.9 L357.1 1341.6 L359.7 1342.1 L362.6 1343.1 L365.7 1344.8 L368.9 1347.1 L372.2 1349.9 L375.4 1353.1 L378.5 1356.6 L381.3 1360.4 L383.8 1364.4 L386 1368.4 L387.8 1372.3 L389 1376 L389.8 1379.5 L390 1382.5 L389.7 1385.2 L388.9 1387.2 L387.5 1388.8" stroke-width="2.5"/>
<ellipse cx="321.2" cy="1402.5" rx="23" ry="9.7" stroke-width="4.4" transform="rotate(53.1 321.2 1402.5)"/>
<ellipse cx="320.4" cy="1403.1" rx="18" ry="7.6" stroke-width="2.5" transform="rotate(53.1 320.4 1403.1)"/>
<path d="M312.4 1388 L310.3 1384.2" stroke-width="2"/>
<path d="M316.1 1389.2 L315 1385.7" stroke-width="2"/>
<path d="M320.3 1392 L320.2 1389.2" stroke-width="2"/>
<path d="M324.5 1396.1 L325.6 1394.4" stroke-width="2"/>
<path d="M328.3 1401.1 L330.2 1400.6" stroke-width="2"/>
<path d="M331.1 1406.4 L333.7 1407.2" stroke-width="2"/>
<path d="M332.6 1411.2 L335.7 1413.2" stroke-width="2"/>
<path d="M332.7 1415.1 L335.7 1418.1" stroke-width="2"/>
<ellipse cx="276.2" cy="1437.5" rx="20.5" ry="8.6" fill="#fff" transform="rotate(-126.9 276.2 1437.5)"/>
<path d="M263.9 1421.1 L258.3 1425.3 L283 1458.1 L288.6 1453.9Z" fill="#fff" stroke="none"/>
<path d="M263.9 1421.1 L258.3 1425.3"/>
<path d="M288.6 1453.9 L283 1458.1"/>
<ellipse cx="270.6" cy="1441.7" rx="20.5" ry="8.6" stroke-width="4.4" fill="#fff" transform="rotate(-126.9 270.6 1441.7)"/>
<ellipse cx="270.6" cy="1441.7" rx="23" ry="9.7" fill="#fff" transform="rotate(-126.9 270.6 1441.7)"/>
<path d="M256.9 1423.3 L252.5 1426.6 L280 1463.4 L284.4 1460.1Z" fill="#fff" stroke="none"/>
<path d="M256.9 1423.3 L252.5 1426.6"/>
<path d="M284.4 1460.1 L280 1463.4"/>
<ellipse cx="266.2" cy="1445" rx="23" ry="9.7" fill="#fff" transform="rotate(-126.9 266.2 1445)"/>
<ellipse cx="471.2" cy="914.5" rx="14" ry="6.3" stroke-width="3.8" fill="#fff" transform="rotate(-101.3 471.2 914.5)"/>
<path d="M468.5 900.8 L457.3 903 L462.7 930.5 L474 928.2Z" fill="#fff" stroke="none"/>
<path d="M468.5 900.8 L457.3 903" stroke-width="3.8"/>
<path d="M474 928.2 L462.7 930.5" stroke-width="3.8"/>
<ellipse cx="460" cy="916.8" rx="14" ry="6.3" stroke-width="3.8" fill="#fff" transform="rotate(-101.3 460 916.8)"/>
<ellipse cx="460" cy="916.8" rx="19" ry="9.5" fill="#fff" transform="rotate(-101.3 460 916.8)"/>
<path d="M456.3 898.1 L431.3 903.1 L438.7 940.4 L463.7 935.4Z" fill="#fff" stroke="none"/>
<path d="M456.3 898.1 L431.3 903.1"/>
<path d="M463.7 935.4 L438.7 940.4"/>
<ellipse cx="435" cy="921.8" rx="19" ry="9.5" fill="#fff" transform="rotate(-101.3 435 921.8)"/>
<path d="M457 899.3 L458.5 899.8 L459.9 900.8 L461.1 902.3 L462.1 904.2 L462.9 906.5 L463.4 909.1 L463.6 912 L463.6 915 L463.3 918.1 L462.8 921.2 L462 924.2 L461 927 L459.8 929.6 L458.4 931.9 L456.9 933.8 L455.3 935.2 L453.7 936.2 L452 936.7 L450.5 936.7" stroke-width="3.1"/>
<path d="M450.8 900.5 L452.3 901.1 L453.7 902.1 L454.9 903.6 L455.8 905.5 L456.6 907.8 L457.1 910.4 L457.4 913.2 L457.4 916.3 L457.1 919.3 L456.6 922.4 L455.8 925.4 L454.7 928.3 L453.5 930.9 L452.1 933.1 L450.6 935 L449.1 936.5 L447.4 937.5 L445.8 938 L444.2 938" stroke-width="3.1"/>
<path d="M444.5 901.8 L446 902.3 L447.4 903.3 L448.6 904.8 L449.6 906.7 L450.4 909 L450.9 911.6 L451.1 914.5 L451.1 917.5 L450.8 920.6 L450.3 923.7 L449.5 926.7 L448.5 929.5 L447.3 932.1 L445.9 934.4 L444.4 936.3 L442.8 937.7 L441.2 938.7 L439.5 939.2 L438 939.2" stroke-width="3.1"/>
<ellipse cx="435" cy="921.8" rx="27" ry="21.6" stroke-width="3.1" fill="#fff" transform="rotate(-100.6 435 921.8)"/>
<path d="M430 895.2 L422 896.7 L432 949.8 L440 948.3Z" fill="#fff" stroke="none"/>
<path d="M430 895.2 L422 896.7" stroke-width="3.1"/>
<path d="M440 948.3 L432 949.8" stroke-width="3.1"/>
<ellipse cx="427" cy="923.2" rx="27" ry="21.6" stroke-width="3.1" fill="#fff" transform="rotate(-100.6 427 923.2)"/>
<ellipse cx="427" cy="923.2" rx="29" ry="23.2" fill="#fff" transform="rotate(-104 427 923.2)"/>
<path d="M420 895.1 L413 896.9 L427 953.1 L434 951.4Z" fill="#fff" stroke="none"/>
<path d="M420 895.1 L413 896.9"/>
<path d="M434 951.4 L427 953.1"/>
<ellipse cx="420" cy="925" rx="29" ry="23.2" stroke-width="3.2" fill="#fff" transform="rotate(-104 420 925)"/>
<ellipse cx="419.5" cy="925.2" rx="20.5" ry="25" stroke-width="2" transform="rotate(8 419.5 925.2)"/>
<path d="M424.5 928.9 L418.4 935.3 L410.9 931.9 L409.5 922.1 L415.6 915.7 L423.1 919.1Z" stroke-width="3"/>
<path d="M420.4 936.3 L412.9 932.9 L411.5 923.1" stroke-width="1.9"/>
<path d="M473.8 915 L631.2 891.2"/>
<path d="M631.2 891.2 L711.2 876.2"/>
<ellipse cx="1536.2" cy="499.5" rx="5" ry="2.5" fill="#fff" transform="rotate(-123.8 1536.2 499.5)"/>
<path d="M1533.5 495.3 L1483.5 528.8 L1489 537.2 L1539 503.7Z" fill="#fff" stroke="none"/>
<path d="M1533.5 495.3 L1483.5 528.8"/>
<path d="M1539 503.7 L1489 537.2"/>
<ellipse cx="1486.2" cy="533" rx="5" ry="2.5" fill="#fff" transform="rotate(-123.8 1486.2 533)"/>
<ellipse cx="1490" cy="532.5" rx="4.5" ry="6.5" fill="#fff" transform="rotate(-30 1490 532.5)"/>
<ellipse cx="1547.5" cy="491.8" rx="13" ry="7.8" fill="#fff" transform="rotate(-122.5 1547.5 491.8)"/>
<path d="M1540.5 480.8 L1526.8 489.5 L1540.7 511.5 L1554.5 502.7Z" fill="#fff" stroke="none"/>
<path d="M1540.5 480.8 L1526.8 489.5"/>
<path d="M1554.5 502.7 L1540.7 511.5"/>
<ellipse cx="1533.8" cy="500.5" rx="13" ry="7.8" fill="#fff" transform="rotate(-122.5 1533.8 500.5)"/>
<ellipse cx="1547.5" cy="491.8" rx="12.5" ry="10.5" fill="#fff" transform="rotate(-30 1547.5 491.8)"/>
<ellipse cx="1548.2" cy="491.2" rx="9.5" ry="7.5" transform="rotate(-30 1548.2 491.2)"/>
<path d="M1500 515 L1505 505 L1520 501.2"/>
<path d="M1510 527.5 L1525 523.8 L1526.2 520"/>
<path d="M1356.2 560 L1395 531.2 L1480 530 L1493.8 543.8 L1498.8 555 L1497.5 587.5 L1426.2 655 L1412.5 663.8 L1365 637.5 L1357.5 630Z" fill="#fff" stroke="none"/>
<path d="M1356.2 561.2C1356.3 564.7 1357.1 626.2 1357.5 630C1357.9 633.8 1364.6 637.6 1365 638"/>
<path d="M1365 638 L1412.5 663.8 L1426.2 655"/>
<path d="M1356.2 560.5 L1395 531.2"/>
<path d="M1356.2 560.5 L1413.8 600 L1425 605 L1426.2 655"/>
<path d="M1413.8 600 L1492.5 545"/>
<path d="M1425 605 L1497.5 555"/>
<path d="M1493.8 543.8 L1498.8 555 L1497.5 587.5 L1426.2 655"/>
<path d="M1361.2 566.2 L1411.2 603 L1422.5 608.8 L1422.5 653.8" stroke-width="2"/>
<path d="M1395 531.2 L1403.8 527.5"/>
<path d="M1480 530 L1493.8 543.8"/>
<path d="M1366.2 571.2C1366.2 574.6 1365.2 600.1 1365.5 605C1365.8 609.9 1368.4 618.5 1368.8 620"/>
<path d="M1366.2 571.2 L1380 577.5 L1397.5 592.5"/>
<path d="M1380 580C1379.8 582.7 1377.8 596.2 1378.8 600C1379.8 603.8 1385.8 606.8 1387.5 608.8C1389.2 610.8 1390.8 614.2 1391.2 615"/>
<path d="M1391.2 615 L1377.5 617.5"/>
<path d="M1382.5 580C1382.7 582.3 1382.4 594 1383.8 597.5C1385.1 601 1391.3 605.1 1392.5 606.2"/>
<path d="M1368.8 620C1370.9 621.2 1385.6 629 1390 632.5C1394.4 636 1410.2 652.8 1412.5 655"/>
<path d="M1403.8 605C1404.2 607.5 1408.1 625.2 1408.8 630C1409.4 634.8 1409.9 650.2 1410 652.5"/>
<ellipse cx="1402.5" cy="596.2" rx="7.5" ry="9" stroke-width="4.4"/>
<ellipse cx="1368.8" cy="627.5" rx="7.5" ry="8.5" stroke-width="4.4"/>
<path d="M1365 623.8 L1372.5 631.2" stroke-width="3.1"/>
<path d="M1373.8 621.2 L1383.8 615"/>
<path d="M1426.2 600 L1467.5 587.5 L1470 615 L1430 645"/>
<path d="M1430 606.2 L1463.8 595 L1465.5 612.5 L1431.2 637.5" stroke-width="2"/>
<path d="M1431.2 618.8 L1465 597.5" stroke-width="2"/>
<path d="M1486.2 556.2 L1490 553.8 L1490.5 558.8 L1487 560.5 L1486.2 556.2" stroke-width="2"/>
<g transform="translate(685 34.4)"><path d="M726.3 442.3 L784.3 442.3 L793.4 480.7 L794.6 516.6 L755.1 533.4 L713.1 516.6 L713.1 480.7Z" fill="#fff" stroke="none"/>
<ellipse cx="753.9" cy="517.8" rx="40.7" ry="16.3" fill="#fff"/>
<ellipse cx="754.1" cy="509.4" rx="40.3" ry="16.1" fill="#fff"/>
<ellipse cx="754.4" cy="499.8" rx="39.5" ry="15.8" fill="#fff"/>
<ellipse cx="754.7" cy="490.3" rx="38.4" ry="15.3" fill="#fff"/>
<ellipse cx="755" cy="480.7" rx="36.4" ry="14.6" fill="#fff"/>
<ellipse cx="755.3" cy="471.1" rx="34" ry="13.6" fill="#fff"/>
<ellipse cx="755.5" cy="462.7" rx="31.6" ry="12.7" fill="#fff"/>
<ellipse cx="755.8" cy="455.5" rx="29.7" ry="11.9" fill="#fff"/>
<ellipse cx="755.9" cy="449.5" rx="28.3" ry="11.3" fill="#fff"/>
<ellipse cx="756.8" cy="442.8" rx="28.3" ry="12" stroke-width="3.8" fill="#fff"/>
<path d="M729.9 395.6 L784.3 395.6 L784.3 436.3 L729.9 436.3Z" fill="#fff" stroke="none"/>
<ellipse cx="757" cy="435.6" rx="27.1" ry="14.9" fill="#fff"/>
<path d="M730.2 395.6 L784.1 395.6 L784.1 435.6 L730.2 435.6Z" fill="#fff" stroke="none"/>
<path d="M729.9 395.6 L729.9 436.3"/>
<path d="M784.3 395.6 L784.3 436.3"/>
<ellipse cx="757.5" cy="395.6" rx="27.1" ry="16.3" fill="#fff"/>
<ellipse cx="757.5" cy="394.9" rx="14.9" ry="9.6"/>
<ellipse cx="757.5" cy="395.3" rx="9.6" ry="6.2"/>
<ellipse cx="738.8" cy="426.7" rx="9.1" ry="12" stroke-width="4" transform="rotate(-10 738.8 426.7)"/>
<path d="M741.6 419.4 L742.5 419.4 L743.4 419.6 L744.3 420 L745.1 420.7 L745.9 421.5 L746.6 422.5 L747.3 423.7 L747.8 425 L748.1 426.3 L748.4 427.7 L748.5 429.1 L748.5 430.5 L748.3 431.8 L747.9 433 L747.5 434.1 L746.9 435 L746.2 435.7 L745.4 436.2 L744.6 436.4"/></g>
<path d="M1460 497.5C1460.2 500.5 1460.6 514 1461.2 520C1461.9 526 1464.5 539.5 1465 542.5" stroke-width="3.8"/>
<ellipse cx="1408.8" cy="682" rx="15.7" ry="7" fill="#fff" transform="rotate(-125.6 1408.8 682)"/>
<path d="M1399.6 669.3 L1364.7 694.3 L1382.9 719.8 L1417.9 694.7Z" fill="#fff" stroke="none"/>
<path d="M1399.6 669.3 L1364.7 694.3"/>
<path d="M1417.9 694.7 L1382.9 719.8"/>
<ellipse cx="1373.8" cy="707" rx="15.7" ry="7" fill="#fff" transform="rotate(-125.6 1373.8 707)"/>
<ellipse cx="1373.8" cy="707" rx="32.6" ry="14.7" fill="#fff" transform="rotate(-125.6 1373.8 707)"/>
<path d="M1354.8 680.5 L1333.1 696.1 L1371 749.1 L1392.8 733.6Z" fill="#fff" stroke="none"/>
<path d="M1354.8 680.5 L1333.1 696.1"/>
<path d="M1392.8 733.6 L1371 749.1"/>
<ellipse cx="1352" cy="722.6" rx="32.6" ry="14.7" fill="#fff" transform="rotate(-125.6 1352 722.6)"/>
<ellipse cx="1352" cy="722.6" rx="35.9" ry="16.1" fill="#fff" transform="rotate(-125.6 1352 722.6)"/>
<path d="M1331.2 693.4 L1325.5 697.5 L1367.3 755.8 L1372.9 751.8Z" fill="#fff" stroke="none"/>
<path d="M1331.2 693.4 L1325.5 697.5"/>
<path d="M1372.9 751.8 L1367.3 755.8"/>
<ellipse cx="1346.4" cy="726.7" rx="35.9" ry="16.1" fill="#fff" transform="rotate(-125.6 1346.4 726.7)"/>
<ellipse cx="1346.4" cy="726.7" rx="32.6" ry="14.7" fill="#fff" transform="rotate(-125.6 1346.4 726.7)"/>
<path d="M1327.4 700.1 L1310.4 712.3 L1348.4 765.4 L1365.4 753.2Z" fill="#fff" stroke="none"/>
<path d="M1327.4 700.1 L1310.4 712.3"/>
<path d="M1365.4 753.2 L1348.4 765.4"/>
<ellipse cx="1329.4" cy="738.8" rx="32.6" ry="14.7" fill="#fff" transform="rotate(-125.6 1329.4 738.8)"/>
<ellipse cx="1329.4" cy="738.8" rx="27.8" ry="12.5" fill="#fff" transform="rotate(-125.6 1329.4 738.8)"/>
<path d="M1313.2 716.2 L1306.5 720.9 L1339 766.2 L1345.6 761.5Z" fill="#fff" stroke="none"/>
<path d="M1313.2 716.2 L1306.5 720.9"/>
<path d="M1345.6 761.5 L1339 766.2"/>
<ellipse cx="1322.7" cy="743.6" rx="27.8" ry="12.5" fill="#fff" transform="rotate(-125.6 1322.7 743.6)"/>
<ellipse cx="1322.7" cy="743.6" rx="29.4" ry="13.2" fill="#fff" transform="rotate(-125.6 1322.7 743.6)"/>
<path d="M1305.7 719.7 L1293.4 728.5 L1327.5 776.2 L1339.8 767.4Z" fill="#fff" stroke="none"/>
<path d="M1305.7 719.7 L1293.4 728.5"/>
<path d="M1339.8 767.4 L1327.5 776.2"/>
<ellipse cx="1310.5" cy="752.4" rx="29.4" ry="13.2" stroke-width="3.8" fill="#fff" transform="rotate(-125.6 1310.5 752.4)"/>
<ellipse cx="1310.5" cy="752.4" rx="22.8" ry="10.3" fill="#fff" transform="rotate(-125.6 1310.5 752.4)"/>
<path d="M1297.2 733.8 L1274.5 750 L1301.1 787.2 L1323.8 770.9Z" fill="#fff" stroke="none"/>
<path d="M1297.2 733.8 L1274.5 750"/>
<path d="M1323.8 770.9 L1301.1 787.2"/>
<ellipse cx="1287.8" cy="768.6" rx="22.8" ry="10.3" fill="#fff" transform="rotate(-125.6 1287.8 768.6)"/>
<ellipse cx="1287.8" cy="768.6" rx="25.7" ry="11.5" fill="#fff" transform="rotate(-125.6 1287.8 768.6)"/>
<path d="M1272.8 747.7 L1268.1 751.1 L1298 792.9 L1302.7 789.5Z" fill="#fff" stroke="none"/>
<path d="M1272.8 747.7 L1268.1 751.1"/>
<path d="M1302.7 789.5 L1298 792.9"/>
<ellipse cx="1283.1" cy="772" rx="25.7" ry="11.5" stroke-width="3.8" fill="#fff" transform="rotate(-125.6 1283.1 772)"/>
<ellipse cx="1283.1" cy="772" rx="20.7" ry="9.3" fill="#fff" transform="rotate(-125.6 1283.1 772)"/>
<path d="M1271 755.2 L1260.6 762.6 L1284.7 796.2 L1295.1 788.8Z" fill="#fff" stroke="none"/>
<path d="M1271 755.2 L1260.6 762.6"/>
<path d="M1295.1 788.8 L1284.7 796.2"/>
<ellipse cx="1272.7" cy="779.4" rx="20.7" ry="9.3" fill="#fff" transform="rotate(-125.6 1272.7 779.4)"/>
<ellipse cx="1272.7" cy="779.4" rx="23.9" ry="10.8" fill="#fff" transform="rotate(-125.6 1272.7 779.4)"/>
<path d="M1258.7 760 L1254 763.4 L1281.9 802.3 L1286.6 798.9Z" fill="#fff" stroke="none"/>
<path d="M1258.7 760 L1254 763.4"/>
<path d="M1286.6 798.9 L1281.9 802.3"/>
<ellipse cx="1267.9" cy="782.8" rx="23.9" ry="10.8" stroke-width="3.8" fill="#fff" transform="rotate(-125.6 1267.9 782.8)"/>
<ellipse cx="1267.9" cy="782.8" rx="19.6" ry="8.8" fill="#fff" transform="rotate(-125.6 1267.9 782.8)"/>
<path d="M1256.5 766.9 L1246.1 774.3 L1268.9 806.2 L1279.3 798.7Z" fill="#fff" stroke="none"/>
<path d="M1256.5 766.9 L1246.1 774.3"/>
<path d="M1279.3 798.7 L1268.9 806.2"/>
<ellipse cx="1257.5" cy="790.3" rx="19.6" ry="8.8" fill="#fff" transform="rotate(-125.6 1257.5 790.3)"/>
<ellipse cx="1257.5" cy="790.3" rx="21.8" ry="9.8" fill="#fff" transform="rotate(-125.6 1257.5 790.3)"/>
<path d="M1244.9 772.6 L1239.2 776.6 L1264.5 812 L1270.2 807.9Z" fill="#fff" stroke="none"/>
<path d="M1244.9 772.6 L1239.2 776.6"/>
<path d="M1270.2 807.9 L1264.5 812"/>
<ellipse cx="1251.9" cy="794.3" rx="21.8" ry="9.8" stroke-width="3.8" fill="#fff" transform="rotate(-125.6 1251.9 794.3)"/>
<ellipse cx="1251.9" cy="794.3" rx="15.2" ry="6.9" fill="#fff" transform="rotate(-125.6 1251.9 794.3)"/>
<path d="M1243 781.9 L1229.8 791.4 L1247.5 816.2 L1260.7 806.7Z" fill="#fff" stroke="none"/>
<path d="M1243 781.9 L1229.8 791.4"/>
<path d="M1260.7 806.7 L1247.5 816.2"/>
<ellipse cx="1238.6" cy="803.8" rx="15.2" ry="6.9" fill="#fff" transform="rotate(-125.6 1238.6 803.8)"/>
<ellipse cx="1238.6" cy="803.8" rx="18.5" ry="8.3" fill="#fff" transform="rotate(-125.6 1238.6 803.8)"/>
<path d="M1227.9 788.8 L1223.1 792.1 L1244.7 822.2 L1249.4 818.8Z" fill="#fff" stroke="none"/>
<path d="M1227.9 788.8 L1223.1 792.1"/>
<path d="M1249.4 818.8 L1244.7 822.2"/>
<ellipse cx="1233.9" cy="807.2" rx="18.5" ry="8.3" stroke-width="3.8" fill="#fff" transform="rotate(-125.6 1233.9 807.2)"/>
<ellipse cx="1233.9" cy="807.2" rx="13.5" ry="6.1" fill="#fff" transform="rotate(-125.6 1233.9 807.2)"/>
<path d="M1226.1 796.2 L1214.7 804.3 L1230.4 826.3 L1241.8 818.1Z" fill="#fff" stroke="none"/>
<path d="M1226.1 796.2 L1214.7 804.3"/>
<path d="M1241.8 818.1 L1230.4 826.3"/>
<ellipse cx="1222.6" cy="815.3" rx="13.5" ry="6.1" fill="#fff" transform="rotate(-125.6 1222.6 815.3)"/>
<path d="M1404.9 678.6 L1371.8 702.3" stroke-width="2"/>
<path d="M1367 699.6 L1346.6 714.2" stroke-width="2"/>
<path d="M1384.5 724 L1364.1 738.6" stroke-width="2"/>
<ellipse cx="1175" cy="658" rx="31.2" ry="21" fill="#fff" transform="rotate(58 1175 658)"/>
<ellipse cx="1171.2" cy="662" rx="30.5" ry="20.5" fill="#fff" transform="rotate(58 1171.2 662)"/>
<ellipse cx="1167.5" cy="667" rx="28" ry="18.8" stroke-width="4.4" fill="#fff" transform="rotate(58 1167.5 667)"/>
<ellipse cx="1163.8" cy="670.5" rx="28" ry="18.8" stroke-width="4.4" fill="#fff" transform="rotate(58 1163.8 670.5)"/>
<ellipse cx="1158" cy="675.8" rx="28" ry="18.5" fill="#fff" transform="rotate(58 1158 675.8)"/>
<ellipse cx="1158" cy="675.8" rx="25" ry="16" transform="rotate(58 1158 675.8)"/>
<ellipse cx="1158.8" cy="675.5" rx="21" ry="13" transform="rotate(58 1158.8 675.5)"/>
<path d="M1175.4 676.7 L1175.8 679.6 L1175.9 682.4 L1175.6 684.9 L1174.9 687.1 L1173.8 688.9 L1172.4 690.3 L1170.7 691.3 L1168.7 691.8 L1166.5 691.8 L1164.2 691.3 L1161.8 690.3 L1159.3 688.9 L1157 687.1 L1154.7 684.9 L1152.6 682.4 L1150.8 679.6 L1149.2 676.7 L1148 673.8 L1147.1 670.8" stroke-width="1.9"/>
<ellipse cx="1247.5" cy="715" rx="33" ry="19" stroke-width="6.9" fill="#fff" transform="rotate(50 1247.5 715)"/>
<ellipse cx="1247" cy="715.5" rx="27" ry="14.5" stroke-width="3.1" transform="rotate(50 1247 715.5)"/>
<ellipse cx="1246.2" cy="716.2" rx="23.8" ry="12" stroke-width="2" transform="rotate(50 1246.2 716.2)"/>
<ellipse cx="1200.5" cy="750.5" rx="26.5" ry="16" fill="#fff" transform="rotate(55 1200.5 750.5)"/>
<ellipse cx="1200.5" cy="750.5" rx="20.5" ry="11" transform="rotate(55 1200.5 750.5)"/>
<path d="M1102.5 712.5 L1123.8 698.8"/>
<path d="M1133.8 691.2 L1153.8 676.2"/>
<path d="M1196.2 643.8 L1216.2 628.8"/>
<path d="M1270 697.5 L1292.5 682.5"/>
<path d="M1300 676.2 L1320 661.2"/>
<path d="M1328.8 655 L1350 638.8"/>
<path d="M1226.2 730 L1247.5 715"/>
<path d="M1180 765 L1201.2 750"/>
<path d="M1208.8 743.8 L1216.2 738.8"/>
<path d="M1150 786.2 L1171.2 771.2"/>
<path d="M1118.8 807.5 L1140 793.8"/>
<path d="M1090 827.5 L1110 813.8"/>
<path d="M1062.5 740 L1083.8 725"/>
<path d="M1570 1091.2 L1680 1028"/>
<path d="M1720 1006.2 L1755 986.2"/>
<path d="M1598.8 1161.2 L1685 1113" stroke-width="4"/>
<path d="M1685 1113 L1685 1125"/>
<path d="M1655 1131.2 L1675 1155 L1676.2 1195 L1662.5 1203.8 L1630 1190"/>
<path d="M1527.5 1207.5 L1598.8 1161.2"/>
<ellipse cx="1578.8" cy="1098.8" rx="8" ry="4"/>
<ellipse cx="1578.8" cy="1099.5" rx="5" ry="2.2"/>
<ellipse cx="1653.8" cy="1055" rx="8" ry="4"/>
<ellipse cx="1653.8" cy="1055.8" rx="5" ry="2.2"/>
<ellipse cx="1668.8" cy="1106.2" rx="8" ry="4"/>
<ellipse cx="1668.8" cy="1107" rx="5" ry="2.2"/>
<ellipse cx="1730" cy="1011.2" rx="8" ry="4"/>
<ellipse cx="1730" cy="1012" rx="5" ry="2.2"/>
<ellipse cx="1595" cy="1151.2" rx="8" ry="4"/>
<ellipse cx="1595" cy="1152" rx="5" ry="2.2"/>
<path d="M1892 837.4 L1893.8 904.7"/>
<path d="M1935 843 L1936.8 886"/>
<path d="M1920 854.2 L1920.9 897.2" stroke-width="2"/>
<path d="M1892 837.4C1893.2 836.1 1895.7 831.5 1899.4 829.9C1903.2 828.3 1909.1 827.6 1914.4 828C1919.7 828.5 1927.8 830.2 1931.2 832.7C1934.6 835.2 1934.3 841.3 1935 843"/>
<path d="M1892 837.4C1893.8 839.3 1898.5 845.8 1903.2 848.6C1907.9 851.4 1914.7 855.1 1920 854.2C1925.3 853.3 1932.5 844.9 1935 843"/>
<path d="M1910.7 897.2C1913.1 898.4 1920 904.7 1925.6 904.7C1931.2 904.7 1939.9 900.6 1944.3 897.2C1948.7 893.8 1950.5 886.3 1951.8 884.1"/>
<path d="M1936.8 882.2C1938.4 882.6 1943.8 882.2 1946.2 884.1C1948.5 886 1949.8 888.2 1950.8 893.5C1951.9 898.8 1952.4 912.1 1952.7 915.9"/>
<path d="M1952.7 906.5 L2004.1 934.6 L2006.9 1018.7 L1968.6 1041.1"/>
<path d="M2004.1 934.6 L1981.7 945.8"/>
<path d="M2006.9 1018.7 L2022.8 1029.9 L2031.2 1074.8"/>
<path d="M1968.6 1041.1 L2020.9 1031.8"/>
<path d="M1976.1 1057.9 L2019.1 1039.3"/>
<ellipse cx="2008.8" cy="1046.7" rx="5.6" ry="7.1" stroke-width="6.2"/>
<path d="M1933.1 986.9 L1935 1020.6 L1963 1037.4" stroke-width="3.8"/>
<path d="M1940.6 988.8 L1942.4 1018.7" stroke-width="3.8"/>
<path d="M1987.3 998.1 L1988.2 1027.1" stroke-width="3.8"/>
<path d="M1850.8 1018.7 L1906.9 985" stroke-width="4.4"/>
<path d="M1886.4 1007.5C1888.5 1006.9 1894.8 1004.2 1899.4 1003.7C1904.1 1003.3 1910 1003.4 1914.4 1004.7C1918.8 1005.9 1923.7 1010.1 1925.6 1011.2"/>
<path d="M1925.6 1011.2 L1963 1033.6"/>
<path d="M1878.9 1004.7 L1900.4 1029.9 L1902.2 1061.7 L1888.2 1071 L1852.7 1063.6"/>
<g transform="translate(226.8 -131.1)"><ellipse cx="1550" cy="1150" rx="35" ry="18" stroke-width="3.2" fill="#fff"/>
<ellipse cx="1550" cy="1147.5" rx="28.8" ry="14.5"/>
<ellipse cx="1550" cy="1146.2" rx="23.8" ry="12" stroke-width="3.8"/>
<path d="M1530 1072.5 L1570.5 1072.5 L1570.5 1147.5 L1530 1147.5Z" fill="#fff" stroke="none"/>
<ellipse cx="1550" cy="1147.5" rx="20.2" ry="9.5" fill="#fff"/>
<path d="M1530 1072.5 L1570.5 1072.5 L1570.5 1147.5 L1530 1147.5Z" fill="#fff" stroke="none"/>
<path d="M1530 1072.5 L1530 1147.5"/>
<path d="M1570.5 1072.5 L1570.5 1147.5"/>
<path d="M1570.2 1127.5 L1570 1129 L1569.2 1130.4 L1567.8 1131.8 L1566 1133 L1563.7 1134.1 L1561.1 1135 L1558.1 1135.7 L1555 1136.2 L1551.7 1136.5 L1548.3 1136.5 L1545 1136.2 L1541.9 1135.7 L1538.9 1135 L1536.3 1134.1 L1534 1133 L1532.2 1131.8 L1530.8 1130.4 L1530 1129 L1529.8 1127.5"/>
<path d="M1569 1125.6 L1567.7 1126.9 L1565.8 1128.1 L1563.5 1129.2 L1560.9 1130.1 L1558 1130.8 L1554.9 1131.2 L1551.6 1131.5 L1548.4 1131.5 L1545.1 1131.2 L1542 1130.8 L1539.1 1130.1 L1536.5 1129.2 L1534.2 1128.1 L1532.3 1126.9 L1531 1125.6" stroke-width="2"/>
<ellipse cx="1550" cy="1072.5" rx="20.2" ry="10" fill="#fff"/>
<ellipse cx="1548" cy="1070.5" rx="13" ry="6"/>
<path d="M1552 1082 L1552.5 1125.5"/>
<path d="M1552 1082C1553.8 1081.7 1559.4 1081.2 1562.5 1080C1565.6 1078.8 1569.2 1075.8 1570.5 1075"/>
<ellipse cx="1561.2" cy="1098.8" rx="8.5" ry="14" stroke-width="3.2" transform="rotate(12 1561.2 1098.8)"/></g>
<g transform="translate(151.2 -87.4)"><ellipse cx="1550" cy="1150" rx="35" ry="18" stroke-width="3.2" fill="#fff"/>
<ellipse cx="1550" cy="1147.5" rx="28.8" ry="14.5"/>
<ellipse cx="1550" cy="1146.2" rx="23.8" ry="12" stroke-width="3.8"/>
<path d="M1530 1072.5 L1570.5 1072.5 L1570.5 1147.5 L1530 1147.5Z" fill="#fff" stroke="none"/>
<ellipse cx="1550" cy="1147.5" rx="20.2" ry="9.5" fill="#fff"/>
<path d="M1530 1072.5 L1570.5 1072.5 L1570.5 1147.5 L1530 1147.5Z" fill="#fff" stroke="none"/>
<path d="M1530 1072.5 L1530 1147.5"/>
<path d="M1570.5 1072.5 L1570.5 1147.5"/>
<path d="M1570.2 1127.5 L1570 1129 L1569.2 1130.4 L1567.8 1131.8 L1566 1133 L1563.7 1134.1 L1561.1 1135 L1558.1 1135.7 L1555 1136.2 L1551.7 1136.5 L1548.3 1136.5 L1545 1136.2 L1541.9 1135.7 L1538.9 1135 L1536.3 1134.1 L1534 1133 L1532.2 1131.8 L1530.8 1130.4 L1530 1129 L1529.8 1127.5"/>
<path d="M1569 1125.6 L1567.7 1126.9 L1565.8 1128.1 L1563.5 1129.2 L1560.9 1130.1 L1558 1130.8 L1554.9 1131.2 L1551.6 1131.5 L1548.4 1131.5 L1545.1 1131.2 L1542 1130.8 L1539.1 1130.1 L1536.5 1129.2 L1534.2 1128.1 L1532.3 1126.9 L1531 1125.6" stroke-width="2"/>
<ellipse cx="1550" cy="1072.5" rx="20.2" ry="10" fill="#fff"/>
<ellipse cx="1548" cy="1070.5" rx="13" ry="6"/>
<path d="M1552 1082 L1552.5 1125.5"/>
<path d="M1552 1082C1553.8 1081.7 1559.4 1081.2 1562.5 1080C1565.6 1078.8 1569.2 1075.8 1570.5 1075"/>
<ellipse cx="1561.2" cy="1098.8" rx="8.5" ry="14" stroke-width="3.2" transform="rotate(12 1561.2 1098.8)"/></g>
<g transform="translate(75.6 -43.7)"><ellipse cx="1550" cy="1150" rx="35" ry="18" stroke-width="3.2" fill="#fff"/>
<ellipse cx="1550" cy="1147.5" rx="28.8" ry="14.5"/>
<ellipse cx="1550" cy="1146.2" rx="23.8" ry="12" stroke-width="3.8"/>
<path d="M1530 1072.5 L1570.5 1072.5 L1570.5 1147.5 L1530 1147.5Z" fill="#fff" stroke="none"/>
<ellipse cx="1550" cy="1147.5" rx="20.2" ry="9.5" fill="#fff"/>
<path d="M1530 1072.5 L1570.5 1072.5 L1570.5 1147.5 L1530 1147.5Z" fill="#fff" stroke="none"/>
<path d="M1530 1072.5 L1530 1147.5"/>
<path d="M1570.5 1072.5 L1570.5 1147.5"/>
<path d="M1570.2 1127.5 L1570 1129 L1569.2 1130.4 L1567.8 1131.8 L1566 1133 L1563.7 1134.1 L1561.1 1135 L1558.1 1135.7 L1555 1136.2 L1551.7 1136.5 L1548.3 1136.5 L1545 1136.2 L1541.9 1135.7 L1538.9 1135 L1536.3 1134.1 L1534 1133 L1532.2 1131.8 L1530.8 1130.4 L1530 1129 L1529.8 1127.5"/>
<path d="M1569 1125.6 L1567.7 1126.9 L1565.8 1128.1 L1563.5 1129.2 L1560.9 1130.1 L1558 1130.8 L1554.9 1131.2 L1551.6 1131.5 L1548.4 1131.5 L1545.1 1131.2 L1542 1130.8 L1539.1 1130.1 L1536.5 1129.2 L1534.2 1128.1 L1532.3 1126.9 L1531 1125.6" stroke-width="2"/>
<ellipse cx="1550" cy="1072.5" rx="20.2" ry="10" fill="#fff"/>
<ellipse cx="1548" cy="1070.5" rx="13" ry="6"/>
<path d="M1552 1082 L1552.5 1125.5"/>
<path d="M1552 1082C1553.8 1081.7 1559.4 1081.2 1562.5 1080C1565.6 1078.8 1569.2 1075.8 1570.5 1075"/>
<ellipse cx="1561.2" cy="1098.8" rx="8.5" ry="14" stroke-width="3.2" transform="rotate(12 1561.2 1098.8)"/></g>
<g transform="translate(0 -0)"><ellipse cx="1550" cy="1150" rx="35" ry="18" stroke-width="3.2" fill="#fff"/>
<ellipse cx="1550" cy="1147.5" rx="28.8" ry="14.5"/>
<ellipse cx="1550" cy="1146.2" rx="23.8" ry="12" stroke-width="3.8"/>
<path d="M1530 1072.5 L1570.5 1072.5 L1570.5 1147.5 L1530 1147.5Z" fill="#fff" stroke="none"/>
<ellipse cx="1550" cy="1147.5" rx="20.2" ry="9.5" fill="#fff"/>
<path d="M1530 1072.5 L1570.5 1072.5 L1570.5 1147.5 L1530 1147.5Z" fill="#fff" stroke="none"/>
<path d="M1530 1072.5 L1530 1147.5"/>
<path d="M1570.5 1072.5 L1570.5 1147.5"/>
<path d="M1570.2 1127.5 L1570 1129 L1569.2 1130.4 L1567.8 1131.8 L1566 1133 L1563.7 1134.1 L1561.1 1135 L1558.1 1135.7 L1555 1136.2 L1551.7 1136.5 L1548.3 1136.5 L1545 1136.2 L1541.9 1135.7 L1538.9 1135 L1536.3 1134.1 L1534 1133 L1532.2 1131.8 L1530.8 1130.4 L1530 1129 L1529.8 1127.5"/>
<path d="M1569 1125.6 L1567.7 1126.9 L1565.8 1128.1 L1563.5 1129.2 L1560.9 1130.1 L1558 1130.8 L1554.9 1131.2 L1551.6 1131.5 L1548.4 1131.5 L1545.1 1131.2 L1542 1130.8 L1539.1 1130.1 L1536.5 1129.2 L1534.2 1128.1 L1532.3 1126.9 L1531 1125.6" stroke-width="2"/>
<ellipse cx="1550" cy="1072.5" rx="20.2" ry="10" fill="#fff"/>
<ellipse cx="1548" cy="1070.5" rx="13" ry="6"/>
<path d="M1552 1082 L1552.5 1125.5"/>
<path d="M1552 1082C1553.8 1081.7 1559.4 1081.2 1562.5 1080C1565.6 1078.8 1569.2 1075.8 1570.5 1075"/>
<ellipse cx="1561.2" cy="1098.8" rx="8.5" ry="14" stroke-width="3.2" transform="rotate(12 1561.2 1098.8)"/></g>
<g transform="translate(378 -218.4)"><path d="M1413.8 1085 L1413.8 1192.5 L1470 1223.8 L1491.2 1220 L1527.5 1200 L1527.5 1110 L1508.8 1092.5 L1505 1080 L1460 1053.8 L1440 1060 L1433.8 1075Z" fill="#fff" stroke="none"/>
<path d="M1413.8 1086.2 L1413.8 1192.5 L1470 1223.8 L1491.2 1220 L1527.5 1200"/>
<path d="M1433.8 1100 L1433.8 1182.5 L1470 1202.5 L1470 1223.8"/>
<path d="M1417.5 1182.5 L1433.8 1182.5"/>
<path d="M1413.8 1192.5 L1407.5 1191.2 L1407.5 1200 L1416.2 1202.5"/>
<path d="M1416.2 1193.8 L1470 1220" stroke-width="4.4"/>
<path d="M1437.5 1177.5 L1460 1190 L1460 1196.2 L1437.5 1183.8 L1437.5 1177.5" stroke-width="3.8"/>
<path d="M1480 1117.5 L1480 1220"/>
<path d="M1491.2 1125 L1491.2 1220"/>
<path d="M1480 1117.5C1480.4 1116.2 1480.8 1110.8 1482.5 1110C1484.2 1109.2 1487.9 1110.8 1490 1112.5C1492.1 1114.2 1494.2 1118.8 1495 1120"/>
<path d="M1466.2 1145C1466.9 1144.2 1468.1 1140.4 1470 1140C1471.9 1139.6 1475.8 1140.8 1477.5 1142.5C1479.2 1144.2 1479.6 1148.8 1480 1150"/>
<path d="M1466.2 1145 L1466.2 1202.5"/>
<path d="M1433.8 1075C1434.4 1072.9 1434 1066 1437.5 1062.5C1441 1059 1450.4 1054.8 1455 1053.8C1459.6 1052.7 1463.3 1055.8 1465 1056.2"/>
<path d="M1465 1056.2 L1505 1080"/>
<path d="M1505 1080C1505.8 1081 1509.4 1084 1510 1086.2C1510.6 1088.5 1509 1092.5 1508.8 1093.8"/>
<path d="M1440 1080C1440.6 1077.9 1441.2 1070.4 1443.8 1067.5C1446.2 1064.6 1453.1 1063.3 1455 1062.5"/>
<path d="M1440 1077.5 L1480 1100 L1505 1086.2"/>
<ellipse cx="1447" cy="1078" rx="7.5" ry="10.5" transform="rotate(-20 1447 1078)"/>
<ellipse cx="1501.2" cy="1086.2" rx="7" ry="10" transform="rotate(-20 1501.2 1086.2)"/>
<path d="M1433.8 1100 L1480 1125"/>
<path d="M1447.5 1082.5 L1492.5 1107.5" stroke-width="2"/>
<path d="M1477.5 1100 L1485 1095 L1492.5 1099.5 L1485.5 1105 L1477.5 1100" stroke-width="3.2"/>
<ellipse cx="1485" cy="1100" rx="2.5" ry="2" stroke-width="3"/>
<path d="M1414.5 1083.8 L1438 1083.8 L1438 1100 L1414.5 1100Z" fill="#fff" stroke="none"/>
<ellipse cx="1426.2" cy="1083.8" rx="12" ry="6" stroke-width="3" fill="#fff"/>
<ellipse cx="1426.2" cy="1083" rx="7.5" ry="3.5" stroke-width="3"/>
<ellipse cx="1426.2" cy="1083" rx="4" ry="1.8"/>
<path d="M1438.2 1092.5 L1438.1 1093.5 L1437.6 1094.4 L1436.8 1095.4 L1435.7 1096.2 L1434.4 1096.9 L1432.8 1097.5 L1431.1 1098 L1429.2 1098.3 L1427.2 1098.5 L1425.3 1098.5 L1423.3 1098.3 L1421.4 1098 L1419.7 1097.5 L1418.1 1096.9 L1416.8 1096.2 L1415.7 1095.4 L1414.9 1094.4 L1414.4 1093.5 L1414.2 1092.5"/>
<path d="M1414.5 1083.8 L1414.5 1093.8"/>
<path d="M1438 1083.8 L1438 1095"/>
<ellipse cx="1520" cy="1093.8" rx="10.5" ry="5.5" stroke-width="3" fill="#fff"/>
<ellipse cx="1520" cy="1093" rx="6.5" ry="3" stroke-width="3"/>
<path d="M1530.5 1101.2 L1530.4 1102.2 L1529.9 1103 L1529.2 1103.9 L1528.3 1104.6 L1527.1 1105.3 L1525.7 1105.9 L1524.2 1106.3 L1522.6 1106.6 L1520.9 1106.7 L1519.1 1106.7 L1517.4 1106.6 L1515.8 1106.3 L1514.3 1105.9 L1512.9 1105.3 L1511.7 1104.6 L1510.8 1103.9 L1510.1 1103 L1509.6 1102.2 L1509.5 1101.2"/>
<path d="M1509.5 1093.8 L1509.5 1101.2"/>
<path d="M1530.5 1093.8 L1530.5 1110"/>
<ellipse cx="1505" cy="1153.8" rx="43.8" ry="28.9" fill="#fff" transform="rotate(112.3 1505 1153.8)"/>
<path d="M1488.4 1194.2 L1498.8 1198.5 L1532 1117.6 L1521.6 1113.3Z" fill="#fff" stroke="none"/>
<path d="M1488.4 1194.2 L1498.8 1198.5"/>
<path d="M1521.6 1113.3 L1532 1117.6"/>
<ellipse cx="1515.4" cy="1158" rx="43.8" ry="28.9" fill="#fff" transform="rotate(112.3 1515.4 1158)"/>
<ellipse cx="1515.4" cy="1158" rx="38.8" ry="25.6" fill="#fff" transform="rotate(112.3 1515.4 1158)"/>
<path d="M1500.7 1193.9 L1503.7 1195.1 L1533.1 1123.4 L1530.1 1122.2Z" fill="#fff" stroke="none"/>
<path d="M1500.7 1193.9 L1503.7 1195.1"/>
<path d="M1530.1 1122.2 L1533.1 1123.4"/>
<ellipse cx="1518.4" cy="1159.3" rx="38.8" ry="25.6" fill="#fff" transform="rotate(112.3 1518.4 1159.3)"/>
<ellipse cx="1518.4" cy="1159.3" rx="42" ry="27.7" fill="#fff" transform="rotate(112.3 1518.4 1159.3)"/>
<path d="M1502.5 1198.1 L1512.9 1200.2 L1543.3 1126.3 L1534.4 1120.4Z" fill="#fff" stroke="none"/>
<path d="M1502.5 1198.1 L1512.9 1200.2"/>
<path d="M1534.4 1120.4 L1543.3 1126.3"/>
<ellipse cx="1528.1" cy="1163.2" rx="40" ry="26.4" fill="#fff" transform="rotate(112.3 1528.1 1163.2)"/>
<ellipse cx="1528.1" cy="1163.2" rx="35" ry="23.1" fill="#fff" transform="rotate(112.3 1528.1 1163.2)"/>
<path d="M1514.8 1195.6 L1517.6 1196.8 L1544.2 1132 L1541.4 1130.9Z" fill="#fff" stroke="none"/>
<path d="M1514.8 1195.6 L1517.6 1196.8"/>
<path d="M1541.4 1130.9 L1544.2 1132"/>
<ellipse cx="1530.9" cy="1164.4" rx="35" ry="23.1" fill="#fff" transform="rotate(112.3 1530.9 1164.4)"/>
<ellipse cx="1530.9" cy="1164.4" rx="38" ry="25.1" fill="#fff" transform="rotate(112.3 1530.9 1164.4)"/>
<path d="M1516.5 1199.5 L1525.9 1201.5 L1553.5 1134.5 L1545.3 1129.2Z" fill="#fff" stroke="none"/>
<path d="M1516.5 1199.5 L1525.9 1201.5"/>
<path d="M1545.3 1129.2 L1553.5 1134.5"/>
<ellipse cx="1539.7" cy="1168" rx="36.2" ry="23.9" fill="#fff" transform="rotate(112.3 1539.7 1168)"/>
<ellipse cx="1539.7" cy="1168" rx="31.2" ry="20.6" fill="#fff" transform="rotate(112.3 1539.7 1168)"/>
<path d="M1527.8 1196.9 L1530.6 1198 L1554.3 1140.2 L1551.6 1139.1Z" fill="#fff" stroke="none"/>
<path d="M1527.8 1196.9 L1530.6 1198"/>
<path d="M1551.6 1139.1 L1554.3 1140.2"/>
<ellipse cx="1542.5" cy="1169.1" rx="31.2" ry="20.6" fill="#fff" transform="rotate(112.3 1542.5 1169.1)"/>
<ellipse cx="1542.5" cy="1169.1" rx="33.8" ry="22.3" fill="#fff" transform="rotate(112.3 1542.5 1169.1)"/>
<path d="M1529.6 1200.4 L1539.1 1202.3 L1563.4 1143.2 L1555.3 1137.9Z" fill="#fff" stroke="none"/>
<path d="M1529.6 1200.4 L1539.1 1202.3"/>
<path d="M1555.3 1137.9 L1563.4 1143.2"/>
<ellipse cx="1551.2" cy="1172.8" rx="32" ry="21.1" fill="#fff" transform="rotate(112.3 1551.2 1172.8)"/>
<ellipse cx="1551.2" cy="1172.8" rx="28" ry="18.5" fill="#fff" transform="rotate(112.3 1551.2 1172.8)"/>
<path d="M1540.6 1198.6 L1545.7 1200.7 L1567 1148.9 L1561.9 1146.9Z" fill="#fff" stroke="none"/>
<path d="M1540.6 1198.6 L1545.7 1200.7"/>
<path d="M1561.9 1146.9 L1567 1148.9"/>
<ellipse cx="1556.3" cy="1174.8" rx="28" ry="18.5" stroke-width="4.4" fill="#fff" transform="rotate(112.3 1556.3 1174.8)"/>
<ellipse cx="1556.3" cy="1174.8" rx="30" ry="19.8" fill="#fff" transform="rotate(112.3 1556.3 1174.8)"/>
<path d="M1544.9 1202.6 L1550.3 1204.8 L1573.1 1149.3 L1567.7 1147.1Z" fill="#fff" stroke="none"/>
<path d="M1544.9 1202.6 L1550.3 1204.8"/>
<path d="M1567.7 1147.1 L1573.1 1149.3"/>
<ellipse cx="1561.7" cy="1177" rx="30" ry="19.8" stroke-width="3.8" fill="#fff" transform="rotate(112.3 1561.7 1177)"/>
<ellipse cx="1561.7" cy="1177" rx="23.8" ry="15.7" fill="#fff" transform="rotate(112.3 1561.7 1177)"/>
<path d="M1552.6 1199 L1563 1203.3 L1581.1 1159.3 L1570.7 1155.1Z" fill="#fff" stroke="none"/>
<path d="M1552.6 1199 L1563 1203.3"/>
<path d="M1570.7 1155.1 L1581.1 1159.3"/>
<ellipse cx="1572.1" cy="1181.3" rx="23.8" ry="15.7" fill="#fff" transform="rotate(112.3 1572.1 1181.3)"/>
<ellipse cx="1572.1" cy="1181.3" rx="21.5" ry="14.2" fill="#fff" transform="rotate(112.3 1572.1 1181.3)"/>
<path d="M1563.9 1201.2 L1598.6 1215.4 L1614.9 1175.7 L1580.2 1161.4Z" fill="#fff" stroke="none"/>
<path d="M1563.9 1201.2 L1598.6 1215.4"/>
<path d="M1580.2 1161.4 L1614.9 1175.7"/>
<ellipse cx="1606.8" cy="1195.5" rx="21.5" ry="14.2" fill="#fff" transform="rotate(112.3 1606.8 1195.5)"/>
<ellipse cx="1606.8" cy="1195.5" rx="15" ry="10" stroke-width="3" transform="rotate(112.3 1606.8 1195.5)"/>
<ellipse cx="1606.8" cy="1195.5" rx="10" ry="6.6" stroke-width="2.5" transform="rotate(112.3 1606.8 1195.5)"/>
<ellipse cx="1606.8" cy="1195.5" rx="6.5" ry="4.3" stroke-width="2" transform="rotate(112.3 1606.8 1195.5)"/>
<path d="M1579.7 1162.8 L1583.1 1171 L1612 1182.8"/>
<ellipse cx="1594.9" cy="1171.8" rx="11" ry="6" stroke-width="2.5" transform="rotate(10 1594.9 1171.8)"/>
<ellipse cx="1594.9" cy="1171.8" rx="6" ry="3.2" stroke-width="1.9" transform="rotate(10 1594.9 1171.8)"/></g>
<path d="M1413.8 1085 L1413.8 1192.5 L1470 1223.8 L1491.2 1220 L1527.5 1200 L1527.5 1110 L1508.8 1092.5 L1505 1080 L1460 1053.8 L1440 1060 L1433.8 1075Z" fill="#fff" stroke="none"/>
<path d="M1413.8 1086.2 L1413.8 1192.5 L1470 1223.8 L1491.2 1220 L1527.5 1200"/>
<path d="M1433.8 1100 L1433.8 1182.5 L1470 1202.5 L1470 1223.8"/>
<path d="M1417.5 1182.5 L1433.8 1182.5"/>
<path d="M1413.8 1192.5 L1407.5 1191.2 L1407.5 1200 L1416.2 1202.5"/>
<path d="M1416.2 1193.8 L1470 1220" stroke-width="4.4"/>
<path d="M1437.5 1177.5 L1460 1190 L1460 1196.2 L1437.5 1183.8 L1437.5 1177.5" stroke-width="3.8"/>
<path d="M1480 1117.5 L1480 1220"/>
<path d="M1491.2 1125 L1491.2 1220"/>
<path d="M1480 1117.5C1480.4 1116.2 1480.8 1110.8 1482.5 1110C1484.2 1109.2 1487.9 1110.8 1490 1112.5C1492.1 1114.2 1494.2 1118.8 1495 1120"/>
<path d="M1466.2 1145C1466.9 1144.2 1468.1 1140.4 1470 1140C1471.9 1139.6 1475.8 1140.8 1477.5 1142.5C1479.2 1144.2 1479.6 1148.8 1480 1150"/>
<path d="M1466.2 1145 L1466.2 1202.5"/>
<path d="M1433.8 1075C1434.4 1072.9 1434 1066 1437.5 1062.5C1441 1059 1450.4 1054.8 1455 1053.8C1459.6 1052.7 1463.3 1055.8 1465 1056.2"/>
<path d="M1465 1056.2 L1505 1080"/>
<path d="M1505 1080C1505.8 1081 1509.4 1084 1510 1086.2C1510.6 1088.5 1509 1092.5 1508.8 1093.8"/>
<path d="M1440 1080C1440.6 1077.9 1441.2 1070.4 1443.8 1067.5C1446.2 1064.6 1453.1 1063.3 1455 1062.5"/>
<path d="M1440 1077.5 L1480 1100 L1505 1086.2"/>
<ellipse cx="1447" cy="1078" rx="7.5" ry="10.5" transform="rotate(-20 1447 1078)"/>
<ellipse cx="1501.2" cy="1086.2" rx="7" ry="10" transform="rotate(-20 1501.2 1086.2)"/>
<path d="M1433.8 1100 L1480 1125"/>
<path d="M1447.5 1082.5 L1492.5 1107.5" stroke-width="2"/>
<path d="M1477.5 1100 L1485 1095 L1492.5 1099.5 L1485.5 1105 L1477.5 1100" stroke-width="3.2"/>
<ellipse cx="1485" cy="1100" rx="2.5" ry="2" stroke-width="3"/>
<path d="M1414.5 1083.8 L1438 1083.8 L1438 1100 L1414.5 1100Z" fill="#fff" stroke="none"/>
<ellipse cx="1426.2" cy="1083.8" rx="12" ry="6" stroke-width="3" fill="#fff"/>
<ellipse cx="1426.2" cy="1083" rx="7.5" ry="3.5" stroke-width="3"/>
<ellipse cx="1426.2" cy="1083" rx="4" ry="1.8"/>
<path d="M1438.2 1092.5 L1438.1 1093.5 L1437.6 1094.4 L1436.8 1095.4 L1435.7 1096.2 L1434.4 1096.9 L1432.8 1097.5 L1431.1 1098 L1429.2 1098.3 L1427.2 1098.5 L1425.3 1098.5 L1423.3 1098.3 L1421.4 1098 L1419.7 1097.5 L1418.1 1096.9 L1416.8 1096.2 L1415.7 1095.4 L1414.9 1094.4 L1414.4 1093.5 L1414.2 1092.5"/>
<path d="M1414.5 1083.8 L1414.5 1093.8"/>
<path d="M1438 1083.8 L1438 1095"/>
<ellipse cx="1520" cy="1093.8" rx="10.5" ry="5.5" stroke-width="3" fill="#fff"/>
<ellipse cx="1520" cy="1093" rx="6.5" ry="3" stroke-width="3"/>
<path d="M1530.5 1101.2 L1530.4 1102.2 L1529.9 1103 L1529.2 1103.9 L1528.3 1104.6 L1527.1 1105.3 L1525.7 1105.9 L1524.2 1106.3 L1522.6 1106.6 L1520.9 1106.7 L1519.1 1106.7 L1517.4 1106.6 L1515.8 1106.3 L1514.3 1105.9 L1512.9 1105.3 L1511.7 1104.6 L1510.8 1103.9 L1510.1 1103 L1509.6 1102.2 L1509.5 1101.2"/>
<path d="M1509.5 1093.8 L1509.5 1101.2"/>
<path d="M1530.5 1093.8 L1530.5 1110"/>
<ellipse cx="1505" cy="1153.8" rx="43.8" ry="28.9" fill="#fff" transform="rotate(112.3 1505 1153.8)"/>
<path d="M1488.4 1194.2 L1498.8 1198.5 L1532 1117.6 L1521.6 1113.3Z" fill="#fff" stroke="none"/>
<path d="M1488.4 1194.2 L1498.8 1198.5"/>
<path d="M1521.6 1113.3 L1532 1117.6"/>
<ellipse cx="1515.4" cy="1158" rx="43.8" ry="28.9" fill="#fff" transform="rotate(112.3 1515.4 1158)"/>
<ellipse cx="1515.4" cy="1158" rx="38.8" ry="25.6" fill="#fff" transform="rotate(112.3 1515.4 1158)"/>
<path d="M1500.7 1193.9 L1503.7 1195.1 L1533.1 1123.4 L1530.1 1122.2Z" fill="#fff" stroke="none"/>
<path d="M1500.7 1193.9 L1503.7 1195.1"/>
<path d="M1530.1 1122.2 L1533.1 1123.4"/>
<ellipse cx="1518.4" cy="1159.3" rx="38.8" ry="25.6" fill="#fff" transform="rotate(112.3 1518.4 1159.3)"/>
<ellipse cx="1518.4" cy="1159.3" rx="42" ry="27.7" fill="#fff" transform="rotate(112.3 1518.4 1159.3)"/>
<path d="M1502.5 1198.1 L1512.9 1200.2 L1543.3 1126.3 L1534.4 1120.4Z" fill="#fff" stroke="none"/>
<path d="M1502.5 1198.1 L1512.9 1200.2"/>
<path d="M1534.4 1120.4 L1543.3 1126.3"/>
<ellipse cx="1528.1" cy="1163.2" rx="40" ry="26.4" fill="#fff" transform="rotate(112.3 1528.1 1163.2)"/>
<ellipse cx="1528.1" cy="1163.2" rx="35" ry="23.1" fill="#fff" transform="rotate(112.3 1528.1 1163.2)"/>
<path d="M1514.8 1195.6 L1517.6 1196.8 L1544.2 1132 L1541.4 1130.9Z" fill="#fff" stroke="none"/>
<path d="M1514.8 1195.6 L1517.6 1196.8"/>
<path d="M1541.4 1130.9 L1544.2 1132"/>
<ellipse cx="1530.9" cy="1164.4" rx="35" ry="23.1" fill="#fff" transform="rotate(112.3 1530.9 1164.4)"/>
<ellipse cx="1530.9" cy="1164.4" rx="38" ry="25.1" fill="#fff" transform="rotate(112.3 1530.9 1164.4)"/>
<path d="M1516.5 1199.5 L1525.9 1201.5 L1553.5 1134.5 L1545.3 1129.2Z" fill="#fff" stroke="none"/>
<path d="M1516.5 1199.5 L1525.9 1201.5"/>
<path d="M1545.3 1129.2 L1553.5 1134.5"/>
<ellipse cx="1539.7" cy="1168" rx="36.2" ry="23.9" fill="#fff" transform="rotate(112.3 1539.7 1168)"/>
<ellipse cx="1539.7" cy="1168" rx="31.2" ry="20.6" fill="#fff" transform="rotate(112.3 1539.7 1168)"/>
<path d="M1527.8 1196.9 L1530.6 1198 L1554.3 1140.2 L1551.6 1139.1Z" fill="#fff" stroke="none"/>
<path d="M1527.8 1196.9 L1530.6 1198"/>
<path d="M1551.6 1139.1 L1554.3 1140.2"/>
<ellipse cx="1542.5" cy="1169.1" rx="31.2" ry="20.6" fill="#fff" transform="rotate(112.3 1542.5 1169.1)"/>
<ellipse cx="1542.5" cy="1169.1" rx="33.8" ry="22.3" fill="#fff" transform="rotate(112.3 1542.5 1169.1)"/>
<path d="M1529.6 1200.4 L1539.1 1202.3 L1563.4 1143.2 L1555.3 1137.9Z" fill="#fff" stroke="none"/>
<path d="M1529.6 1200.4 L1539.1 1202.3"/>
<path d="M1555.3 1137.9 L1563.4 1143.2"/>
<ellipse cx="1551.2" cy="1172.8" rx="32" ry="21.1" fill="#fff" transform="rotate(112.3 1551.2 1172.8)"/>
<ellipse cx="1551.2" cy="1172.8" rx="28" ry="18.5" fill="#fff" transform="rotate(112.3 1551.2 1172.8)"/>
<path d="M1540.6 1198.6 L1545.7 1200.7 L1567 1148.9 L1561.9 1146.9Z" fill="#fff" stroke="none"/>
<path d="M1540.6 1198.6 L1545.7 1200.7"/>
<path d="M1561.9 1146.9 L1567 1148.9"/>
<ellipse cx="1556.3" cy="1174.8" rx="28" ry="18.5" stroke-width="4.4" fill="#fff" transform="rotate(112.3 1556.3 1174.8)"/>
<ellipse cx="1556.3" cy="1174.8" rx="30" ry="19.8" fill="#fff" transform="rotate(112.3 1556.3 1174.8)"/>
<path d="M1544.9 1202.6 L1550.3 1204.8 L1573.1 1149.3 L1567.7 1147.1Z" fill="#fff" stroke="none"/>
<path d="M1544.9 1202.6 L1550.3 1204.8"/>
<path d="M1567.7 1147.1 L1573.1 1149.3"/>
<ellipse cx="1561.7" cy="1177" rx="30" ry="19.8" stroke-width="3.8" fill="#fff" transform="rotate(112.3 1561.7 1177)"/>
<ellipse cx="1561.7" cy="1177" rx="23.8" ry="15.7" fill="#fff" transform="rotate(112.3 1561.7 1177)"/>
<path d="M1552.6 1199 L1563 1203.3 L1581.1 1159.3 L1570.7 1155.1Z" fill="#fff" stroke="none"/>
<path d="M1552.6 1199 L1563 1203.3"/>
<path d="M1570.7 1155.1 L1581.1 1159.3"/>
<ellipse cx="1572.1" cy="1181.3" rx="23.8" ry="15.7" fill="#fff" transform="rotate(112.3 1572.1 1181.3)"/>
<ellipse cx="1572.1" cy="1181.3" rx="21.5" ry="14.2" fill="#fff" transform="rotate(112.3 1572.1 1181.3)"/>
<path d="M1563.9 1201.2 L1598.6 1215.4 L1614.9 1175.7 L1580.2 1161.4Z" fill="#fff" stroke="none"/>
<path d="M1563.9 1201.2 L1598.6 1215.4"/>
<path d="M1580.2 1161.4 L1614.9 1175.7"/>
<ellipse cx="1606.8" cy="1195.5" rx="21.5" ry="14.2" fill="#fff" transform="rotate(112.3 1606.8 1195.5)"/>
<ellipse cx="1606.8" cy="1195.5" rx="15" ry="10" stroke-width="3" transform="rotate(112.3 1606.8 1195.5)"/>
<ellipse cx="1606.8" cy="1195.5" rx="10" ry="6.6" stroke-width="2.5" transform="rotate(112.3 1606.8 1195.5)"/>
<ellipse cx="1606.8" cy="1195.5" rx="6.5" ry="4.3" stroke-width="2" transform="rotate(112.3 1606.8 1195.5)"/>
<path d="M1579.7 1162.8 L1583.1 1171 L1612 1182.8"/>
<ellipse cx="1594.9" cy="1171.8" rx="11" ry="6" stroke-width="2.5" transform="rotate(10 1594.9 1171.8)"/>
<ellipse cx="1594.9" cy="1171.8" rx="6" ry="3.2" stroke-width="1.9" transform="rotate(10 1594.9 1171.8)"/>
<ellipse cx="1780" cy="1090.8" rx="45" ry="27.9" fill="#fff" transform="rotate(38.5 1780 1090.8)"/>
<path d="M1815.3 1118.8 L1824.6 1107.1 L1754.1 1051.1 L1744.8 1062.8Z" fill="#fff" stroke="none"/>
<path d="M1815.3 1118.8 L1824.6 1107.1"/>
<path d="M1744.8 1062.8 L1754.1 1051.1"/>
<ellipse cx="1789.3" cy="1079.1" rx="45" ry="27.9" stroke-width="4.4" fill="#fff" transform="rotate(38.5 1789.3 1079.1)"/>
<ellipse cx="1789.3" cy="1079.1" rx="45" ry="27.9" fill="#fff" transform="rotate(38.5 1789.3 1079.1)"/>
<path d="M1824.6 1107.1 L1837.3 1091 L1766.9 1035 L1754.1 1051.1Z" fill="#fff" stroke="none"/>
<path d="M1824.6 1107.1 L1837.3 1091"/>
<path d="M1754.1 1051.1 L1766.9 1035"/>
<ellipse cx="1802.1" cy="1063" rx="45" ry="27.9" fill="#fff" transform="rotate(38.5 1802.1 1063)"/>
<ellipse cx="1802.1" cy="1063" rx="38.4" ry="23.8" fill="#fff" transform="rotate(38.5 1802.1 1063)"/>
<path d="M1832.2 1086.9 L1834.1 1084.4 L1774 1036.7 L1772.1 1039.1Z" fill="#fff" stroke="none"/>
<path d="M1832.2 1086.9 L1834.1 1084.4"/>
<path d="M1772.1 1039.1 L1774 1036.7"/>
<ellipse cx="1804" cy="1060.5" rx="38.4" ry="23.8" fill="#fff" transform="rotate(38.5 1804 1060.5)"/>
<ellipse cx="1804" cy="1060.5" rx="45" ry="27.9" fill="#fff" transform="rotate(38.5 1804 1060.5)"/>
<path d="M1839.3 1088.6 L1851.7 1073 L1781.2 1016.9 L1768.8 1032.5Z" fill="#fff" stroke="none"/>
<path d="M1839.3 1088.6 L1851.7 1073"/>
<path d="M1768.8 1032.5 L1781.2 1016.9"/>
<ellipse cx="1816.5" cy="1045" rx="45" ry="27.9" fill="#fff" transform="rotate(38.5 1816.5 1045)"/>
<ellipse cx="1816.5" cy="1045" rx="31.5" ry="19.5" fill="#fff" transform="rotate(38.5 1816.5 1045)"/>
<path d="M1841.1 1064.6 L1848.7 1055 L1799.4 1015.8 L1791.8 1025.3Z" fill="#fff" stroke="none"/>
<path d="M1841.1 1064.6 L1848.7 1055"/>
<path d="M1791.8 1025.3 L1799.4 1015.8"/>
<ellipse cx="1824" cy="1035.4" rx="31.5" ry="19.5" fill="#fff" transform="rotate(38.5 1824 1035.4)"/>
<ellipse cx="1824" cy="1035.4" rx="27" ry="16.7" fill="#fff" transform="rotate(38.5 1824 1035.4)"/>
<path d="M1845.2 1052.2 L1846.5 1050.5 L1804.2 1016.9 L1802.9 1018.6Z" fill="#fff" stroke="none"/>
<path d="M1845.2 1052.2 L1846.5 1050.5"/>
<path d="M1802.9 1018.6 L1804.2 1016.9"/>
<ellipse cx="1825.4" cy="1033.7" rx="27" ry="16.7" stroke-width="5" fill="#fff" transform="rotate(38.5 1825.4 1033.7)"/>
<ellipse cx="1825.4" cy="1033.7" rx="21.6" ry="13.4" fill="#fff" transform="rotate(38.5 1825.4 1033.7)"/>
<path d="M1842.3 1047.2 L1849.6 1037.9 L1815.8 1011 L1808.5 1020.3Z" fill="#fff" stroke="none"/>
<path d="M1842.3 1047.2 L1849.6 1037.9"/>
<path d="M1808.5 1020.3 L1815.8 1011"/>
<ellipse cx="1832.7" cy="1024.5" rx="21.6" ry="13.4" fill="#fff" transform="rotate(38.5 1832.7 1024.5)"/>
<ellipse cx="1832.7" cy="1024.5" rx="12.6" ry="7.8" fill="#fff" transform="rotate(38.5 1832.7 1024.5)"/>
<path d="M1842.6 1032.3 L1849.1 1023.2 L1830.3 1008.2 L1822.9 1016.6Z" fill="#fff" stroke="none"/>
<path d="M1842.6 1032.3 L1849.1 1023.2"/>
<path d="M1822.9 1016.6 L1830.3 1008.2"/>
<ellipse cx="1839.7" cy="1015.7" rx="12" ry="7.4" fill="#fff" transform="rotate(38.5 1839.7 1015.7)"/>
<ellipse cx="1839.5" cy="1015.9" rx="11.4" ry="7.1" fill="#fff" transform="rotate(38.5 1839.5 1015.9)"/>
<path d="M1848.5 1023 L1845.5 1017.1 L1837 1010.4 L1830.6 1008.8Z" fill="#fff" stroke="none"/>
<path d="M1848.5 1023 L1845.5 1017.1"/>
<path d="M1830.6 1008.8 L1837 1010.4"/>
<ellipse cx="1841.2" cy="1013.8" rx="5.4" ry="3.3" fill="#fff" transform="rotate(38.5 1841.2 1013.8)"/>
<path d="M1802 1034.3 L1790.2 1049.2" stroke-width="2"/>
<path d="M1826.6 1053.8 L1814.7 1068.7" stroke-width="2"/>
<path d="M1787.8 1052.1 L1775.4 1067.7" stroke-width="2"/>
<path d="M1812.4 1071.7 L1800 1087.2" stroke-width="2"/>
<path d="M1826.7 1020 L1819.7 1028.9" stroke-width="2"/>
<path d="M1840.8 1031.2 L1833.7 1040.1" stroke-width="2"/>
<ellipse cx="1712.5" cy="1128.3" rx="45" ry="27.9" fill="#fff" transform="rotate(38.5 1712.5 1128.3)"/>
<path d="M1747.8 1156.3 L1757.1 1144.6 L1686.6 1088.6 L1677.3 1100.3Z" fill="#fff" stroke="none"/>
<path d="M1747.8 1156.3 L1757.1 1144.6"/>
<path d="M1677.3 1100.3 L1686.6 1088.6"/>
<ellipse cx="1721.8" cy="1116.6" rx="45" ry="27.9" stroke-width="4.4" fill="#fff" transform="rotate(38.5 1721.8 1116.6)"/>
<ellipse cx="1721.8" cy="1116.6" rx="45" ry="27.9" fill="#fff" transform="rotate(38.5 1721.8 1116.6)"/>
<path d="M1757.1 1144.6 L1769.8 1128.5 L1699.4 1072.5 L1686.6 1088.6Z" fill="#fff" stroke="none"/>
<path d="M1757.1 1144.6 L1769.8 1128.5"/>
<path d="M1686.6 1088.6 L1699.4 1072.5"/>
<ellipse cx="1734.6" cy="1100.5" rx="45" ry="27.9" fill="#fff" transform="rotate(38.5 1734.6 1100.5)"/>
<ellipse cx="1734.6" cy="1100.5" rx="38.4" ry="23.8" fill="#fff" transform="rotate(38.5 1734.6 1100.5)"/>
<path d="M1764.7 1124.4 L1766.6 1121.9 L1706.5 1074.2 L1704.6 1076.6Z" fill="#fff" stroke="none"/>
<path d="M1764.7 1124.4 L1766.6 1121.9"/>
<path d="M1704.6 1076.6 L1706.5 1074.2"/>
<ellipse cx="1736.5" cy="1098" rx="38.4" ry="23.8" fill="#fff" transform="rotate(38.5 1736.5 1098)"/>
<ellipse cx="1736.5" cy="1098" rx="45" ry="27.9" fill="#fff" transform="rotate(38.5 1736.5 1098)"/>
<path d="M1771.8 1126.1 L1784.2 1110.5 L1713.7 1054.4 L1701.3 1070Z" fill="#fff" stroke="none"/>
<path d="M1771.8 1126.1 L1784.2 1110.5"/>
<path d="M1701.3 1070 L1713.7 1054.4"/>
<ellipse cx="1749" cy="1082.5" rx="45" ry="27.9" fill="#fff" transform="rotate(38.5 1749 1082.5)"/>
<ellipse cx="1749" cy="1082.5" rx="31.5" ry="19.5" fill="#fff" transform="rotate(38.5 1749 1082.5)"/>
<path d="M1773.6 1102.1 L1781.2 1092.5 L1731.9 1053.3 L1724.3 1062.8Z" fill="#fff" stroke="none"/>
<path d="M1773.6 1102.1 L1781.2 1092.5"/>
<path d="M1724.3 1062.8 L1731.9 1053.3"/>
<ellipse cx="1756.5" cy="1072.9" rx="31.5" ry="19.5" fill="#fff" transform="rotate(38.5 1756.5 1072.9)"/>
<ellipse cx="1756.5" cy="1072.9" rx="27" ry="16.7" fill="#fff" transform="rotate(38.5 1756.5 1072.9)"/>
<path d="M1777.7 1089.7 L1779 1088 L1736.7 1054.4 L1735.4 1056.1Z" fill="#fff" stroke="none"/>
<path d="M1777.7 1089.7 L1779 1088"/>
<path d="M1735.4 1056.1 L1736.7 1054.4"/>
<ellipse cx="1757.9" cy="1071.2" rx="27" ry="16.7" stroke-width="5" fill="#fff" transform="rotate(38.5 1757.9 1071.2)"/>
<ellipse cx="1757.9" cy="1071.2" rx="21.6" ry="13.4" fill="#fff" transform="rotate(38.5 1757.9 1071.2)"/>
<path d="M1774.8 1084.7 L1782.1 1075.4 L1748.3 1048.5 L1741 1057.8Z" fill="#fff" stroke="none"/>
<path d="M1774.8 1084.7 L1782.1 1075.4"/>
<path d="M1741 1057.8 L1748.3 1048.5"/>
<ellipse cx="1765.2" cy="1062" rx="21.6" ry="13.4" fill="#fff" transform="rotate(38.5 1765.2 1062)"/>
<ellipse cx="1765.2" cy="1062" rx="12.6" ry="7.8" fill="#fff" transform="rotate(38.5 1765.2 1062)"/>
<path d="M1775.1 1069.8 L1781.6 1060.7 L1762.8 1045.7 L1755.4 1054.1Z" fill="#fff" stroke="none"/>
<path d="M1775.1 1069.8 L1781.6 1060.7"/>
<path d="M1755.4 1054.1 L1762.8 1045.7"/>
<ellipse cx="1772.2" cy="1053.2" rx="12" ry="7.4" fill="#fff" transform="rotate(38.5 1772.2 1053.2)"/>
<ellipse cx="1772" cy="1053.4" rx="11.4" ry="7.1" fill="#fff" transform="rotate(38.5 1772 1053.4)"/>
<path d="M1781 1060.5 L1778 1054.6 L1769.5 1047.9 L1763.1 1046.3Z" fill="#fff" stroke="none"/>
<path d="M1781 1060.5 L1778 1054.6"/>
<path d="M1763.1 1046.3 L1769.5 1047.9"/>
<ellipse cx="1773.8" cy="1051.2" rx="5.4" ry="3.3" fill="#fff" transform="rotate(38.5 1773.8 1051.2)"/>
<path d="M1734.5 1071.8 L1722.7 1086.7" stroke-width="2"/>
<path d="M1759.1 1091.3 L1747.2 1106.2" stroke-width="2"/>
<path d="M1720.3 1089.6 L1707.9 1105.2" stroke-width="2"/>
<path d="M1744.9 1109.2 L1732.5 1124.8" stroke-width="2"/>
<path d="M1759.2 1057.5 L1752.2 1066.4" stroke-width="2"/>
<path d="M1773.3 1068.7 L1766.2 1077.6" stroke-width="2"/>
<ellipse cx="1541.2" cy="1414.7" rx="45.3" ry="13.6" fill="#fff" transform="rotate(156.4 1541.2 1414.7)"/>
<path d="M1499.7 1432.8 L1520.7 1480.9 L1603.8 1444.7 L1582.8 1396.6Z" fill="#fff" stroke="none"/>
<path d="M1499.7 1432.8 L1520.7 1480.9"/>
<path d="M1582.8 1396.6 L1603.8 1444.7"/>
<ellipse cx="1562.2" cy="1462.8" rx="45.3" ry="13.6" fill="#fff" transform="rotate(156.4 1562.2 1462.8)"/>
<ellipse cx="1562.2" cy="1462.8" rx="39.1" ry="11.7" fill="#fff" transform="rotate(156.4 1562.2 1462.8)"/>
<path d="M1526.5 1478.4 L1529.5 1485.3 L1601 1454 L1598 1447.2Z" fill="#fff" stroke="none"/>
<path d="M1526.5 1478.4 L1529.5 1485.3"/>
<path d="M1598 1447.2 L1601 1454"/>
<ellipse cx="1565.2" cy="1469.7" rx="39.1" ry="11.7" fill="#fff" transform="rotate(156.4 1565.2 1469.7)"/>
<ellipse cx="1565.2" cy="1469.7" rx="45.3" ry="13.6" fill="#fff" transform="rotate(156.4 1565.2 1469.7)"/>
<path d="M1523.7 1487.8 L1536.7 1517.6 L1619.8 1481.3 L1606.8 1451.5Z" fill="#fff" stroke="none"/>
<path d="M1523.7 1487.8 L1536.7 1517.6"/>
<path d="M1606.8 1451.5 L1619.8 1481.3"/>
<ellipse cx="1578.2" cy="1499.4" rx="45.3" ry="13.6" fill="#fff" transform="rotate(156.4 1578.2 1499.4)"/>
<ellipse cx="1578.2" cy="1499.4" rx="39.1" ry="11.7" fill="#fff" transform="rotate(156.4 1578.2 1499.4)"/>
<path d="M1542.5 1515.1 L1545.5 1521.9 L1617 1490.7 L1614 1483.8Z" fill="#fff" stroke="none"/>
<path d="M1542.5 1515.1 L1545.5 1521.9"/>
<path d="M1614 1483.8 L1617 1490.7"/>
<ellipse cx="1581.2" cy="1506.3" rx="39.1" ry="11.7" fill="#fff" transform="rotate(156.4 1581.2 1506.3)"/>
<ellipse cx="1581.2" cy="1506.3" rx="31.2" ry="9.4" fill="#fff" transform="rotate(156.4 1581.2 1506.3)"/>
<path d="M1552.6 1518.8 L1560.4 1536.7 L1617.7 1511.7 L1609.9 1493.8Z" fill="#fff" stroke="none"/>
<path d="M1552.6 1518.8 L1560.4 1536.7"/>
<path d="M1609.9 1493.8 L1617.7 1511.7"/>
<ellipse cx="1589" cy="1524.2" rx="31.2" ry="9.4" fill="#fff" transform="rotate(156.4 1589 1524.2)"/>
<ellipse cx="1589" cy="1524.2" rx="26.6" ry="8" fill="#fff" transform="rotate(156.4 1589 1524.2)"/>
<path d="M1564.7 1534.8 L1566.9 1539.8 L1615.6 1518.6 L1613.4 1513.5Z" fill="#fff" stroke="none"/>
<path d="M1564.7 1534.8 L1566.9 1539.8"/>
<path d="M1613.4 1513.5 L1615.6 1518.6"/>
<ellipse cx="1591.2" cy="1529.2" rx="26.6" ry="8" stroke-width="3.8" fill="#fff" transform="rotate(156.4 1591.2 1529.2)"/>
<ellipse cx="1591.2" cy="1529.2" rx="21.9" ry="6.6" fill="#fff" transform="rotate(156.4 1591.2 1529.2)"/>
<path d="M1571.2 1538 L1580.2 1558.6 L1620.3 1541.1 L1611.3 1520.4Z" fill="#fff" stroke="none"/>
<path d="M1571.2 1538 L1580.2 1558.6"/>
<path d="M1611.3 1520.4 L1620.3 1541.1"/>
<ellipse cx="1600.2" cy="1549.8" rx="21.9" ry="6.6" fill="#fff" transform="rotate(156.4 1600.2 1549.8)"/>
<ellipse cx="1600.2" cy="1549.8" rx="13.1" ry="3.9" fill="#fff" transform="rotate(156.4 1600.2 1549.8)"/>
<path d="M1588.2 1555.1 L1597.8 1575.4 L1620.7 1565.4 L1612.3 1544.6Z" fill="#fff" stroke="none"/>
<path d="M1588.2 1555.1 L1597.8 1575.4"/>
<path d="M1612.3 1544.6 L1620.7 1565.4"/>
<ellipse cx="1609.2" cy="1570.4" rx="12.5" ry="3.8" fill="#fff" transform="rotate(156.4 1609.2 1570.4)"/>
<ellipse cx="1609" cy="1570" rx="11.2" ry="3.4" fill="#fff" transform="rotate(156.4 1609 1570)"/>
<path d="M1598.7 1574.5 L1606.1 1577.3 L1616.4 1572.7 L1619.4 1565.5Z" fill="#fff" stroke="none"/>
<path d="M1598.7 1574.5 L1606.1 1577.3"/>
<path d="M1619.4 1565.5 L1616.4 1572.7"/>
<ellipse cx="1611.2" cy="1575" rx="5.6" ry="1.7" fill="#fff" transform="rotate(156.4 1611.2 1575)"/>
<path d="M1592.9 1552.5 L1584.3 1532.8" stroke-width="2"/>
<path d="M1608.6 1545.6 L1600 1525.9" stroke-width="2"/>
<path d="M1560.9 1506.5 L1548.3 1477.6" stroke-width="2"/>
<path d="M1589.5 1494 L1576.9 1465.1" stroke-width="2"/>
<ellipse cx="1617.5" cy="1372.2" rx="45.3" ry="13.6" fill="#fff" transform="rotate(156.4 1617.5 1372.2)"/>
<path d="M1576 1390.3 L1597 1438.4 L1680 1402.2 L1659 1354.1Z" fill="#fff" stroke="none"/>
<path d="M1576 1390.3 L1597 1438.4"/>
<path d="M1659 1354.1 L1680 1402.2"/>
<ellipse cx="1638.5" cy="1420.3" rx="45.3" ry="13.6" fill="#fff" transform="rotate(156.4 1638.5 1420.3)"/>
<ellipse cx="1638.5" cy="1420.3" rx="39.1" ry="11.7" fill="#fff" transform="rotate(156.4 1638.5 1420.3)"/>
<path d="M1602.7 1435.9 L1605.7 1442.8 L1677.3 1411.5 L1674.3 1404.7Z" fill="#fff" stroke="none"/>
<path d="M1602.7 1435.9 L1605.7 1442.8"/>
<path d="M1674.3 1404.7 L1677.3 1411.5"/>
<ellipse cx="1641.5" cy="1427.2" rx="39.1" ry="11.7" fill="#fff" transform="rotate(156.4 1641.5 1427.2)"/>
<ellipse cx="1641.5" cy="1427.2" rx="45.3" ry="13.6" fill="#fff" transform="rotate(156.4 1641.5 1427.2)"/>
<path d="M1600 1445.3 L1613 1475.1 L1696 1438.8 L1683 1409Z" fill="#fff" stroke="none"/>
<path d="M1600 1445.3 L1613 1475.1"/>
<path d="M1683 1409 L1696 1438.8"/>
<ellipse cx="1654.5" cy="1456.9" rx="45.3" ry="13.6" fill="#fff" transform="rotate(156.4 1654.5 1456.9)"/>
<ellipse cx="1654.5" cy="1456.9" rx="39.1" ry="11.7" fill="#fff" transform="rotate(156.4 1654.5 1456.9)"/>
<path d="M1618.7 1472.6 L1621.7 1479.4 L1693.3 1448.2 L1690.3 1441.3Z" fill="#fff" stroke="none"/>
<path d="M1618.7 1472.6 L1621.7 1479.4"/>
<path d="M1690.3 1441.3 L1693.3 1448.2"/>
<ellipse cx="1657.5" cy="1463.8" rx="39.1" ry="11.7" fill="#fff" transform="rotate(156.4 1657.5 1463.8)"/>
<ellipse cx="1657.5" cy="1463.8" rx="31.2" ry="9.4" fill="#fff" transform="rotate(156.4 1657.5 1463.8)"/>
<path d="M1628.9 1476.3 L1636.7 1494.2 L1693.9 1469.2 L1686.1 1451.3Z" fill="#fff" stroke="none"/>
<path d="M1628.9 1476.3 L1636.7 1494.2"/>
<path d="M1686.1 1451.3 L1693.9 1469.2"/>
<ellipse cx="1665.3" cy="1481.7" rx="31.2" ry="9.4" fill="#fff" transform="rotate(156.4 1665.3 1481.7)"/>
<ellipse cx="1665.3" cy="1481.7" rx="26.6" ry="8" fill="#fff" transform="rotate(156.4 1665.3 1481.7)"/>
<path d="M1641 1492.3 L1643.2 1497.3 L1691.8 1476.1 L1689.6 1471Z" fill="#fff" stroke="none"/>
<path d="M1641 1492.3 L1643.2 1497.3"/>
<path d="M1689.6 1471 L1691.8 1476.1"/>
<ellipse cx="1667.5" cy="1486.7" rx="26.6" ry="8" stroke-width="3.8" fill="#fff" transform="rotate(156.4 1667.5 1486.7)"/>
<ellipse cx="1667.5" cy="1486.7" rx="21.9" ry="6.6" fill="#fff" transform="rotate(156.4 1667.5 1486.7)"/>
<path d="M1647.5 1495.5 L1656.5 1516.1 L1696.5 1498.6 L1687.5 1477.9Z" fill="#fff" stroke="none"/>
<path d="M1647.5 1495.5 L1656.5 1516.1"/>
<path d="M1687.5 1477.9 L1696.5 1498.6"/>
<ellipse cx="1676.5" cy="1507.3" rx="21.9" ry="6.6" fill="#fff" transform="rotate(156.4 1676.5 1507.3)"/>
<ellipse cx="1676.5" cy="1507.3" rx="13.1" ry="3.9" fill="#fff" transform="rotate(156.4 1676.5 1507.3)"/>
<path d="M1664.5 1512.6 L1674 1532.9 L1697 1522.9 L1688.5 1502.1Z" fill="#fff" stroke="none"/>
<path d="M1664.5 1512.6 L1674 1532.9"/>
<path d="M1688.5 1502.1 L1697 1522.9"/>
<ellipse cx="1685.5" cy="1527.9" rx="12.5" ry="3.8" fill="#fff" transform="rotate(156.4 1685.5 1527.9)"/>
<ellipse cx="1685.3" cy="1527.5" rx="11.2" ry="3.4" fill="#fff" transform="rotate(156.4 1685.3 1527.5)"/>
<path d="M1675 1532 L1682.3 1534.8 L1692.7 1530.2 L1695.6 1523Z" fill="#fff" stroke="none"/>
<path d="M1675 1532 L1682.3 1534.8"/>
<path d="M1695.6 1523 L1692.7 1530.2"/>
<ellipse cx="1687.5" cy="1532.5" rx="5.6" ry="1.7" fill="#fff" transform="rotate(156.4 1687.5 1532.5)"/>
<path d="M1669.1 1510 L1660.5 1490.3" stroke-width="2"/>
<path d="M1684.9 1503.1 L1676.3 1483.4" stroke-width="2"/>
<path d="M1637.1 1464 L1624.5 1435.1" stroke-width="2"/>
<path d="M1665.8 1451.5 L1653.2 1422.6" stroke-width="2"/>
<ellipse cx="1700" cy="1349.7" rx="45.3" ry="13.6" fill="#fff" transform="rotate(156.4 1700 1349.7)"/>
<path d="M1658.5 1367.8 L1679.5 1415.9 L1762.5 1379.7 L1741.5 1331.6Z" fill="#fff" stroke="none"/>
<path d="M1658.5 1367.8 L1679.5 1415.9"/>
<path d="M1741.5 1331.6 L1762.5 1379.7"/>
<ellipse cx="1721" cy="1397.8" rx="45.3" ry="13.6" fill="#fff" transform="rotate(156.4 1721 1397.8)"/>
<ellipse cx="1721" cy="1397.8" rx="39.1" ry="11.7" fill="#fff" transform="rotate(156.4 1721 1397.8)"/>
<path d="M1685.2 1413.4 L1688.2 1420.3 L1759.8 1389 L1756.8 1382.2Z" fill="#fff" stroke="none"/>
<path d="M1685.2 1413.4 L1688.2 1420.3"/>
<path d="M1756.8 1382.2 L1759.8 1389"/>
<ellipse cx="1724" cy="1404.7" rx="39.1" ry="11.7" fill="#fff" transform="rotate(156.4 1724 1404.7)"/>
<ellipse cx="1724" cy="1404.7" rx="45.3" ry="13.6" fill="#fff" transform="rotate(156.4 1724 1404.7)"/>
<path d="M1682.5 1422.8 L1695.5 1452.6 L1778.5 1416.3 L1765.5 1386.5Z" fill="#fff" stroke="none"/>
<path d="M1682.5 1422.8 L1695.5 1452.6"/>
<path d="M1765.5 1386.5 L1778.5 1416.3"/>
<ellipse cx="1737" cy="1434.4" rx="45.3" ry="13.6" fill="#fff" transform="rotate(156.4 1737 1434.4)"/>
<ellipse cx="1737" cy="1434.4" rx="39.1" ry="11.7" fill="#fff" transform="rotate(156.4 1737 1434.4)"/>
<path d="M1701.2 1450.1 L1704.2 1456.9 L1775.8 1425.7 L1772.8 1418.8Z" fill="#fff" stroke="none"/>
<path d="M1701.2 1450.1 L1704.2 1456.9"/>
<path d="M1772.8 1418.8 L1775.8 1425.7"/>
<ellipse cx="1740" cy="1441.3" rx="39.1" ry="11.7" fill="#fff" transform="rotate(156.4 1740 1441.3)"/>
<ellipse cx="1740" cy="1441.3" rx="31.2" ry="9.4" fill="#fff" transform="rotate(156.4 1740 1441.3)"/>
<path d="M1711.4 1453.8 L1719.2 1471.7 L1776.4 1446.7 L1768.6 1428.8Z" fill="#fff" stroke="none"/>
<path d="M1711.4 1453.8 L1719.2 1471.7"/>
<path d="M1768.6 1428.8 L1776.4 1446.7"/>
<ellipse cx="1747.8" cy="1459.2" rx="31.2" ry="9.4" fill="#fff" transform="rotate(156.4 1747.8 1459.2)"/>
<ellipse cx="1747.8" cy="1459.2" rx="26.6" ry="8" fill="#fff" transform="rotate(156.4 1747.8 1459.2)"/>
<path d="M1723.5 1469.8 L1725.7 1474.8 L1774.3 1453.6 L1772.1 1448.5Z" fill="#fff" stroke="none"/>
<path d="M1723.5 1469.8 L1725.7 1474.8"/>
<path d="M1772.1 1448.5 L1774.3 1453.6"/>
<ellipse cx="1750" cy="1464.2" rx="26.6" ry="8" stroke-width="3.8" fill="#fff" transform="rotate(156.4 1750 1464.2)"/>
<ellipse cx="1750" cy="1464.2" rx="21.9" ry="6.6" fill="#fff" transform="rotate(156.4 1750 1464.2)"/>
<path d="M1730 1473 L1739 1493.6 L1779 1476.1 L1770 1455.4Z" fill="#fff" stroke="none"/>
<path d="M1730 1473 L1739 1493.6"/>
<path d="M1770 1455.4 L1779 1476.1"/>
<ellipse cx="1759" cy="1484.8" rx="21.9" ry="6.6" fill="#fff" transform="rotate(156.4 1759 1484.8)"/>
<ellipse cx="1759" cy="1484.8" rx="13.1" ry="3.9" fill="#fff" transform="rotate(156.4 1759 1484.8)"/>
<path d="M1747 1490.1 L1756.5 1510.4 L1779.5 1500.4 L1771 1479.6Z" fill="#fff" stroke="none"/>
<path d="M1747 1490.1 L1756.5 1510.4"/>
<path d="M1771 1479.6 L1779.5 1500.4"/>
<ellipse cx="1768" cy="1505.4" rx="12.5" ry="3.8" fill="#fff" transform="rotate(156.4 1768 1505.4)"/>
<ellipse cx="1767.8" cy="1505" rx="11.2" ry="3.4" fill="#fff" transform="rotate(156.4 1767.8 1505)"/>
<path d="M1757.5 1509.5 L1764.8 1512.3 L1775.2 1507.7 L1778.1 1500.5Z" fill="#fff" stroke="none"/>
<path d="M1757.5 1509.5 L1764.8 1512.3"/>
<path d="M1778.1 1500.5 L1775.2 1507.7"/>
<ellipse cx="1770" cy="1510" rx="5.6" ry="1.7" fill="#fff" transform="rotate(156.4 1770 1510)"/>
<path d="M1751.6 1487.5 L1743 1467.8" stroke-width="2"/>
<path d="M1767.4 1480.6 L1758.8 1460.9" stroke-width="2"/>
<path d="M1719.6 1441.5 L1707 1412.6" stroke-width="2"/>
<path d="M1748.2 1429 L1735.7 1400.1" stroke-width="2"/>
<path d="M1812.2 1338.1C1812.4 1345 1813.4 1378.6 1813.8 1390.4C1814.2 1402.2 1815.6 1419.5 1815.2 1426.6C1814.9 1433.8 1812.9 1440.7 1811.2 1443.8C1809.4 1446.8 1805.5 1448.5 1802.1 1449.8C1798.8 1451.1 1788.2 1452.8 1786 1453.2"/>
<path d="M1778 1410.9 L1806.2 1404.9"/>
<path d="M1806.2 1404.9C1807.2 1404.2 1810.9 1402.9 1812.2 1400.5C1813.5 1398 1813.9 1392.1 1814.2 1390.4"/>
<path d="M1778 1414.6C1780.7 1414.2 1789.2 1413.6 1794.1 1412.5C1798.9 1411.5 1804 1410.5 1807.2 1408.5C1810.3 1406.5 1812.2 1401.8 1813.2 1400.5" stroke-width="2"/>
<path d="M1802.1 1410.5 L1803.1 1448.8" stroke-width="1.9"/>
<path d="M1807.2 1407.5 L1808.2 1445.8" stroke-width="1.9"/>
<path d="M1415 1180 L1327.5 1232.5 L1312.5 1245 L1306.2 1267.5 L1310 1290 L1317.5 1300 L1317.5 1430 L1310 1445 L1306.2 1470 L1312.5 1480 L1372.5 1510 L1400 1496.2 L1440 1475 L1465 1500 L1470 1520 L1505 1525 L1530 1475 L1530 1225 L1470 1210Z" fill="#fff" stroke="none"/>
<path d="M1405 1187.5C1398.5 1191.2 1335.2 1227.6 1327.5 1232.5C1319.8 1237.4 1314.3 1243.3 1312.5 1246.2C1310.7 1249.2 1306.5 1263.9 1306.2 1267.5C1306 1271.1 1309.1 1287.3 1310 1290C1310.9 1292.7 1316.9 1299.2 1317.5 1300"/>
<path d="M1317.5 1300 L1317.5 1430"/>
<path d="M1317.5 1430C1316.5 1432 1311.5 1439.7 1310 1445C1308.5 1450.3 1305.9 1465.3 1306.2 1470C1306.6 1474.7 1311.7 1479.1 1312.5 1480.5"/>
<path d="M1312.5 1480.5 L1372.5 1510 L1400 1496.2"/>
<path d="M1327.5 1232.5 L1372.5 1257.5"/>
<path d="M1317.5 1297.5 L1360 1315 L1362.5 1345"/>
<path d="M1317.5 1430 L1362.5 1452.5 L1362.5 1472.5"/>
<path d="M1410 1242.5C1405 1244.4 1388.8 1249.2 1380 1253.8C1371.2 1258.3 1362.3 1263.5 1357.5 1270C1352.7 1276.5 1351 1285.8 1351.2 1292.5C1351.5 1299.2 1356.2 1305 1358.8 1310C1361.2 1315 1365 1320.4 1366.2 1322.5"/>
<path d="M1411.2 1248.8C1406.5 1250.4 1390.8 1254.6 1382.5 1258.8C1374.2 1262.9 1365.8 1268.1 1361.2 1273.8C1356.8 1279.4 1355.3 1286.7 1355.5 1292.5C1355.7 1298.3 1360.3 1304.2 1362.5 1308.8C1364.7 1313.3 1367.7 1318.1 1368.8 1320"/>
<ellipse cx="1373.8" cy="1286.2" rx="8.5" ry="11.5" transform="rotate(20 1373.8 1286.2)"/>
<path d="M1362.5 1445C1361.2 1448.3 1356.7 1458.8 1355 1465C1353.3 1471.2 1351.2 1476.7 1352.5 1482.5C1353.8 1488.3 1357.9 1496.2 1362.5 1500C1367.1 1503.8 1373.8 1506.1 1380 1505.5C1386.2 1504.9 1396.7 1497.8 1400 1496.2"/>
<path d="M1367.5 1447.5C1366.2 1450.6 1361.2 1460.4 1359.5 1466.2C1357.8 1472.1 1356.4 1477.5 1357.5 1482.5C1358.6 1487.5 1362.5 1493.3 1366.2 1496.2C1370 1499.2 1374.8 1500.8 1380 1500C1385.2 1499.2 1394.6 1492.7 1397.5 1491.2"/>
<ellipse cx="1373.8" cy="1478" rx="8.5" ry="11" transform="rotate(20 1373.8 1478)"/>
<path d="M1405 1246.2 L1365 1325"/>
<path d="M1410.5 1248 L1369.5 1328.8"/>
<path d="M1443.8 1270 L1401.2 1357.5"/>
<path d="M1450 1272.5 L1405 1362.5" stroke-width="2"/>
<path d="M1365 1325 L1401.2 1357.5 L1403.8 1410"/>
<path d="M1401.2 1357.5 L1440 1340"/>
<path d="M1410.5 1248C1413.1 1249.3 1424.7 1254.6 1430 1257.5C1435.3 1260.4 1446.7 1265.7 1450 1270C1453.3 1274.3 1455 1282.7 1455 1290C1455 1297.3 1450.3 1318.8 1450 1325C1449.7 1331.2 1452.2 1334.8 1452.5 1336.2"/>
<path d="M1452.5 1336.2C1454.8 1336.1 1465.7 1335.8 1470 1335C1474.3 1334.2 1480.3 1334 1485 1330C1489.7 1326 1500.3 1310.3 1505 1305C1509.7 1299.7 1518 1292 1520 1290"/>
<path d="M1440 1340C1437.3 1343 1423.7 1355.8 1420 1362.5C1416.3 1369.2 1413.2 1383 1412.5 1390C1411.8 1397 1412.7 1409.3 1415 1415C1417.3 1420.7 1424.7 1428.5 1430 1432.5C1435.3 1436.5 1449.7 1442.7 1455 1445C1460.3 1447.3 1468 1449.3 1470 1450"/>
<path d="M1372.5 1440 L1405 1457.5 L1443.8 1485 L1445 1445"/>
<path d="M1375 1447.5 L1442.5 1492.5 L1445 1485"/>
<path d="M1400 1412.5 L1402.5 1496.2"/>
<path d="M1405 1412.5 L1410 1492.5" stroke-width="2"/>
<path d="M1445 1445 L1465 1500"/>
<path d="M1450 1462.5 L1466.2 1506.2" stroke-width="2"/>
<path d="M1416.2 1448.8 L1440 1437.5 L1442.5 1447.5 L1420 1460 L1416.2 1448.8" stroke-width="3.8"/>
<path d="M1422.5 1453.8 L1437.5 1446.2" stroke-width="3.8"/>
<path d="M1383.8 1225 L1391.2 1217.5 L1410 1232.5 L1410 1247.5"/>
<path d="M1391.2 1217.5 L1405 1210 L1485 1225 L1523.8 1247.5 L1523.8 1280"/>
<path d="M1383.8 1225 L1405 1236.2"/>
<path d="M1445 1248.8 L1487.5 1225"/>
<path d="M1410 1232.5 L1445 1248.8 L1452.5 1257.5"/>
<path d="M1452.5 1257.5C1455.4 1261.2 1462.9 1274.6 1470 1280C1477.1 1285.4 1487.1 1289.2 1495 1290C1502.9 1290.8 1513.8 1285.8 1517.5 1285"/>
<path d="M1407.5 1182.5 L1407.5 1197.5 L1417.5 1200"/>
<path d="M1420 1182.5 L1475 1210 L1472.5 1222.5"/>
<path d="M1420 1190 L1470 1216.2" stroke-width="3.8"/>
<path d="M1442.5 1510C1442.1 1512.5 1438.8 1520.4 1440 1525C1441.2 1529.6 1443.3 1534.6 1450 1537.5C1456.7 1540.4 1471.7 1542.9 1480 1542.5C1488.3 1542.1 1495.6 1539.2 1500 1535C1504.4 1530.8 1505.2 1520.4 1506.2 1517.5"/>
<path d="M1445 1510C1448.3 1510.8 1456.7 1515 1465 1515C1473.3 1515 1485.8 1513.3 1495 1510C1504.2 1506.7 1515.8 1497.5 1520 1495"/>
<path d="M1492.5 1500 L1497.5 1517.5"/>
<path d="M1512.5 1495 L1508.8 1510" stroke-width="3.8"/>
<ellipse cx="1355" cy="1388.8" rx="37.5" ry="51.2" fill="#fff" transform="rotate(-18 1355 1388.8)"/>
<ellipse cx="1355.5" cy="1388.8" rx="33" ry="47" transform="rotate(-18 1355.5 1388.8)"/>
<ellipse cx="1353.8" cy="1390" rx="26.2" ry="40" stroke-width="3.2" transform="rotate(-18 1353.8 1390)"/>
<ellipse cx="1352.5" cy="1391.2" rx="22" ry="35" transform="rotate(-18 1352.5 1391.2)"/>
<path d="M1355.6 1361.4 L1358.9 1363.4 L1362.1 1366.1 L1365.1 1369.5 L1367.9 1373.4 L1370.3 1377.8 L1372.3 1382.6 L1373.8 1387.5 L1374.8 1392.5 L1375.2 1397.4 L1375.2 1402.2 L1374.5 1406.6 L1373.3 1410.5 L1371.7 1413.9 L1369.5 1416.6 L1367 1418.6 L1364.2 1419.9 L1361.1 1420.3 L1357.8 1419.9 L1354.4 1418.6" stroke-width="2"/>
<path d="M1355 1337.5C1358.3 1337.9 1369.2 1336.7 1375 1340C1380.8 1343.3 1386.2 1349.6 1390 1357.5C1393.8 1365.4 1396.9 1377.1 1397.5 1387.5C1398.1 1397.9 1395.8 1411.7 1393.8 1420C1391.7 1428.3 1386.5 1434.6 1385 1437.5"/>
<path d="M1336.2 1376.2 L1350 1382.5"/>
<path d="M1340 1402.5 L1360 1390"/>
<ellipse cx="1397.5" cy="1407.5" rx="3.5" ry="5.5" stroke-width="3.8"/>
<path d="M1500 1453.4 L1508.9 1447.8 L1514.3 1446.2 L1517.6 1446.3 L1522.1 1448.1 L1524.4 1450.4 L1526.2 1453.4 L1527.3 1457.1 L1528.2 1466.3 L1529.4 1472.1 L1532 1478 L1535.1 1482.2 L1537.8 1484.5 L1540.2 1485.9 L1545.8 1487.6 L1549.4 1487.8 L1552.4 1487.5 L1559 1485.5 L1563.2 1483.4 L1567 1480.9 L1571.1 1477.5 L1574.9 1473.7 L1581.3 1465.4 L1587.3 1454.3 L1590 1450 L1594.9 1444.6 L1598.5 1441.9 L1604 1439.5 L1609.3 1439.1 L1612.4 1440 L1616.2 1442.3 L1619.6 1443.6 L1623.4 1444.2 L1627.4 1444 L1630.8 1443.4 L1635 1441.9 L1639.2 1439.8 L1643.3 1437.1 L1648.3 1432.7 L1653 1427.6 L1658 1420.6 L1663.3 1410.7 L1666 1406.4 L1670.9 1401 L1674.5 1398.3 L1680 1395.9 L1685.3 1395.5 L1688.4 1396.4 L1692.2 1398.7 L1695 1399.8 L1698.7 1400.5 L1702.7 1400.5 L1706.5 1399.9 L1709.9 1398.8 L1714.1 1396.8 L1718 1394.4 L1723.4 1390.1 L1729 1384 L1734 1377 L1739.3 1367.1 L1742 1362.8 L1745.2 1359.1 L1750.5 1354.7 L1756 1352.3 L1761.3 1351.9 L1764.4 1352.8 L1768.2 1355.1 L1771 1356.2 L1774.7 1356.9 L1778.4 1356.9 L1781.7 1356.4 L1785.6 1355.3 L1793 1351.5 L1799.1 1346.7 L1804.8 1340.7 L1810 1333.4 L1815.3 1323.5 L1818 1319.2 L1822.9 1313.8 L1826.5 1311.1 L1832 1308.7 L1837.3 1308.3 L1840.4 1309.2 L1844.2 1311.5 L1847 1312.6 L1850.4 1313.3 L1854.4 1313.3 L1857.7 1312.8 L1861.6 1311.7 L1868.2 1308.4 L1874.4 1303.8 L1880.1 1297.9 L1885.8 1290.1 L1891.3 1279.9 L1894 1275.6 L1898.9 1270.2 L1902.5 1267.5 L1908 1265.1 L1913.3 1264.7 L1916.4 1265.6 L1920.2 1267.9 L1923 1269 L1926.7 1269.7 L1930.7 1269.7 L1934.5 1269.1 L1938.7 1267.7 L1946.3 1263.4 L1953 1257.7 L1958.8 1251 L1964.2 1242.4 L1968.3 1233.4 L1970.7 1225.1 L1972 1216.9 L1972.2 1210 L1971.2 1200.7 L1971.8 1193.9 L1974 1186.9 L1977.4 1180.3 L1981.9 1174.6 L1987 1170.4 L1990.5 1168.5 L1999 1166.2 L2003.9 1164.2 L2009.2 1161.1 L2014.9 1156.8 L2019.8 1152 L2024.8 1146 L2028.9 1140 L2033.1 1132.4 L2036.3 1124.9 L2038.5 1118 L2040.2 1110.3 L2040.9 1102.3 L2040.8 1095.9 L2039.7 1089 L2037.7 1083 L2034.7 1077.7 L2030.9 1073.5 L2026.4 1070.4 L2021.2 1068.6 L2015.5 1068.2 L2010.4 1068.8 L2004.3 1070.8 L1999.3 1073.3 L1992.8 1077.6 L1989.1 1079.3 L1983.7 1080.2 L1980.4 1079.6 L1978.9 1078.9 L1976.3 1076.9 L1973.5 1072.3 L1972.5 1068.3 L1972 1057.9 L1970.9 1052 L1968.6 1045.9 L1965.6 1041.5 L1963 1039.1 L1960.7 1037.6 L1955.2 1035.5 L1952.3 1035.2 L1948.6 1035.4 L1942.1 1037 L1937.9 1039 L1933.7 1041.6 L1929.6 1044.8 L1925.7 1048.6 L1922.1 1052.9 L1918.7 1057.6 L1912.7 1068.7 L1910 1073 L1905.1 1078.4 L1901.5 1081.1 L1896 1083.5 L1890.7 1083.9 L1887.6 1083 L1883.8 1080.7 L1880.4 1079.4 L1876.6 1078.8 L1872.6 1079 L1868.5 1079.8 L1864.3 1081.4 L1856.7 1085.9 L1851.7 1090.3 L1847 1095.4 L1842 1102.4 L1836.7 1112.3 L1834 1116.6 L1829.1 1122 L1825.5 1124.7 L1820 1127.1 L1814.7 1127.5 L1811.6 1126.6 L1807.8 1124.3 L1805 1123.2 L1801.3 1122.5 L1797.3 1122.5 L1793.2 1123.2 L1789.3 1124.5 L1782 1128.6 L1775.9 1133.6 L1771 1139 L1766 1146 L1760.7 1155.9 L1758 1160.2 L1753.1 1165.6 L1749.5 1168.3 L1744 1170.7 L1738.7 1171.1 L1735.6 1170.2 L1731.8 1167.9 L1729 1166.8 L1725.3 1166.1 L1721.6 1166.1 L1718.3 1166.6 L1714.4 1167.7 L1707 1171.5 L1700.9 1176.3 L1695.2 1182.3 L1690 1189.6 L1684.7 1199.5 L1682 1203.8 L1678.8 1207.5 L1673.5 1211.9 L1668 1214.3 L1662.7 1214.7 L1659.6 1213.8 L1655.8 1211.5 L1653 1210.4 L1649.3 1209.7 L1645.6 1209.7 L1642.3 1210.2 L1638.4 1211.3 L1631.8 1214.6 L1625.6 1219.2 L1619.9 1225.1 L1614.2 1232.9 L1608.7 1243.1 L1606 1247.4 L1602.8 1251.1 L1597.5 1255.5 L1592 1257.9 L1586.7 1258.3 L1583.6 1257.4 L1579.8 1255.1 L1577 1254 L1573.3 1253.3 L1569.3 1253.3 L1565.2 1254 L1561.3 1255.3 L1553.7 1259.6 L1546.7 1265.6 L1540.4 1273.2 L1535.1 1281.9 L1531.2 1291 L1529 1299.3 L1527.9 1307.4 L1527.9 1314.3 L1529.4 1324.3 L1529 1331.2 L1526.9 1338.3 L1523.5 1345.2 L1519 1351.1 L1513.8 1355.5 L1510.2 1357.5 L1501.2 1359.9 L1495 1362.6 L1488 1367.3 L1481.8 1372.8 L1475.4 1380.3 L1469.2 1390.1 L1464.8 1399.5 L1461.7 1409.3 L1460.3 1415.7 L1459.6 1422.5 L1459.6 1428.6 L1460.3 1434.3 L1461.6 1439.6 L1463.5 1444.4 L1465.9 1448.5 L1469 1452 L1472.5 1454.6 L1476.4 1456.5 L1480.7 1457.6 L1485.3 1457.8 L1490.1 1457.2 L1495 1455.7Z" fill="#fff" stroke-width="2.6"/>
<path d="M1503.3 1454.5 L1513.7 1448.2 L1517.4 1447.3 L1522.4 1447.8 L1525.3 1449.2 L1527.7 1451.5 L1529.5 1454.7 L1530.6 1458.5 L1531.4 1468.4 L1532.6 1474 L1534.7 1479.1 L1538 1483.7 L1540.2 1485.7 L1543.1 1487.5 L1548.6 1489.2 L1555.1 1489.1 L1561.5 1487.2 L1565.3 1485.3 L1569.4 1482.6 L1573.3 1479.3 L1577.1 1475.5 L1583.8 1466.6 L1590.5 1454.2 L1593.3 1450.1 L1598.1 1445.1 L1601.7 1442.7 L1607 1440.5 L1610.4 1440.2 L1613.6 1440.8 L1619.1 1443.9 L1621.9 1445 L1625.5 1445.7 L1629.4 1445.7 L1633.4 1445 L1637.5 1443.6 L1641.6 1441.5 L1645.7 1438.8 L1651.5 1433.6 L1656.9 1427.3 L1660.6 1421.8 L1666.5 1410.6 L1669.3 1406.5 L1672.5 1403 L1677.7 1399.1 L1683 1396.9 L1688.1 1396.8 L1691.1 1397.8 L1694.5 1400 L1697.6 1401.3 L1701.2 1402.1 L1705.1 1402.1 L1708.4 1401.6 L1712.5 1400.4 L1716.6 1398.5 L1720.4 1396.1 L1726.3 1391.2 L1731.2 1385.9 L1736.6 1378.2 L1743.8 1364.9 L1748.5 1359.4 L1753.7 1355.5 L1759 1353.3 L1764.1 1353.2 L1767.1 1354.2 L1770.5 1356.4 L1773.6 1357.7 L1777.2 1358.5 L1780.4 1358.5 L1784.4 1358 L1788.2 1356.9 L1795.3 1353.2 L1801.3 1348.5 L1806.9 1342.7 L1812.6 1334.6 L1819.8 1321.3 L1824.5 1315.8 L1829.7 1311.9 L1835 1309.7 L1840.1 1309.6 L1843.1 1310.6 L1846.5 1312.8 L1849.6 1314.1 L1853.2 1314.9 L1856.4 1314.9 L1860.1 1314.5 L1863.4 1313.5 L1870.6 1310.1 L1876.6 1305.5 L1882.9 1299.1 L1888.6 1291 L1895.8 1277.7 L1900.5 1272.2 L1905.7 1268.3 L1911 1266.1 L1916.1 1266 L1919.1 1267 L1922.5 1269.2 L1925.6 1270.5 L1929.2 1271.3 L1933.1 1271.3 L1936.4 1270.8 L1940.5 1269.6 L1944.6 1267.7 L1948.4 1265.3 L1954.6 1260.2 L1960.9 1252.9 L1966.2 1244.5 L1970.1 1235.7 L1972.6 1227.6 L1973.9 1219.2 L1973.9 1212 L1972.7 1202.7 L1973.3 1195.8 L1975.5 1188.7 L1979 1182 L1983.5 1176.3 L1988.7 1172 L1992.3 1170.1 L2000.3 1168.2 L2005.5 1166.2 L2011.3 1163 L2016.3 1159.3 L2021.7 1154.2 L2026.9 1148 L2030.9 1142.1 L2035 1134.7 L2038.2 1127.3 L2040.3 1120.5 L2042 1112.5 L2042.7 1105.1 L2042.5 1097.8 L2041.5 1092 L2039.5 1086.2 L2036.6 1081 L2032.7 1076.6 L2028.2 1073.7 L2023.1 1072 L2017.5 1071.6 L2011.9 1072.5 L2006.7 1074.2 L2000.9 1077.2 L1993.4 1082.2 L1989.8 1083.7 L1986.2 1084.2 L1981.4 1083.2 L1977.6 1080.2 L1975 1075.5 L1974.1 1071.5 L1973.9 1062 L1972.9 1055.9 L1970.7 1049.8 L1967.7 1045.1 L1963.3 1041.3 L1960.8 1040 L1957.6 1039 L1951.6 1038.7 L1944.5 1040.4 L1939.7 1042.7 L1935.6 1045.4 L1931.7 1048.7 L1927.9 1052.5 L1921.2 1061.4 L1914.5 1073.8 L1911.7 1077.9 L1908.5 1081.4 L1903.3 1085.3 L1898 1087.5 L1894.6 1087.8 L1891.4 1087.2 L1885.9 1084.1 L1883.1 1083 L1879.5 1082.3 L1875.6 1082.3 L1871.6 1083 L1867.5 1084.4 L1863.4 1086.5 L1859.3 1089.2 L1853.5 1094.4 L1848.1 1100.7 L1844.4 1106.2 L1838.5 1117.4 L1835.7 1121.5 L1830.9 1126.5 L1827.3 1128.9 L1822 1131.1 L1816.9 1131.2 L1813.9 1130.2 L1810.5 1128 L1807.4 1126.7 L1803.8 1125.9 L1799.9 1125.9 L1796.6 1126.4 L1792.5 1127.6 L1788.7 1129.4 L1784.6 1131.9 L1778.7 1136.8 L1773.8 1142.1 L1768.4 1149.8 L1761.2 1163.1 L1756.5 1168.6 L1751.3 1172.5 L1746 1174.7 L1740.9 1174.8 L1737.9 1173.8 L1734.5 1171.6 L1731.4 1170.3 L1728.4 1169.6 L1724.6 1169.5 L1720.9 1169.9 L1717.6 1170.9 L1713.8 1172.4 L1709.7 1174.8 L1703.7 1179.5 L1698.1 1185.3 L1692.4 1193.4 L1685.2 1206.7 L1680.5 1212.2 L1675.3 1216.1 L1670 1218.3 L1664.9 1218.4 L1661.9 1217.4 L1658.5 1215.2 L1655.4 1213.9 L1652.4 1213.2 L1648.6 1213.1 L1644.9 1213.5 L1641.6 1214.5 L1634.4 1217.9 L1627.7 1223.1 L1622.1 1228.9 L1616.4 1237 L1609.2 1250.3 L1604.5 1255.8 L1599.3 1259.7 L1594 1261.9 L1588.9 1262 L1585.9 1261 L1582.5 1258.8 L1579.4 1257.5 L1575.8 1256.7 L1571.9 1256.7 L1568.6 1257.2 L1564.5 1258.4 L1560.7 1260.2 L1556.6 1262.7 L1549.8 1268.5 L1543.5 1275.9 L1538.3 1284.4 L1534.4 1293.6 L1532.1 1302.1 L1531 1311 L1531.3 1317.5 L1532.9 1327.2 L1532.9 1331.8 L1532 1336.6 L1530.5 1341.5 L1527 1348.4 L1522.4 1354.4 L1517.1 1358.9 L1513.4 1360.8 L1504 1363.2 L1497.9 1365.8 L1490.7 1370.5 L1484.6 1375.9 L1477.6 1384.4 L1472.2 1392.9 L1467.9 1402.2 L1464.8 1411.7 L1463.5 1418.1 L1462.9 1424.3 L1462.8 1430.3 L1463.4 1436 L1464.6 1441.2 L1466.5 1445.9 L1468.9 1450 L1472 1453.6 L1475.4 1456.3 L1479.3 1458.1 L1484.3 1459.3 L1488.9 1459.3 L1493.6 1458.5 L1498.5 1456.9Z" fill="#fff" stroke-width="2.6"/>
<path d="M1533.5 1458.1 L1534.7 1471.4 L1536.4 1477.7 L1539.2 1483 L1543 1487 L1547.7 1489.6 L1553.2 1490.7 L1559 1490.2 L1565 1488.1 L1568.7 1486.1 L1572.7 1483.4 L1579.5 1476.9 L1585.8 1468.5 L1592.7 1455.4 L1595.5 1451.3 L1598.8 1447.7 L1604.1 1443.6 L1609.5 1441.5 L1614.7 1441.4 L1617.7 1442.5 L1623.7 1446 L1626.5 1446.8 L1629.9 1447.1 L1635.7 1446.4 L1642 1444 L1646 1441.7 L1649.7 1439 L1656.1 1432.6 L1662.1 1424.5 L1668.7 1411.8 L1671.5 1407.7 L1674.8 1404.1 L1680.1 1400 L1685.5 1397.9 L1690.7 1397.8 L1693.7 1398.9 L1699.7 1402.4 L1702.5 1403.2 L1705.9 1403.5 L1711.7 1402.8 L1717.7 1400.6 L1725 1395.9 L1732.1 1389 L1738.1 1380.9 L1744.7 1368.2 L1747.5 1364.1 L1750.8 1360.5 L1756.1 1356.4 L1761.5 1354.3 L1766.7 1354.2 L1769.7 1355.3 L1775.7 1358.8 L1778.5 1359.6 L1781.9 1359.9 L1787.7 1359.2 L1793 1357.3 L1797 1355.1 L1800.7 1352.6 L1807.5 1346.1 L1813.8 1337.7 L1820.7 1324.6 L1823.5 1320.5 L1828.5 1315.4 L1832.1 1312.8 L1835.7 1311.2 L1841 1310.4 L1844.2 1311 L1850.3 1314.6 L1855.1 1316.1 L1861.1 1316.1 L1867 1314.6 L1871 1312.7 L1875 1310.2 L1879.6 1306.5 L1883.3 1302.8 L1889.8 1294.1 L1896.7 1281 L1899.5 1276.9 L1904.5 1271.8 L1908.1 1269.2 L1913.5 1267.1 L1917 1266.8 L1920.2 1267.4 L1925.5 1270.6 L1928.5 1271.9 L1932 1272.6 L1935.8 1272.7 L1939.7 1272 L1943.7 1270.7 L1948 1268.5 L1952 1265.9 L1958.6 1259.9 L1964.3 1252.8 L1968.8 1245.2 L1972.5 1236.6 L1974.7 1228.7 L1975.7 1220.9 L1975.6 1214.4 L1974.2 1204.9 L1974.8 1197.8 L1976.9 1190.4 L1980.5 1183.5 L1985.2 1177.6 L1990.6 1173.3 L1994.4 1171.5 L2002 1169.8 L2007.7 1167.8 L2012.8 1165.1 L2018.6 1160.8 L2023.9 1155.8 L2029 1149.7 L2033.6 1142.9 L2037.5 1135.6 L2040.2 1129 L2042.6 1121.2 L2044 1113.4 L2044.5 1106.3 L2044.1 1099.1 L2042.9 1093.6 L2040.8 1087.8 L2037.9 1083.1 L2034 1079.3 L2029.5 1076.6 L2024.4 1075.1 L2018.9 1074.9 L2014 1075.8 L2008 1077.9 L2003.2 1080.5 L1996.9 1084.9 L1993.3 1086.8 L1987.9 1088 L1983.1 1087 L1979.3 1084 L1976.7 1079.2 L1975.9 1075.3 L1975.7 1065.6 L1974.8 1059 L1972.7 1053 L1969.6 1048.2 L1967.5 1046 L1964.8 1044.1 L1959.5 1042.2 L1953.2 1042 L1947 1043.6 L1943 1045.5 L1939 1048 L1934.4 1051.7 L1930.7 1055.4 L1924.2 1064.1 L1917.3 1077.2 L1914.5 1081.3 L1911.2 1084.9 L1905.9 1089 L1902.3 1090.6 L1897 1091.4 L1893.8 1090.8 L1888.5 1087.6 L1885.5 1086.3 L1882 1085.6 L1878.2 1085.5 L1874.3 1086.2 L1870 1087.6 L1866 1089.7 L1862 1092.3 L1855.6 1098 L1850.5 1104.3 L1846.5 1110.5 L1841.3 1120.8 L1838.5 1124.9 L1835.2 1128.5 L1829.9 1132.6 L1824.5 1134.7 L1819.3 1134.8 L1816.3 1133.7 L1812.8 1131.3 L1810.1 1130.1 L1806.6 1129.3 L1802.9 1129.1 L1799 1129.6 L1795 1130.8 L1791.3 1132.5 L1787.3 1135 L1782.1 1139.1 L1776.7 1144.9 L1771.2 1152.9 L1763.9 1166.5 L1759.2 1172.1 L1753.9 1176.2 L1748.5 1178.3 L1743.3 1178.4 L1740.3 1177.3 L1736.8 1174.9 L1734.1 1173.7 L1730.6 1172.9 L1726.9 1172.7 L1723 1173.2 L1719.3 1174.3 L1712.3 1177.9 L1706.4 1182.5 L1701 1188.2 L1695.4 1196.1 L1687.9 1210.1 L1683.2 1215.7 L1677.9 1219.8 L1672.5 1221.9 L1667.3 1222 L1664.3 1220.9 L1660.8 1218.5 L1658.1 1217.3 L1654.9 1216.5 L1651.2 1216.3 L1648 1216.6 L1644 1217.7 L1637 1221.1 L1630.4 1226.1 L1625 1231.8 L1619.4 1239.7 L1611.9 1253.7 L1607.2 1259.3 L1601.9 1263.4 L1596.5 1265.5 L1593 1265.8 L1589.8 1265.2 L1584.5 1262 L1581.5 1260.7 L1578 1260 L1574.2 1259.9 L1570.3 1260.6 L1566.3 1261.9 L1562 1264.1 L1558 1266.7 L1551.4 1272.7 L1545.7 1279.8 L1540.7 1288.2 L1537.1 1297.3 L1535 1305.6 L1534.2 1313.3 L1534.6 1320.2 L1536.5 1329.5 L1536.3 1336.3 L1534.5 1343.5 L1531.3 1350.4 L1526.9 1356.5 L1521.8 1361.2 L1516.3 1364.1 L1507.3 1366.1 L1500.1 1369.1 L1493.1 1373.8 L1485.6 1380.9 L1478.7 1389.9 L1473 1400 L1468.9 1410.9 L1466.5 1422.2 L1466 1428.2 L1466.2 1434 L1466.9 1439.1 L1468.2 1444.1 L1470.1 1448.6 L1472.1 1451.8 L1475 1455.1 L1478.4 1457.7 L1482.2 1459.5 L1486.1 1460.5 L1490.5 1460.7 L1495.1 1460.2 L1499.8 1458.8 L1503.7 1457.1 L1512.9 1451.1 L1516.5 1449.3 L1520 1448.3 L1523.4 1448.1 L1527.9 1449.7 L1531.4 1453.1Z" fill="#fff" stroke-width="2.6"/>
<path d="M1509.4 1456.6 L1517.7 1451 L1523.1 1449 L1526.5 1448.9 L1531 1450.3 L1533.5 1452.4 L1536.2 1457 L1537.2 1460.8 L1537.6 1470.8 L1538.6 1476.3 L1540.5 1481.4 L1543.7 1486.1 L1546 1488.3 L1548.4 1489.9 L1553.9 1491.8 L1556.9 1492 L1560.4 1491.7 L1566.5 1489.9 L1570.5 1487.9 L1574.4 1485.3 L1581.7 1478.5 L1588.1 1469.9 L1594.9 1456.6 L1597.8 1452.3 L1601.1 1448.7 L1606.5 1444.5 L1610.2 1442.8 L1615.6 1442 L1618.8 1442.7 L1624.2 1446.2 L1627.4 1447.6 L1630.8 1448.3 L1634.5 1448.3 L1638.3 1447.7 L1642.5 1446.3 L1647.1 1443.9 L1651 1441.2 L1656.5 1436.1 L1661.8 1429.7 L1665.9 1423.1 L1670.9 1413 L1673.8 1408.7 L1678.8 1403.5 L1682.5 1400.9 L1688 1398.7 L1693.2 1398.7 L1696.3 1399.9 L1699.7 1402.3 L1702.6 1403.7 L1706.2 1404.6 L1709.9 1404.8 L1713.7 1404.3 L1717.6 1403.1 L1721.5 1401.2 L1725.1 1399 L1730.7 1394.4 L1736 1388.6 L1741.3 1380.7 L1745.7 1371.7 L1748.3 1367.2 L1753.1 1361.5 L1758.5 1357.3 L1764 1355.1 L1769.2 1355.1 L1772.3 1356.3 L1775.7 1358.7 L1778.6 1360.1 L1781.9 1361 L1785.6 1361.2 L1788.7 1360.8 L1792.6 1359.8 L1796.5 1358.2 L1800.1 1356.1 L1806.1 1351.4 L1811.4 1345.7 L1816.8 1337.9 L1824.3 1323.6 L1829.1 1317.9 L1834.5 1313.7 L1840 1311.5 L1845.2 1311.5 L1848.3 1312.7 L1851.7 1315.1 L1854.6 1316.5 L1857.9 1317.4 L1861.6 1317.6 L1868.3 1316.3 L1875.4 1312.9 L1881.8 1308 L1887.4 1302.1 L1892.8 1294.3 L1900.3 1280 L1905.1 1274.3 L1910.5 1270.1 L1916 1267.9 L1921.2 1267.9 L1924.3 1269.1 L1927.7 1271.5 L1930.6 1272.9 L1933.9 1273.8 L1937.9 1274 L1941.7 1273.5 L1945.6 1272.3 L1949.2 1270.6 L1953.1 1268.2 L1959.7 1262.7 L1965.6 1255.6 L1970.6 1247.5 L1974.3 1238.7 L1976.5 1231 L1977.5 1223 L1977.4 1216.2 L1975.7 1206.7 L1976.1 1199.9 L1977.2 1195.2 L1979 1190.5 L1982.7 1183.9 L1987.3 1178.3 L1992.6 1174.3 L1996.2 1172.7 L2004.4 1171.2 L2009 1169.6 L2014.9 1166.6 L2019.8 1163.2 L2025.3 1158.2 L2030.4 1152.4 L2035 1145.8 L2038.9 1138.6 L2041.9 1131.5 L2044.3 1123.8 L2045.6 1117.3 L2046.3 1110.2 L2046 1103.2 L2045.1 1097.6 L2043.1 1091.7 L2040.4 1087 L2036.8 1083 L2032.3 1080 L2027.4 1078.4 L2021.2 1078.1 L2016.3 1078.9 L2010.5 1081 L2005 1084.1 L1997.5 1089.4 L1993.9 1091 L1988.7 1091.7 L1985.6 1091.1 L1981.6 1088.4 L1978.8 1084.1 L1977.5 1078.3 L1977.5 1068.5 L1976.8 1062.5 L1974.9 1056.5 L1971.9 1051.6 L1969.6 1049.2 L1967.3 1047.5 L1961.9 1045.4 L1959 1045 L1955.6 1045.2 L1949.4 1046.7 L1944.8 1048.9 L1940.9 1051.5 L1936.9 1054.8 L1933.3 1058.5 L1926.9 1067.1 L1920.1 1080.4 L1917.2 1084.7 L1913.9 1088.3 L1908.5 1092.5 L1904.8 1094.2 L1899.4 1095 L1896.2 1094.3 L1890.8 1090.8 L1887.6 1089.4 L1884.2 1088.7 L1880.5 1088.7 L1876.4 1089.4 L1872.5 1090.7 L1868.5 1092.7 L1864.6 1095.3 L1858.5 1100.9 L1853.2 1107.3 L1849.1 1113.9 L1844.1 1124 L1841.2 1128.3 L1837.9 1131.9 L1832.5 1136.1 L1827 1138.3 L1821.8 1138.3 L1818.7 1137.1 L1815.3 1134.7 L1812.4 1133.3 L1809.1 1132.4 L1805.1 1132.2 L1801.3 1132.7 L1797.4 1133.9 L1793.8 1135.6 L1789.9 1138 L1784.3 1142.6 L1779 1148.4 L1773.7 1156.3 L1769.3 1165.3 L1766.7 1169.8 L1761.9 1175.5 L1756.5 1179.7 L1751 1181.9 L1745.8 1181.9 L1742.7 1180.7 L1739.3 1178.3 L1736.4 1176.9 L1733.1 1176 L1729.4 1175.8 L1726.3 1176.2 L1722.4 1177.2 L1718.5 1178.8 L1714.9 1180.9 L1708.9 1185.6 L1703.6 1191.3 L1698.2 1199.1 L1690.7 1213.4 L1685.9 1219.1 L1680.5 1223.3 L1675 1225.5 L1669.8 1225.5 L1666.7 1224.3 L1663.3 1221.9 L1660.4 1220.5 L1657.1 1219.6 L1653.4 1219.4 L1650.3 1219.8 L1646.4 1220.8 L1639.6 1224.1 L1633.2 1229 L1627.6 1234.9 L1622.2 1242.7 L1614.7 1257 L1609.9 1262.7 L1604.5 1266.9 L1599 1269.1 L1593.8 1269.1 L1590.7 1267.9 L1587.3 1265.5 L1584.4 1264.1 L1581.1 1263.2 L1577.1 1263 L1573.3 1263.5 L1569.7 1264.6 L1565.8 1266.4 L1561.9 1268.8 L1555.1 1274.6 L1549.2 1281.7 L1543.8 1290.7 L1540.2 1299.6 L1538.2 1307.7 L1537.4 1316.1 L1538 1323.1 L1540 1331.8 L1540 1338.5 L1538.3 1345.7 L1536.4 1350.4 L1534 1354.9 L1529.6 1360.5 L1524.5 1364.8 L1519.2 1367.4 L1511.1 1368.8 L1505 1371 L1498 1375.1 L1491.3 1380.7 L1485.1 1387.6 L1479.1 1396.7 L1474.6 1405.9 L1471.2 1416.2 L1469.9 1422.3 L1469.3 1428.3 L1469.3 1434.1 L1469.9 1439.9 L1471.1 1444.8 L1472.9 1449.3 L1475.2 1453.2 L1478.7 1457 L1482.3 1459.5 L1486.1 1461.1 L1490.2 1461.9 L1494.6 1461.9 L1500 1460.9 L1504.7 1459.1Z" fill="#fff" stroke-width="3"/>
<ellipse cx="1567.5" cy="1302.5" rx="38" ry="23.9" stroke-width="4.1" fill="#fff" transform="rotate(-64 1567.5 1302.5)"/>
<ellipse cx="1568.5" cy="1303.5" rx="25" ry="15.8" stroke-width="3.2" transform="rotate(-64 1568.5 1303.5)"/>
<ellipse cx="1570" cy="1304" rx="21.5" ry="13.5" stroke-width="2.5" transform="rotate(-64 1570 1304)"/>
<path d="M1559.5 1306.4 L1560.4 1303.5 L1561.6 1300.6 L1563.1 1297.8 L1564.8 1295.3 L1566.8 1293 L1568.9 1291.1 L1571.1 1289.5 L1573.3 1288.4 L1575.6 1287.8 L1577.7 1287.6 L1579.7 1288 L1581.5 1288.8 L1583.1 1290.1 L1584.3 1291.8 L1585.3 1293.8 L1585.9 1296.2 L1586.1 1298.8 L1586 1301.7 L1585.5 1304.6" stroke-width="2"/>
<ellipse cx="1643.5" cy="1258.9" rx="38" ry="23.9" stroke-width="4.1" fill="#fff" transform="rotate(-64 1643.5 1258.9)"/>
<ellipse cx="1644.5" cy="1259.9" rx="25" ry="15.8" stroke-width="3.2" transform="rotate(-64 1644.5 1259.9)"/>
<ellipse cx="1646" cy="1260.4" rx="21.5" ry="13.5" stroke-width="2.5" transform="rotate(-64 1646 1260.4)"/>
<path d="M1635.5 1262.8 L1636.4 1259.9 L1637.6 1257 L1639.1 1254.2 L1640.8 1251.7 L1642.8 1249.4 L1644.9 1247.5 L1647.1 1245.9 L1649.3 1244.8 L1651.6 1244.2 L1653.7 1244 L1655.7 1244.4 L1657.5 1245.2 L1659.1 1246.5 L1660.3 1248.2 L1661.3 1250.2 L1661.9 1252.6 L1662.1 1255.2 L1662 1258.1 L1661.5 1261" stroke-width="2"/>
<ellipse cx="1719.5" cy="1215.3" rx="38" ry="23.9" stroke-width="4.1" fill="#fff" transform="rotate(-64 1719.5 1215.3)"/>
<ellipse cx="1720.5" cy="1216.3" rx="25" ry="15.8" stroke-width="3.2" transform="rotate(-64 1720.5 1216.3)"/>
<ellipse cx="1722" cy="1216.8" rx="21.5" ry="13.5" stroke-width="2.5" transform="rotate(-64 1722 1216.8)"/>
<path d="M1711.5 1219.2 L1712.4 1216.3 L1713.6 1213.4 L1715.1 1210.6 L1716.8 1208.1 L1718.8 1205.8 L1720.9 1203.9 L1723.1 1202.3 L1725.3 1201.2 L1727.6 1200.6 L1729.7 1200.4 L1731.7 1200.8 L1733.5 1201.6 L1735.1 1202.9 L1736.3 1204.6 L1737.3 1206.6 L1737.9 1209 L1738.1 1211.6 L1738 1214.5 L1737.5 1217.4" stroke-width="2"/>
<ellipse cx="1795.5" cy="1171.7" rx="38" ry="23.9" stroke-width="4.1" fill="#fff" transform="rotate(-64 1795.5 1171.7)"/>
<ellipse cx="1796.5" cy="1172.7" rx="25" ry="15.8" stroke-width="3.2" transform="rotate(-64 1796.5 1172.7)"/>
<ellipse cx="1798" cy="1173.2" rx="21.5" ry="13.5" stroke-width="2.5" transform="rotate(-64 1798 1173.2)"/>
<path d="M1787.5 1175.6 L1788.4 1172.7 L1789.6 1169.8 L1791.1 1167 L1792.8 1164.5 L1794.8 1162.2 L1796.9 1160.3 L1799.1 1158.7 L1801.3 1157.6 L1803.6 1157 L1805.7 1156.8 L1807.7 1157.2 L1809.5 1158 L1811.1 1159.3 L1812.3 1161 L1813.3 1163 L1813.9 1165.4 L1814.1 1168 L1814 1170.9 L1813.5 1173.8" stroke-width="2"/>
<ellipse cx="1871.5" cy="1128.1" rx="38" ry="23.9" stroke-width="4.1" fill="#fff" transform="rotate(-64 1871.5 1128.1)"/>
<ellipse cx="1872.5" cy="1129.1" rx="25" ry="15.8" stroke-width="3.2" transform="rotate(-64 1872.5 1129.1)"/>
<ellipse cx="1874" cy="1129.6" rx="21.5" ry="13.5" stroke-width="2.5" transform="rotate(-64 1874 1129.6)"/>
<path d="M1863.5 1132 L1864.4 1129.1 L1865.6 1126.2 L1867.1 1123.4 L1868.8 1120.9 L1870.8 1118.6 L1872.9 1116.7 L1875.1 1115.1 L1877.3 1114 L1879.6 1113.4 L1881.7 1113.2 L1883.7 1113.6 L1885.5 1114.4 L1887.1 1115.7 L1888.3 1117.4 L1889.3 1119.4 L1889.9 1121.8 L1890.1 1124.4 L1890 1127.3 L1889.5 1130.2" stroke-width="2"/>
<ellipse cx="1947.5" cy="1084.5" rx="38" ry="23.9" stroke-width="4.1" fill="#fff" transform="rotate(-64 1947.5 1084.5)"/>
<ellipse cx="1948.5" cy="1085.5" rx="25" ry="15.8" stroke-width="3.2" transform="rotate(-64 1948.5 1085.5)"/>
<ellipse cx="1950" cy="1086" rx="21.5" ry="13.5" stroke-width="2.5" transform="rotate(-64 1950 1086)"/>
<path d="M1939.5 1088.4 L1940.4 1085.5 L1941.6 1082.6 L1943.1 1079.8 L1944.8 1077.3 L1946.8 1075 L1948.9 1073.1 L1951.1 1071.5 L1953.3 1070.4 L1955.6 1069.8 L1957.7 1069.6 L1959.7 1070 L1961.5 1070.8 L1963.1 1072.1 L1964.3 1073.8 L1965.3 1075.8 L1965.9 1078.2 L1966.1 1080.8 L1966 1083.7 L1965.5 1086.6" stroke-width="2"/>
<ellipse cx="1567.5" cy="1452.5" rx="38" ry="23.9" stroke-width="4.1" fill="#fff" transform="rotate(-64 1567.5 1452.5)"/>
<ellipse cx="1568.5" cy="1453.5" rx="25" ry="15.8" stroke-width="3.2" transform="rotate(-64 1568.5 1453.5)"/>
<ellipse cx="1570" cy="1454" rx="21.5" ry="13.5" stroke-width="2.5" transform="rotate(-64 1570 1454)"/>
<path d="M1559.5 1456.4 L1560.4 1453.5 L1561.6 1450.6 L1563.1 1447.8 L1564.8 1445.3 L1566.8 1443 L1568.9 1441.1 L1571.1 1439.5 L1573.3 1438.4 L1575.6 1437.8 L1577.7 1437.6 L1579.7 1438 L1581.5 1438.8 L1583.1 1440.1 L1584.3 1441.8 L1585.3 1443.8 L1585.9 1446.2 L1586.1 1448.8 L1586 1451.7 L1585.5 1454.6" stroke-width="2"/>
<ellipse cx="1643.5" cy="1408.9" rx="38" ry="23.9" stroke-width="4.1" fill="#fff" transform="rotate(-64 1643.5 1408.9)"/>
<ellipse cx="1644.5" cy="1409.9" rx="25" ry="15.8" stroke-width="3.2" transform="rotate(-64 1644.5 1409.9)"/>
<ellipse cx="1646" cy="1410.4" rx="21.5" ry="13.5" stroke-width="2.5" transform="rotate(-64 1646 1410.4)"/>
<path d="M1635.5 1412.8 L1636.4 1409.9 L1637.6 1407 L1639.1 1404.2 L1640.8 1401.7 L1642.8 1399.4 L1644.9 1397.5 L1647.1 1395.9 L1649.3 1394.8 L1651.6 1394.2 L1653.7 1394 L1655.7 1394.4 L1657.5 1395.2 L1659.1 1396.5 L1660.3 1398.2 L1661.3 1400.2 L1661.9 1402.6 L1662.1 1405.2 L1662 1408.1 L1661.5 1411" stroke-width="2"/>
<ellipse cx="1719.5" cy="1365.3" rx="38" ry="23.9" stroke-width="4.1" fill="#fff" transform="rotate(-64 1719.5 1365.3)"/>
<ellipse cx="1720.5" cy="1366.3" rx="25" ry="15.8" stroke-width="3.2" transform="rotate(-64 1720.5 1366.3)"/>
<ellipse cx="1722" cy="1366.8" rx="21.5" ry="13.5" stroke-width="2.5" transform="rotate(-64 1722 1366.8)"/>
<path d="M1711.5 1369.2 L1712.4 1366.3 L1713.6 1363.4 L1715.1 1360.6 L1716.8 1358.1 L1718.8 1355.8 L1720.9 1353.9 L1723.1 1352.3 L1725.3 1351.2 L1727.6 1350.6 L1729.7 1350.4 L1731.7 1350.8 L1733.5 1351.6 L1735.1 1352.9 L1736.3 1354.6 L1737.3 1356.6 L1737.9 1359 L1738.1 1361.6 L1738 1364.5 L1737.5 1367.4" stroke-width="2"/>
<ellipse cx="1795.5" cy="1321.7" rx="38" ry="23.9" stroke-width="4.1" fill="#fff" transform="rotate(-64 1795.5 1321.7)"/>
<ellipse cx="1796.5" cy="1322.7" rx="25" ry="15.8" stroke-width="3.2" transform="rotate(-64 1796.5 1322.7)"/>
<ellipse cx="1798" cy="1323.2" rx="21.5" ry="13.5" stroke-width="2.5" transform="rotate(-64 1798 1323.2)"/>
<path d="M1787.5 1325.6 L1788.4 1322.7 L1789.6 1319.8 L1791.1 1317 L1792.8 1314.5 L1794.8 1312.2 L1796.9 1310.3 L1799.1 1308.7 L1801.3 1307.6 L1803.6 1307 L1805.7 1306.8 L1807.7 1307.2 L1809.5 1308 L1811.1 1309.3 L1812.3 1311 L1813.3 1313 L1813.9 1315.4 L1814.1 1318 L1814 1320.9 L1813.5 1323.8" stroke-width="2"/>
<ellipse cx="1871.5" cy="1278.1" rx="38" ry="23.9" stroke-width="4.1" fill="#fff" transform="rotate(-64 1871.5 1278.1)"/>
<ellipse cx="1872.5" cy="1279.1" rx="25" ry="15.8" stroke-width="3.2" transform="rotate(-64 1872.5 1279.1)"/>
<ellipse cx="1874" cy="1279.6" rx="21.5" ry="13.5" stroke-width="2.5" transform="rotate(-64 1874 1279.6)"/>
<path d="M1863.5 1282 L1864.4 1279.1 L1865.6 1276.2 L1867.1 1273.4 L1868.8 1270.9 L1870.8 1268.6 L1872.9 1266.7 L1875.1 1265.1 L1877.3 1264 L1879.6 1263.4 L1881.7 1263.2 L1883.7 1263.6 L1885.5 1264.4 L1887.1 1265.7 L1888.3 1267.4 L1889.3 1269.4 L1889.9 1271.8 L1890.1 1274.4 L1890 1277.3 L1889.5 1280.2" stroke-width="2"/>
<ellipse cx="1947.5" cy="1234.5" rx="38" ry="23.9" stroke-width="4.1" fill="#fff" transform="rotate(-64 1947.5 1234.5)"/>
<ellipse cx="1948.5" cy="1235.5" rx="25" ry="15.8" stroke-width="3.2" transform="rotate(-64 1948.5 1235.5)"/>
<ellipse cx="1950" cy="1236" rx="21.5" ry="13.5" stroke-width="2.5" transform="rotate(-64 1950 1236)"/>
<path d="M1939.5 1238.4 L1940.4 1235.5 L1941.6 1232.6 L1943.1 1229.8 L1944.8 1227.3 L1946.8 1225 L1948.9 1223.1 L1951.1 1221.5 L1953.3 1220.4 L1955.6 1219.8 L1957.7 1219.6 L1959.7 1220 L1961.5 1220.8 L1963.1 1222.1 L1964.3 1223.8 L1965.3 1225.8 L1965.9 1228.2 L1966.1 1230.8 L1966 1233.7 L1965.5 1236.6" stroke-width="2"/>
<ellipse cx="1567.5" cy="1379.5" rx="26.6" ry="17.9" stroke-width="4.8" fill="#fff" transform="rotate(-62 1567.5 1379.5)"/>
<path d="M1564.1 1359.5 L1564.1 1400" stroke-width="2.5"/>
<path d="M1569.7 1356 L1569.7 1396.5" stroke-width="2.5"/>
<ellipse cx="1643.5" cy="1335.9" rx="26.6" ry="17.9" stroke-width="4.8" fill="#fff" transform="rotate(-62 1643.5 1335.9)"/>
<path d="M1640.1 1315.9 L1640.1 1356.4" stroke-width="2.5"/>
<path d="M1645.7 1312.4 L1645.7 1352.9" stroke-width="2.5"/>
<ellipse cx="1719.5" cy="1292.3" rx="26.6" ry="17.9" stroke-width="4.8" fill="#fff" transform="rotate(-62 1719.5 1292.3)"/>
<path d="M1716.1 1272.3 L1716.1 1312.8" stroke-width="2.5"/>
<path d="M1721.7 1268.8 L1721.7 1309.3" stroke-width="2.5"/>
<ellipse cx="1795.5" cy="1248.7" rx="26.6" ry="17.9" stroke-width="4.8" fill="#fff" transform="rotate(-62 1795.5 1248.7)"/>
<path d="M1792.1 1228.7 L1792.1 1269.2" stroke-width="2.5"/>
<path d="M1797.7 1225.2 L1797.7 1265.7" stroke-width="2.5"/>
<ellipse cx="1871.5" cy="1205.1" rx="26.6" ry="17.9" stroke-width="4.8" fill="#fff" transform="rotate(-62 1871.5 1205.1)"/>
<path d="M1868.1 1185.1 L1868.1 1225.6" stroke-width="2.5"/>
<path d="M1873.7 1181.6 L1873.7 1222.1" stroke-width="2.5"/>
<ellipse cx="1947.5" cy="1161.5" rx="26.6" ry="17.9" stroke-width="4.8" fill="#fff" transform="rotate(-62 1947.5 1161.5)"/>
<path d="M1944.1 1141.5 L1944.1 1182" stroke-width="2.5"/>
<path d="M1949.7 1138 L1949.7 1178.5" stroke-width="2.5"/>
<ellipse cx="1505" cy="1415" rx="45" ry="28.4" stroke-width="2.5" fill="#fff" transform="rotate(-64 1505 1415)"/>
<ellipse cx="1505" cy="1415" rx="42" ry="26.5" stroke-width="2.5" transform="rotate(-64 1505 1415)"/>
<ellipse cx="1506" cy="1415" rx="34" ry="21.4" stroke-width="3" transform="rotate(-64 1506 1415)"/>
<ellipse cx="1507" cy="1416" rx="30" ry="18.9" stroke-width="2.5" transform="rotate(-64 1507 1416)"/>
<path d="M1492.6 1419.3 L1493.8 1415.1 L1495.5 1411 L1497.6 1407.1 L1500.1 1403.4 L1502.9 1400.2 L1505.9 1397.5 L1509 1395.3 L1512.2 1393.7 L1515.4 1392.8 L1518.4 1392.6 L1521.2 1393.1 L1523.8 1394.3 L1526 1396.1 L1527.8 1398.5 L1529.2 1401.4 L1530 1404.8 L1530.3 1408.5 L1530.1 1412.6 L1529.4 1416.7" stroke-width="2"/>
<ellipse cx="2010.5" cy="1125" rx="45" ry="28.4" stroke-width="2.5" fill="#fff" transform="rotate(-64 2010.5 1125)"/>
<ellipse cx="2010.5" cy="1125" rx="42" ry="26.5" stroke-width="2.5" transform="rotate(-64 2010.5 1125)"/>
<ellipse cx="2011.5" cy="1125" rx="34" ry="21.4" stroke-width="3" transform="rotate(-64 2011.5 1125)"/>
<ellipse cx="2012.5" cy="1126" rx="30" ry="18.9" stroke-width="2.5" transform="rotate(-64 2012.5 1126)"/>
<path d="M1998.1 1129.3 L1999.3 1125.1 L2001 1121 L2003.1 1117.1 L2005.6 1113.4 L2008.4 1110.2 L2011.4 1107.5 L2014.5 1105.3 L2017.7 1103.7 L2020.9 1102.8 L2023.9 1102.6 L2026.7 1103.1 L2029.3 1104.3 L2031.5 1106.1 L2033.3 1108.5 L2034.7 1111.4 L2035.5 1114.8 L2035.8 1118.5 L2035.6 1122.6 L2034.9 1126.7" stroke-width="2"/>
<path d="M1201 1482 L1229.5 1469.5"/>
<path d="M1282 1434.5 L1302 1424.5"/>
<path d="M1312 1418 L1362 1390.5"/>
<ellipse cx="1273" cy="1441" rx="15" ry="10.5" fill="#fff" transform="rotate(-118 1273 1441)"/>
<path d="M1266 1427.8 L1242.5 1440.3 L1256.5 1466.7 L1280 1454.2Z" fill="#fff" stroke="none"/>
<path d="M1266 1427.8 L1242.5 1440.3"/>
<path d="M1280 1454.2 L1256.5 1466.7"/>
<ellipse cx="1249.5" cy="1453.5" rx="15" ry="10.5" fill="#fff" transform="rotate(-118 1249.5 1453.5)"/>
<ellipse cx="1249.5" cy="1453.5" rx="10" ry="14" stroke-width="2" transform="rotate(-25 1249.5 1453.5)"/>
<path d="M1253 1454 L1250.8 1460.1 L1246.2 1460.1 L1244 1454 L1246.2 1447.9 L1250.8 1447.9Z" stroke-width="2.2"/>
<path d="M1255 1433.4 L1256.6 1432.4 L1258.3 1431.8 L1260.1 1431.6 L1262.1 1431.8 L1264 1432.4 L1265.9 1433.3 L1267.8 1434.6 L1269.5 1436.2 L1271 1438 L1272.3 1440.1 L1273.4 1442.4 L1274.2 1444.7 L1274.7 1447.1 L1274.8 1449.4 L1274.6 1451.7 L1274.2 1453.8 L1273.4 1455.6 L1272.3 1457.3 L1271 1458.6" stroke-width="1.9"/>
</g>
<path d="M27.5 644 L2.5 608 L818 0.5"/>
<path d="M817.5 0 L845 37.5"/>
<path d="M361 260 L409 303.5"/>
<path d="M589 316 L582.5 368.5"/>
<path d="M920 257.5 L944 310"/>
<path d="M289 560 L334 527.5"/>
<path d="M200 735 L435 723.5"/>
<path d="M248.5 820 L505 786"/>
<path d="M380 858.5 L567.5 845"/>
<path d="M1193 267.5 L1155.5 298.5"/>
<path d="M1252 342.5 L1218 365"/>
<path d="M1379 349 L1178 636"/>
<path d="M1613 556 L1640.5 593.5 L1481.5 712.5 L1453 675"/>
<path d="M1560.5 654 L1577 672.5"/>
<path d="M1422 738.5 L1449.5 775 L1290 894 L1262 857"/>
<path d="M1370.5 836 L1387 855"/>
<path d="M1985.5 561 L516.5 1653.5"/>
<path d="M361 987 L405 953.5"/>
<path d="M482.5 1071 L565 1084.5"/>
<path d="M686 1199.5 L674 1168"/>
<path d="M287.5 1239.5 L260 1204.5 L74 1340.5 L100 1377"/>
<path d="M149 1263 L164 1273"/>
<path d="M426 1359.5 L453 1396 L292.5 1515.5 L265 1478"/>
<path d="M375 1456 L389 1472"/>
<path d="M1203 1323.5 L1224.5 1323.5 L1362 1384.5"/>
<path d="M2067 1189.5 L2004.5 1124.5"/>
<path d="M1324.5 1544.5 L1267 1454.5"/>
<path d="M1498 1427 L1471 1674.5 L1494.5 1674.5"/>
<text x="328" y="254" font-size="41.7">A</text>
<text x="572" y="309.5" font-size="41.7" letter-spacing="-1.5">11</text>
<text x="859.5" y="222" font-size="41.7" letter-spacing="-3">12</text>
<text x="237.5" y="593.5" font-size="41.7" letter-spacing="-3">10</text>
<text x="171" y="750" font-size="41.7">7</text>
<text x="147.5" y="754" font-size="59" font-weight="bold">*</text>
<text x="216.5" y="835.3" font-size="41.7">8</text>
<text x="349" y="869.8" font-size="41.7">8</text>
<text x="1200" y="270" font-size="41.7">8</text>
<text x="1256" y="347" font-size="41.7">7</text>
<text x="1365.5" y="332.5" font-size="41.7" letter-spacing="-3">14</text>
<text x="1582" y="710" font-size="41.7">5</text>
<text x="1392" y="887.5" font-size="41.7">6</text>
<text x="331" y="1015.7" font-size="41.7">9</text>
<text x="453" y="1079" font-size="41.7">1</text>
<text x="678" y="1239" font-size="41.7">2</text>
<text x="124" y="1265" font-size="41.7">3</text>
<text x="389" y="1498.5" font-size="41.7">4</text>
<text x="28" y="1550.4" font-size="33">CD6775A</text>
<text x="1119.6" y="1336.4" font-size="41.7">OUT</text>
<text x="2069" y="1232" font-size="41.7">IN</text>
<text x="1305.5" y="1586" font-size="41.7" letter-spacing="-3">13</text>
<text x="1521.5" y="1682.5" font-size="41.3">Power Beyond</text>
<text x="1149.5" y="1768" font-size="41.6">Port Function In Power Beyond Configuration</text></svg></body></html>
